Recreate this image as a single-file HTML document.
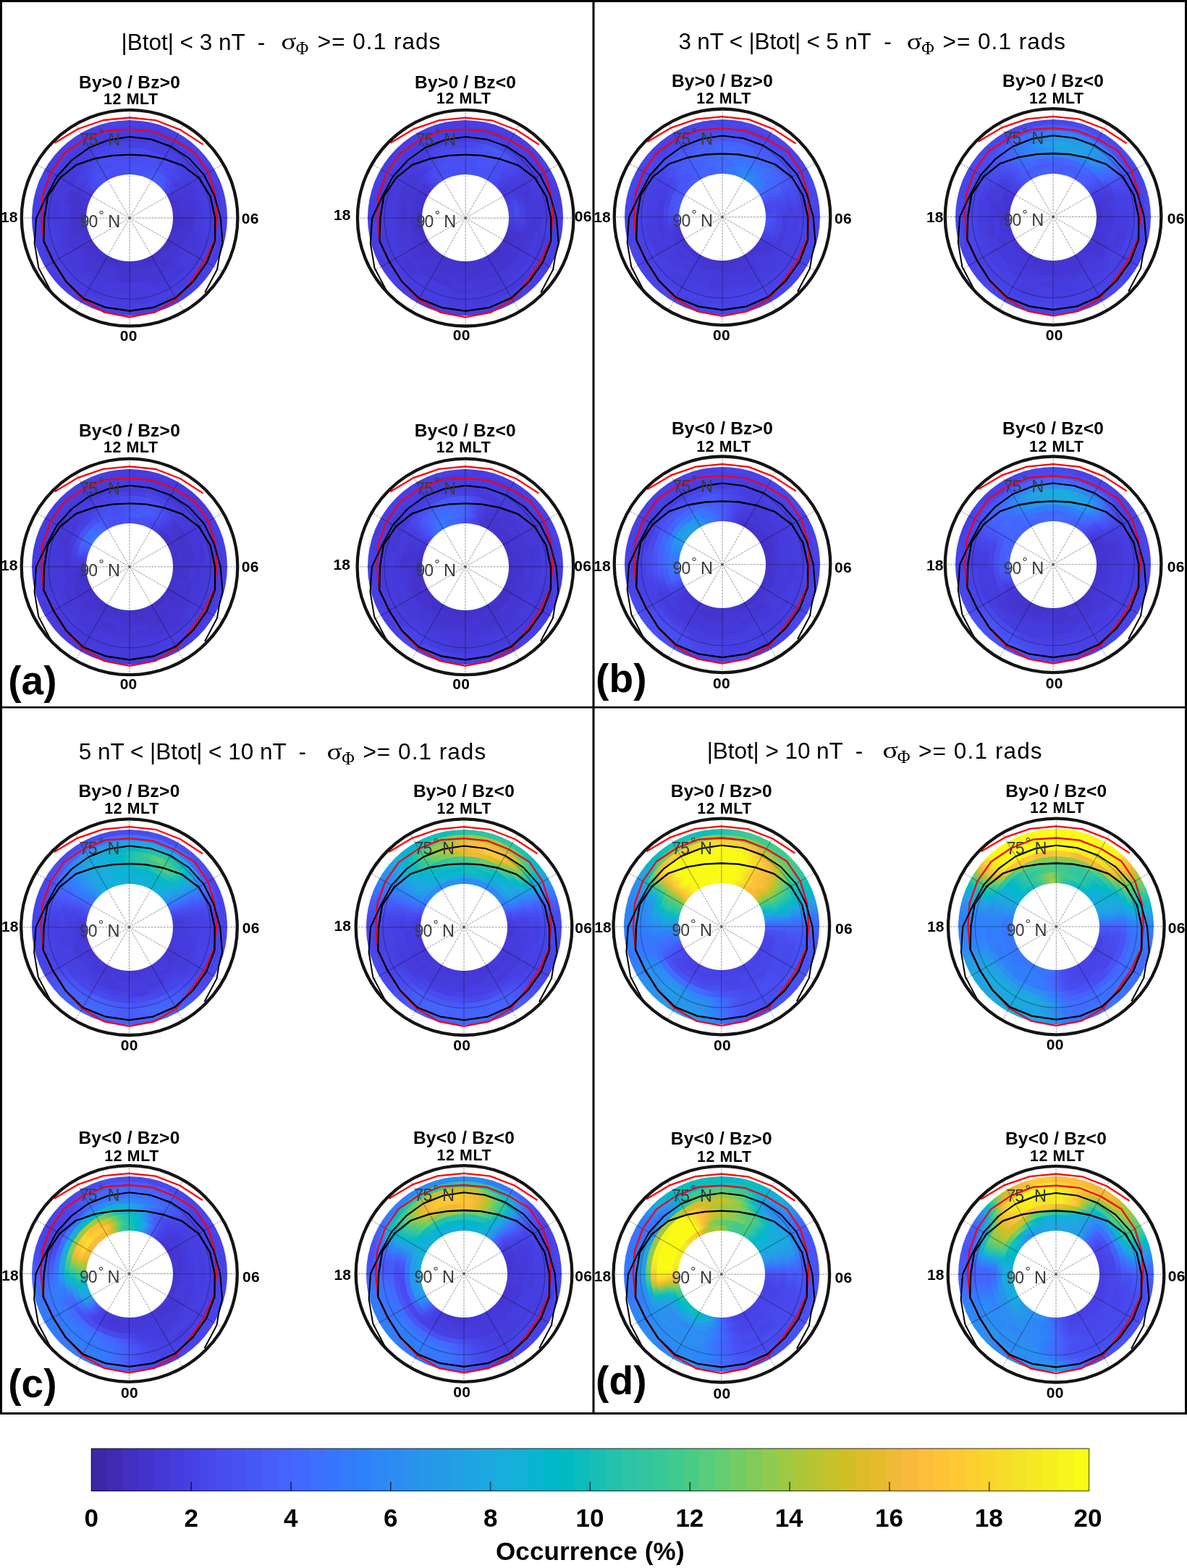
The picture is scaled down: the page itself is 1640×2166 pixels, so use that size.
<!DOCTYPE html><html><head><meta charset="utf-8"><style>html,body{margin:0;padding:0;background:#fff}body{width:1640px;height:2166px;position:relative;overflow:hidden}#wrap{position:absolute;left:0;top:0;width:1640px;height:2166px;filter:blur(0.55px)}#h i{position:absolute;border-radius:50%;display:block}svg{position:absolute;left:0;top:0}</style></head><body><div id="wrap"><div id="h"><i style="left:44.10px;top:166.10px;width:270.00px;height:270.00px;background:conic-gradient(#4740e4,#4740e4,#4740e4,#473fe3,#473fe3,#473fe3,#4742e6,#4742e6,#4742e6,#4743e7,#4743e7,#4743e7,#4740e4,#4740e4,#4740e4,#4740e3,#4740e3,#4740e3,#4741e5,#4741e5,#4741e5,#463de0,#463de0,#463de0,#4740e4,#4740e4,#4740e4,#463ee1,#463ee1,#463ee1,#4741e5,#4741e5,#4741e5,#463ee1,#463ee1,#463ee1,#4740e3,#4740e3,#4740e3,#4740e4,#4740e4,#4740e4,#4740e4,#4740e4,#4740e4,#463ee1,#463ee1,#463ee1,#4740e4,#4740e4,#4740e4,#4741e5,#4741e5,#4741e5,#4740e3,#4740e3,#4740e3,#4743e7,#4743e7,#4743e7,#463ee1,#463ee1,#463ee1,#4743e7,#4743e7,#4743e7,#4741e5,#4741e5,#4741e5,#4743e7,#4743e7,#4743e7,#4740e4)"></i><i style="left:51.60px;top:173.60px;width:255.00px;height:255.00px;background:conic-gradient(#463ee1,#463ee1,#463ee1,#463ee1,#463ee1,#463ee1,#4740e3,#4740e3,#4740e3,#463de0,#463de0,#463de0,#463cdf,#463cdf,#463cdf,#463ee1,#463ee1,#463ee1,#4741e4,#4741e4,#4741e4,#473fe3,#473fe3,#473fe3,#473fe3,#473fe3,#473fe3,#4740e4,#4740e4,#4740e4,#463de0,#463de0,#463de0,#4740e3,#4740e3,#4740e3,#463de0,#463de0,#463de0,#4741e5,#4741e5,#4741e5,#473ee1,#473ee1,#473ee1,#4741e5,#4741e5,#4741e5,#463cde,#463cde,#463cde,#4741e5,#4741e5,#4741e5,#473fe2,#473fe2,#473fe2,#473fe2,#473fe2,#473fe2,#4742e6,#4742e6,#4742e6,#4740e4,#4740e4,#4740e4,#473fe3,#473fe3,#473fe3,#473fe3,#473fe3,#473fe3,#463ee1)"></i><i style="left:59.10px;top:181.10px;width:240.00px;height:240.00px;background:conic-gradient(#463de0,#463de0,#463de0,#463bde,#463bde,#463bde,#463bdd,#463bdd,#463bdd,#463ee1,#463ee0,#463ee0,#463de0,#463de0,#463de0,#463bdc,#463bdc,#463bdc,#463ddf,#463ddf,#463ddf,#463ee1,#463ee1,#463ee1,#473fe3,#473fe3,#473fe3,#463cde,#463cde,#463cde,#473fe3,#473fe3,#473fe3,#463adb,#463adb,#463adb,#463ee1,#463ee1,#463ee1,#463bdc,#463bdc,#463bdc,#463cdf,#463cdf,#463cdf,#473fe2,#473fe2,#473fe2,#463de0,#463de0,#463de0,#463de0,#463de0,#463de0,#463cde,#463cde,#463cde,#473fe3,#473fe3,#473fe3,#463de0,#463de0,#463de0,#463cde,#463cde,#463cde,#463ee0,#463ee0,#463ee0,#463de0,#463de0,#463de0,#463de0)"></i><i style="left:66.60px;top:188.60px;width:225.00px;height:225.00px;background:conic-gradient(#463bde,#463bde,#463bde,#473fe2,#473fe2,#473fe2,#473fe2,#473fe2,#473fe2,#463bdd,#463adc,#463adb,#463cdf,#463cdf,#463cde,#463ee1,#463ee1,#463ee1,#463ee1,#463ee1,#463ee1,#463bdc,#463bdc,#463bdc,#4639da,#4639da,#4639da,#463de0,#463de0,#463de0,#463bdc,#463bdc,#463bdc,#463bdd,#463bdd,#463bdd,#463de0,#463de0,#463de0,#463adc,#463adc,#463adc,#463cdf,#463cdf,#463cdf,#463bdd,#463bdd,#463bdd,#463cdf,#463cdf,#463cdf,#463ee1,#463ee1,#463ee1,#4539d8,#4539d8,#4539d8,#463bdd,#463bde,#463bde,#463adc,#463adc,#463bdc,#463ada,#463adb,#463adb,#463ddf,#463ddf,#463ddf,#463cde,#463cde,#463cde,#463bde)"></i><i style="left:74.10px;top:196.10px;width:210.00px;height:210.00px;background:conic-gradient(#4740e3,#4740e3,#4740e3,#4740e4,#4740e4,#4740e4,#4740e4,#4740e4,#473fe3,#4741e5,#473fe3,#463ee0,#463ddf,#463cde,#463cde,#463bdd,#463bdd,#463bdd,#463bde,#463bde,#463bde,#4639da,#4639da,#4639da,#463bdc,#463bdc,#463bdc,#4537d6,#4537d6,#4537d6,#463adc,#463adc,#463adc,#463cde,#463cde,#463cde,#4538d7,#4538d7,#4538d7,#463adb,#463adb,#463adb,#463ada,#463ada,#463ada,#4539d9,#4539d9,#4539d9,#4539d9,#4539d9,#4539d9,#463bdd,#463bdd,#463bdd,#4537d6,#4537d6,#4537d6,#463ada,#463ada,#463adb,#4639da,#463adb,#463bdd,#463bdc,#463cdf,#463de0,#4743e7,#4743e7,#4743e8,#4745e9,#4745e9,#4745e9,#4740e3)"></i><i style="left:81.60px;top:203.60px;width:195.00px;height:195.00px;background:conic-gradient(#484cf0,#484cf0,#484cf0,#484bef,#484bee,#484bee,#484cef,#484bef,#4849ed,#4742e6,#473ee1,#463bdd,#4539d9,#4537d6,#4537d5,#4538d8,#4538d8,#4538d8,#463adc,#463adc,#463adc,#4537d5,#4537d5,#4537d5,#463adb,#463adb,#463adb,#4538d8,#4538d8,#4538d8,#4536d3,#4536d3,#4536d3,#463adb,#463adb,#463adb,#463ada,#463ada,#463ada,#4538d8,#4538d8,#4538d8,#4538d8,#4538d8,#4538d8,#4639d9,#4639d9,#4639d9,#4538d8,#4538d8,#4538d8,#4639d9,#4639d9,#4639d9,#463adb,#463adb,#463adb,#463adb,#463adb,#463adb,#4537d6,#4538d8,#463bdc,#473fe3,#4743e7,#4745e9,#4746ea,#4747eb,#4747eb,#4848ec,#4848ec,#4848ec,#484cf0)"></i><i style="left:89.10px;top:211.10px;width:180.00px;height:180.00px;background:conic-gradient(#484bef,#484bef,#484cef,#484ff2,#484ff2,#484ff2,#484aee,#4849ed,#4848ec,#4747eb,#4742e6,#463ee1,#463adb,#4538d8,#4537d6,#4536d3,#4536d3,#4536d2,#4435d1,#4435d1,#4435d1,#4537d5,#4537d5,#4537d5,#4538d8,#4538d8,#4538d8,#4535d2,#4535d2,#4535d2,#4435d2,#4435d2,#4435d2,#4435d0,#4435d0,#4435d0,#4435d0,#4435d0,#4435d0,#4538d7,#4538d7,#4538d7,#4435d2,#4435d2,#4435d2,#4539d9,#4539d9,#4539d9,#4536d2,#4536d2,#4536d2,#4537d5,#4537d5,#4537d5,#4539d9,#4539d9,#4639d9,#4435d0,#4435d1,#4435d2,#463bdc,#463de0,#4741e4,#4740e4,#4745e9,#4848ec,#484ff2,#4850f2,#4850f2,#484ef1,#484ef1,#484ef1,#484bef)"></i><i style="left:96.60px;top:218.60px;width:165.00px;height:165.00px;background:conic-gradient(#484df0,#484df0,#484df0,#484ef1,#484ff2,#484ff2,#484ff2,#484ef1,#484cf0,#4745ea,#4740e4,#463bdc,#463bde,#4639d9,#4538d7,#4537d5,#4536d5,#4536d4,#4434cf,#4434cf,#4434cf,#4433cc,#4433cc,#4433cc,#4536d4,#4536d4,#4536d4,#4434ce,#4434ce,#4434ce,#4537d5,#4537d5,#4537d5,#4536d2,#4536d2,#4536d2,#4433cd,#4433cd,#4433cd,#4537d5,#4537d5,#4537d5,#4536d4,#4536d4,#4536d4,#4435d1,#4435d1,#4435d1,#4536d3,#4536d3,#4536d3,#4433cc,#4433cc,#4433cc,#4434cf,#4434cf,#4434cf,#4434ce,#4434cf,#4435d0,#4537d5,#463adb,#473ee2,#4745e9,#484aed,#484cef,#484cf0,#484cf0,#484df0,#484ff2,#484ff2,#484ff2,#484df0)"></i><i style="left:104.10px;top:226.10px;width:150.00px;height:150.00px;background:conic-gradient(#4850f3,#4851f3,#4852f4,#4850f3,#4852f4,#4854f6,#4759f9,#475af9,#4757f7,#4850f3,#4848ec,#4740e4,#463bde,#4538d8,#4536d4,#4536d3,#4536d3,#4536d2,#4332ca,#4332ca,#4332ca,#4434cf,#4434cf,#4434cf,#4435d1,#4435d1,#4435d1,#4536d2,#4536d2,#4536d2,#4433cb,#4433cb,#4433cb,#4536d2,#4536d2,#4536d2,#4433cd,#4433cd,#4433cd,#4435d0,#4435d0,#4435d0,#4433cc,#4433cc,#4433cc,#4433cc,#4433cc,#4433cc,#4536d3,#4536d3,#4536d3,#4434cf,#4434cf,#4434cf,#4433cc,#4433cc,#4433cc,#4434cd,#4434cf,#4435d2,#463bdd,#4740e4,#4848ec,#484aee,#484ff1,#484ff2,#4851f3,#4851f3,#4850f3,#484df0,#484df0,#484df0,#4850f3)"></i><i style="left:111.60px;top:233.60px;width:135.00px;height:135.00px;background:conic-gradient(#4850f2,#4850f3,#4852f4,#4854f5,#4757f7,#475bf9,#475cfa,#465dfa,#475af9,#4759f8,#4850f2,#4745e9,#4538d8,#4434cf,#4432cb,#4434ce,#4433cd,#4433cc,#4332c8,#4332c8,#4332c8,#4434ce,#4434ce,#4434ce,#4331c7,#4331c7,#4331c7,#4434cf,#4434cf,#4434cf,#4331c7,#4331c7,#4331c7,#4332cb,#4332cb,#4332cb,#4434ce,#4434ce,#4434ce,#4331c6,#4331c6,#4331c6,#4434ce,#4434ce,#4434ce,#4331c8,#4331c8,#4331c8,#4434cf,#4434cf,#4434cf,#4434ce,#4434ce,#4434ce,#4434ce,#4434ce,#4434cf,#4434cf,#4435d1,#4536d4,#4539d8,#473fe2,#4747eb,#484aee,#484ef1,#484df1,#484df0,#484cef,#484bef,#484ff2,#484ff2,#484ff2,#4850f2)"></i><i style="left:119.10px;top:241.10px;width:120.00px;height:120.00px;background:#fff"></i><i style="left:508.20px;top:166.20px;width:270.00px;height:270.00px;background:conic-gradient(#4740e4,#4740e4,#4741e4,#473fe2,#473fe2,#473fe2,#473fe3,#473fe3,#473fe3,#4740e4,#4740e4,#4740e4,#4741e5,#4741e5,#4741e5,#463cdf,#463cdf,#463cdf,#4741e5,#4741e5,#4741e5,#473ee1,#473ee1,#473ee1,#463ee1,#463ee1,#463ee1,#473fe3,#473fe3,#473fe3,#4741e5,#4741e5,#4741e5,#463de0,#463de0,#463de0,#473ee1,#473ee1,#473ee1,#463ddf,#463ddf,#463ddf,#463ee1,#463ee1,#463ee1,#4740e4,#4740e4,#4740e4,#463de0,#463de0,#463de0,#473ee2,#473ee2,#473ee2,#463ee1,#463ee1,#463ee1,#473fe3,#473fe3,#473fe3,#463cdf,#463cdf,#463cdf,#473fe2,#473fe2,#473fe2,#4740e3,#4740e3,#4740e3,#463ee1,#463ee1,#463ee1,#4740e4)"></i><i style="left:515.70px;top:173.70px;width:255.00px;height:255.00px;background:conic-gradient(#463cdf,#463cdf,#463ddf,#463bdc,#463bdc,#463bdd,#4740e4,#4740e3,#4740e3,#463cde,#463cde,#463cde,#463cdf,#463cdf,#463cdf,#463cde,#463cde,#463cde,#463ddf,#463ddf,#463ddf,#473fe3,#473fe3,#473fe3,#4740e4,#4740e4,#4740e4,#4740e3,#4740e3,#4740e3,#4740e4,#4740e4,#4740e4,#463cdf,#463cdf,#463cdf,#463ddf,#463ddf,#463ddf,#463cde,#463cde,#463cde,#463cdf,#463cdf,#463cdf,#473fe2,#473fe2,#473fe2,#473fe3,#473fe3,#473fe3,#4740e4,#4740e4,#4740e4,#463cde,#463cde,#463cde,#463bdd,#463bdd,#463bdd,#473fe3,#473fe3,#473fe3,#463ee1,#463ee1,#463ee1,#473fe3,#473fe3,#473fe3,#473fe2,#473fe2,#473fe2,#463cdf)"></i><i style="left:523.20px;top:181.20px;width:240.00px;height:240.00px;background:conic-gradient(#463ddf,#463de0,#463ee1,#4740e3,#4741e4,#4741e5,#4741e5,#4740e4,#473fe3,#463de0,#463de0,#463ddf,#463de0,#463de0,#463de0,#463ee1,#463ee1,#463ee1,#463de0,#463de0,#463de0,#463adb,#463adb,#463adb,#463ddf,#463ddf,#463ddf,#4639da,#4639da,#4639da,#4639d9,#4639d9,#4639d9,#463adb,#463adb,#463adb,#463adc,#463adc,#463adc,#473ee1,#473ee1,#473ee1,#473ee1,#473ee1,#473ee1,#463ee1,#463ee1,#463ee1,#463bdd,#463bdd,#463bdd,#463bdc,#463bdc,#463bdc,#463adb,#463adb,#463adb,#463de0,#463de0,#463de0,#463cde,#463cde,#463cde,#463bdd,#463bdd,#463bdd,#463ee1,#463ee1,#473ee1,#463de0,#463de0,#463de0,#463ddf)"></i><i style="left:530.70px;top:188.70px;width:225.00px;height:225.00px;background:conic-gradient(#463cde,#463de0,#473fe3,#4744e8,#4747eb,#484aed,#4747eb,#4743e7,#473fe3,#463de0,#463bdd,#463adb,#463de0,#463ddf,#463ddf,#4639da,#4639da,#4639da,#463cdf,#463cdf,#463cdf,#4538d7,#4538d7,#4538d7,#463cdf,#463cdf,#463cdf,#463ddf,#463ddf,#463ddf,#463adc,#463adc,#463adc,#463ddf,#463ddf,#463ddf,#463bdc,#463bdc,#463bdc,#463cde,#463cde,#463cde,#463cde,#463cde,#463cde,#4538d8,#4538d8,#4538d8,#463cdf,#463cdf,#463cdf,#463bdd,#463bdd,#463bdd,#463bdd,#463bdd,#463bdd,#4639d9,#4639d9,#4639d9,#463cde,#463cde,#463cdf,#463bdd,#463cde,#463cdf,#463adb,#463adb,#463adb,#463ddf,#463de0,#463de0,#463cde)"></i><i style="left:538.20px;top:196.20px;width:210.00px;height:210.00px;background:conic-gradient(#4745e9,#4747eb,#484bee,#4852f4,#4757f7,#475bf9,#4758f8,#4852f4,#484bef,#4744e8,#473fe3,#463cdf,#463bdd,#463bdc,#463adc,#463adb,#463adb,#463adb,#4537d6,#4537d6,#4537d6,#463bdd,#463bdd,#463bdd,#4639d9,#4639d9,#4639d9,#463adb,#463adb,#463adb,#4537d5,#4537d5,#4537d5,#4538d7,#4538d7,#4538d7,#4536d4,#4536d4,#4536d4,#463bdd,#463bdd,#463bdd,#463adb,#463adb,#463adb,#4536d4,#4536d4,#4536d4,#4539d9,#4539d9,#4539d9,#463adc,#463adc,#463adc,#463ada,#463ada,#463ada,#463adb,#463adb,#463adb,#463adb,#463adb,#463bdc,#4539d9,#463adb,#463cde,#4743e7,#4744e8,#4745e9,#4744e8,#4744e8,#4745e9,#4745e9)"></i><i style="left:545.70px;top:203.70px;width:195.00px;height:195.00px;background:conic-gradient(#484df1,#484ff2,#4851f4,#4852f4,#4756f6,#4758f8,#4755f6,#4850f3,#484aee,#4747eb,#4740e4,#463cdf,#4537d6,#4536d5,#4536d4,#463adb,#463adb,#463adb,#4536d4,#4536d4,#4536d4,#4537d6,#4537d6,#4537d6,#4639da,#4639da,#4639da,#4639d9,#4639d9,#4639d9,#4538d7,#4538d7,#4538d7,#4538d7,#4538d7,#4538d7,#4639da,#4639da,#4639da,#4435d1,#4435d1,#4435d1,#4536d2,#4536d2,#4536d2,#4538d7,#4538d7,#4538d7,#4538d7,#4538d7,#4538d7,#4538d7,#4538d7,#4538d7,#4538d8,#4538d8,#4538d8,#4536d4,#4536d4,#4536d4,#4538d7,#4538d8,#4639d9,#463cdf,#4740e3,#4744e8,#4745ea,#4848ec,#484aee,#484cef,#484cf0,#484df0,#484df1)"></i><i style="left:553.20px;top:211.20px;width:180.00px;height:180.00px;background:conic-gradient(#4852f4,#4853f5,#4854f5,#4853f5,#4755f6,#4755f6,#4852f4,#484ef1,#4849ed,#4746ea,#473fe3,#463bdd,#4539d9,#4538d8,#4538d8,#4639d9,#4639da,#4639da,#4539d9,#4538d7,#4537d6,#4435d0,#4434d0,#4434cf,#4434cf,#4434cf,#4434cf,#4434cf,#4434cf,#4434cf,#4434cf,#4434cf,#4434cf,#4537d5,#4537d5,#4537d5,#4536d4,#4536d4,#4536d4,#4537d6,#4537d6,#4537d6,#4537d6,#4537d6,#4537d6,#4536d4,#4536d4,#4536d4,#4538d7,#4538d7,#4538d7,#4536d2,#4536d2,#4536d2,#4434ce,#4434ce,#4434ce,#4536d3,#4536d4,#4536d4,#4537d6,#4538d7,#4639da,#463adb,#463ee1,#4743e7,#4848ec,#484bef,#484df0,#484ef1,#484ff2,#484ff2,#4852f4)"></i><i style="left:560.70px;top:218.70px;width:165.00px;height:165.00px;background:conic-gradient(#4850f2,#4850f2,#4850f3,#4854f6,#4855f6,#4854f5,#484ef1,#484cef,#4747eb,#4744e8,#463ee1,#463bdc,#4538d7,#4539d9,#463bde,#473fe2,#4741e5,#4741e5,#4742e6,#473fe2,#463bdd,#4536d3,#4435d1,#4434cf,#4535d2,#4435d2,#4435d2,#4433cc,#4433cc,#4433cc,#4536d4,#4536d4,#4536d4,#4433cc,#4433cc,#4433cc,#4536d4,#4536d4,#4536d4,#4434cf,#4434cf,#4434cf,#4536d3,#4536d3,#4536d3,#4434ce,#4434ce,#4434ce,#4536d4,#4536d4,#4536d4,#4536d2,#4536d2,#4536d2,#4537d5,#4537d5,#4537d5,#4536d2,#4536d3,#4536d3,#4538d7,#4539d9,#463bdd,#473fe3,#4746ea,#484cef,#484ef1,#4850f3,#4852f4,#4850f2,#4850f3,#4850f3,#4850f2)"></i><i style="left:568.20px;top:226.20px;width:150.00px;height:150.00px;background:conic-gradient(#484ff2,#484ff2,#484ff2,#4852f4,#4852f4,#4852f4,#4851f4,#484ff2,#484aee,#4742e6,#463ddf,#463ada,#463bdc,#463ee1,#4744e8,#4747eb,#484cef,#484cef,#4746ea,#4740e3,#463adb,#4536d4,#4434cf,#4433cc,#4433cd,#4433cc,#4433cc,#4434ce,#4434ce,#4434ce,#4434cf,#4434cf,#4434cf,#4435d0,#4435d0,#4435d0,#4434cf,#4434cf,#4434cf,#4433cd,#4433cd,#4433cd,#4536d2,#4536d2,#4536d2,#4433cb,#4433cb,#4433cb,#4433cc,#4433cc,#4433cc,#4332c9,#4332c9,#4332c9,#4433cd,#4433cd,#4433cd,#4434ce,#4434cf,#4434cf,#4434cf,#4535d2,#4538d8,#4740e4,#4848ec,#484ef1,#484cf0,#484df0,#484df1,#484ef1,#484ef1,#484ef1,#484ff2)"></i><i style="left:575.70px;top:233.70px;width:135.00px;height:135.00px;background:conic-gradient(#4850f3,#4850f3,#4850f3,#4853f5,#4853f4,#4852f4,#484ef1,#484bef,#4747eb,#4740e4,#463adc,#4537d6,#4538d7,#463adb,#473ee2,#4741e4,#4744e8,#4744e8,#4740e3,#463bdd,#4537d5,#4434cf,#4433cb,#4332c9,#4433cc,#4433cc,#4433cc,#4331c7,#4331c7,#4331c7,#4434cf,#4434cf,#4434cf,#4434ce,#4434ce,#4434ce,#4434cd,#4434cd,#4434cd,#4433cd,#4433cd,#4433cd,#4433cc,#4433cc,#4433cc,#4332ca,#4332ca,#4332ca,#4331c6,#4331c6,#4331c6,#4332c9,#4332c9,#4332c9,#4331c7,#4331c7,#4331c7,#4433cc,#4433cc,#4433cd,#4433cc,#4435d0,#4538d7,#463ee1,#4745ea,#484cef,#4851f4,#4851f4,#4852f4,#484df0,#484ef1,#484ef1,#4850f3)"></i><i style="left:583.20px;top:241.20px;width:120.00px;height:120.00px;background:#fff"></i><i style="left:44.00px;top:647.90px;width:270.00px;height:270.00px;background:conic-gradient(#463bdc,#463bdc,#463bdc,#463de0,#463de0,#463de0,#463adc,#463adc,#463adc,#463adc,#463adc,#463adc,#473fe2,#473fe2,#473fe2,#463ee1,#463ee1,#463ee1,#473fe2,#473fe2,#473fe2,#473ee1,#473ee1,#473ee1,#463de0,#463de0,#463de0,#473ee2,#473ee2,#473ee2,#463de0,#463de0,#463de0,#463cde,#463cde,#463cde,#463cde,#463cde,#463cde,#473fe3,#473fe3,#473fe3,#463cdf,#463cdf,#463cdf,#463bdd,#463bdd,#463bdd,#463de0,#463de0,#463de0,#473fe2,#473fe2,#473fe2,#463cdf,#463cdf,#463cdf,#463de0,#463de0,#463de0,#463de0,#463de0,#463de0,#473fe2,#473fe2,#473fe2,#473fe2,#473fe2,#473fe2,#463ee1,#463ee1,#463ee1,#463bdc)"></i><i style="left:51.50px;top:655.40px;width:255.00px;height:255.00px;background:conic-gradient(#463cdf,#463cdf,#463cdf,#4639da,#4639da,#4639da,#463bdd,#463bdd,#463bdd,#463bdd,#463bdd,#463bdd,#463cdf,#463cdf,#463cdf,#463de0,#463de0,#463de0,#463cde,#463cde,#463cde,#463bde,#463bde,#463bde,#463bdd,#463bdd,#463bdd,#463de0,#463de0,#463de0,#463cde,#463cde,#463cde,#4639da,#4639da,#4639da,#463ada,#463ada,#463ada,#463bdd,#463bdd,#463bdd,#463bde,#463bde,#463bde,#4639da,#4639da,#4639da,#463ee0,#463ee0,#463ee0,#463bdd,#463bdd,#463bdd,#463bdd,#463bdd,#463bdd,#463cdf,#463cdf,#463cdf,#463cde,#463cde,#463cde,#463ee1,#463ee1,#463ee1,#463bdd,#463bdd,#463bdd,#463ddf,#463ddf,#463ddf,#463cdf)"></i><i style="left:59.00px;top:662.90px;width:240.00px;height:240.00px;background:conic-gradient(#463cdf,#463cdf,#463cdf,#463bdc,#463bdc,#463bdc,#463bdc,#463bdc,#463bdc,#4639d9,#4639d9,#4639d9,#463de0,#463de0,#463de0,#4538d8,#4538d8,#4538d8,#463ddf,#463ddf,#463ddf,#463cde,#463cde,#463cde,#463de0,#463de0,#463de0,#463ddf,#463ddf,#463ddf,#463ddf,#463ddf,#463ddf,#463ada,#463ada,#463ada,#463adb,#463adb,#463adb,#463bdd,#463bdd,#463bdd,#4538d8,#4538d8,#4538d8,#463adb,#463adb,#463adb,#463bdd,#463bdd,#463bdd,#4639d9,#4639d9,#4639d9,#463bdc,#463bdc,#463bdc,#463cde,#463cde,#463cde,#463adb,#463adb,#463adb,#463bdc,#463bdc,#463bdc,#463bdd,#463bdd,#463bdd,#463de0,#463de0,#463de0,#463cdf)"></i><i style="left:66.50px;top:670.40px;width:225.00px;height:225.00px;background:conic-gradient(#463bdd,#463bdd,#463bdd,#463bde,#463bdd,#463bdd,#4539d9,#4538d8,#4538d7,#463bde,#463bdd,#463bdd,#4639da,#4639da,#4639da,#463bdc,#463bdc,#463bdc,#4538d7,#4538d7,#4538d7,#463adb,#463adb,#463adb,#463bdc,#463bdc,#463bdc,#4538d7,#4538d7,#4538d7,#463adb,#463adb,#463adb,#463cde,#463cde,#463cde,#463adb,#463adb,#463adb,#463adb,#463adb,#463adb,#4539d9,#4539d9,#4539d9,#463bdd,#463bdd,#463bdd,#463adb,#463adb,#463adb,#4639da,#4639da,#4639da,#4538d7,#4538d7,#4538d7,#4639da,#4639da,#4639da,#4537d6,#4537d6,#4537d6,#463bdc,#463bdc,#463bdd,#4539d8,#4539d9,#4539d9,#4639d9,#4639d9,#4639d9,#463bdd)"></i><i style="left:74.00px;top:677.90px;width:210.00px;height:210.00px;background:conic-gradient(#473ee2,#473fe2,#473fe3,#4745e9,#4744e8,#4743e7,#4740e4,#463ee1,#463cde,#463bdd,#463adc,#463adb,#4538d8,#4538d8,#4538d8,#4536d3,#4536d3,#4536d3,#4539d8,#4539d8,#4539d8,#4538d7,#4538d7,#4538d7,#463adb,#463adb,#463adb,#4536d3,#4536d3,#4536d3,#4537d5,#4537d5,#4537d5,#4538d8,#4538d8,#4538d8,#4538d7,#4538d7,#4538d7,#463adb,#463adb,#463adb,#4537d6,#4537d6,#4537d6,#4639da,#4639da,#4639da,#4538d7,#4538d7,#4538d7,#4539d9,#4539d9,#4539d9,#4538d8,#4538d8,#4538d8,#4536d5,#4537d5,#4537d5,#463adb,#463adb,#463adc,#463adb,#463bdd,#463de0,#4740e3,#4741e5,#4742e6,#4740e4,#4740e4,#4741e5,#473ee2)"></i><i style="left:81.50px;top:685.40px;width:195.00px;height:195.00px;background:conic-gradient(#484bee,#484cf0,#484ef1,#484ff2,#484ef1,#484bef,#484bef,#4746ea,#4740e4,#463cde,#463adb,#4539d9,#4538d8,#4538d7,#4538d7,#4537d6,#4537d6,#4537d6,#4536d2,#4536d2,#4536d2,#4537d5,#4537d5,#4537d5,#4435d1,#4435d1,#4435d1,#4435d1,#4435d1,#4435d1,#4536d3,#4536d3,#4536d3,#4536d4,#4536d4,#4536d4,#4536d4,#4536d4,#4536d4,#4536d2,#4536d2,#4536d2,#4538d7,#4538d7,#4538d7,#4538d7,#4538d7,#4538d7,#4435d1,#4435d1,#4435d1,#4539d9,#4539d9,#4539d9,#4639d9,#4639d9,#4639da,#4536d3,#4536d3,#4536d4,#4538d7,#4538d8,#4639d9,#463cde,#473ee1,#4741e5,#4740e4,#4742e6,#4744e8,#4746ea,#4747eb,#4849ed,#484bee)"></i><i style="left:89.00px;top:692.90px;width:180.00px;height:180.00px;background:conic-gradient(#4756f7,#4759f8,#475cfa,#475af9,#4759f8,#4755f6,#4852f4,#484aee,#4742e6,#4538d8,#4536d3,#4435d0,#4434cf,#4434ce,#4434ce,#4434cd,#4434cd,#4433cd,#4538d7,#4538d7,#4538d7,#4433cd,#4433cd,#4433cd,#4434cf,#4434cf,#4434cf,#4535d2,#4535d2,#4535d2,#4433cd,#4433cd,#4433cd,#4537d5,#4537d5,#4537d5,#4537d5,#4537d5,#4537d5,#4434cf,#4434cf,#4434cf,#4537d5,#4537d5,#4537d5,#4536d4,#4536d4,#4536d4,#4537d7,#4537d7,#4537d7,#4535d2,#4536d2,#4536d3,#4435d1,#4536d3,#4537d5,#4539d9,#463adc,#463cde,#473fe2,#4740e3,#4741e5,#473fe2,#4741e5,#4743e7,#484aee,#484cf0,#484ef1,#484df1,#484ff2,#4851f4,#4756f7)"></i><i style="left:96.50px;top:700.40px;width:165.00px;height:165.00px;background:conic-gradient(#4853f5,#4756f7,#4759f8,#465dfa,#475bfa,#4758f8,#4852f4,#4849ed,#4741e5,#463adb,#4537d5,#4535d2,#4433cc,#4433cb,#4432cb,#4434ce,#4434ce,#4434ce,#4434cf,#4434cf,#4434cf,#4434d0,#4434d0,#4434d0,#4434cf,#4434cf,#4434cf,#4434ce,#4434ce,#4434ce,#4433cd,#4433cd,#4433cd,#4433cd,#4433cd,#4433cd,#4434d0,#4434d0,#4434d0,#4536d5,#4536d5,#4536d5,#4536d3,#4536d3,#4536d3,#4433cc,#4433cc,#4433cc,#4433cb,#4433cb,#4433cb,#4435d1,#4435d1,#4536d3,#4538d8,#463bdc,#473fe2,#4741e4,#4747eb,#484cef,#4852f4,#4755f6,#4756f7,#4852f4,#4851f3,#484ff1,#4853f4,#4851f3,#4850f3,#484bef,#484df0,#484ff2,#4853f5)"></i><i style="left:104.00px;top:707.90px;width:150.00px;height:150.00px;background:conic-gradient(#4757f7,#475af9,#475cfa,#4756f7,#4854f6,#4851f3,#484ef1,#4746ea,#463ee1,#463bdc,#4538d7,#4536d4,#4434ce,#4433cd,#4433cd,#4435d1,#4435d1,#4435d1,#4332c9,#4332c9,#4332c9,#4435d1,#4435d1,#4435d1,#4332ca,#4332ca,#4332ca,#4435d0,#4435d0,#4435d0,#4433cd,#4433cd,#4433cd,#4332ca,#4332ca,#4332ca,#4434ce,#4434ce,#4434ce,#4434cf,#4434cf,#4434cf,#4332ca,#4332ca,#4332ca,#4435d1,#4435d1,#4435d1,#4434ce,#4434ce,#4434ce,#4332ca,#4433cb,#4433cd,#4536d3,#4639da,#4740e4,#484ef1,#4759f8,#4562fc,#4466fd,#416bfe,#3f6eff,#426afe,#4465fd,#465efb,#475bf9,#4755f6,#4852f4,#4850f3,#4851f3,#4852f4,#4757f7)"></i><i style="left:111.50px;top:715.40px;width:135.00px;height:135.00px;background:conic-gradient(#484df0,#484ef1,#484ff2,#4852f4,#4850f3,#484df1,#4746ea,#473fe2,#4539d9,#4435d1,#4433cc,#4332c9,#4434cf,#4434cf,#4434ce,#4433cb,#4433cb,#4433cb,#4332ca,#4332ca,#4332ca,#4433cc,#4433cc,#4433cc,#4332ca,#4332ca,#4332ca,#4331c7,#4331c7,#4331c7,#4434cf,#4434cf,#4434cf,#4331c6,#4331c6,#4331c6,#4434ce,#4434ce,#4434ce,#4332cb,#4332cb,#4332cb,#4332c9,#4332c9,#4332c9,#4432cb,#4432cb,#4432cb,#4332ca,#4332ca,#4332ca,#4332c9,#4332ca,#4433cc,#4535d2,#4639da,#4741e5,#484aee,#4756f7,#4660fc,#406cfe,#3b73fe,#3777fe,#3c71ff,#416bfe,#4563fc,#475af9,#4853f4,#484ef1,#4851f4,#4851f3,#4852f4,#484df0)"></i><i style="left:119.00px;top:722.90px;width:120.00px;height:120.00px;background:#fff"></i><i style="left:507.90px;top:647.90px;width:270.00px;height:270.00px;background:conic-gradient(#463de0,#463de0,#463de0,#4741e5,#4741e5,#4741e5,#4741e5,#4741e5,#4741e5,#4741e5,#4741e5,#4741e5,#4740e3,#4740e3,#4740e3,#4741e5,#4741e5,#4741e5,#463cde,#463cde,#463cde,#4741e5,#4741e5,#4741e5,#463de0,#463de0,#463de0,#473fe2,#473fe2,#473fe2,#473fe2,#473fe2,#473fe2,#4742e6,#4742e6,#4742e6,#473fe2,#473fe3,#4741e4,#4744e8,#4747eb,#4849ed,#4849ed,#4849ed,#4747eb,#4743e7,#4740e4,#473ee2,#4741e5,#4740e4,#4740e4,#4740e4,#4740e4,#4740e4,#4741e5,#4741e5,#4741e5,#463cde,#463cde,#463cde,#4740e3,#4740e3,#4740e3,#473fe2,#473fe2,#473fe2,#473ee1,#473ee1,#473ee1,#4742e6,#4742e6,#4742e6,#463de0)"></i><i style="left:515.40px;top:655.40px;width:255.00px;height:255.00px;background:conic-gradient(#463ee1,#463ee1,#463ee1,#463cde,#463bde,#463bde,#463de0,#463de0,#463de0,#473ee2,#473ee2,#473ee2,#463bde,#463bde,#463bde,#463cde,#463cde,#463cde,#463bdd,#463bdd,#463bdd,#463cde,#463cde,#463cde,#473fe2,#473fe2,#473fe2,#463adc,#463adc,#463adc,#463cde,#463cde,#463cde,#473fe3,#473fe3,#473fe3,#4740e4,#4741e5,#4742e6,#4744e8,#4747eb,#4849ed,#4745e9,#4745e9,#4743e7,#4743e7,#4741e5,#473fe2,#473ee1,#463ee1,#463de0,#463de0,#463ddf,#463ddf,#463de0,#463de0,#463de0,#4740e3,#4740e3,#4740e3,#4740e3,#4740e3,#4740e4,#473fe3,#473fe3,#473fe3,#473fe2,#473fe2,#473fe2,#463adc,#463adc,#463adc,#463ee1)"></i><i style="left:522.90px;top:662.90px;width:240.00px;height:240.00px;background:conic-gradient(#463ee1,#463ee1,#463ee1,#463de0,#463de0,#463de0,#463ddf,#463ddf,#463ddf,#463bdd,#463bdd,#463bdd,#463cde,#463cde,#463cde,#4639da,#4639da,#4639da,#463cdf,#463cdf,#463cdf,#4639da,#4639da,#4639da,#4639da,#4639da,#4639da,#463cde,#463cde,#463cde,#463ada,#463ada,#463ada,#463de0,#463de0,#463de0,#463adb,#463adb,#463bdc,#463cde,#463ee1,#473fe3,#4743e7,#4743e7,#4742e6,#463ee0,#463cde,#463bdc,#463ee0,#463de0,#463de0,#463adb,#463adb,#463adb,#463bde,#463bde,#463bde,#463adc,#463adc,#463adc,#463bdd,#463bdd,#463bde,#463ee1,#473ee1,#473ee1,#463cde,#463cde,#463cde,#473fe2,#473fe2,#473fe2,#463ee1)"></i><i style="left:530.40px;top:670.40px;width:225.00px;height:225.00px;background:conic-gradient(#463adb,#463adb,#4639da,#463de0,#463de0,#463ddf,#463ddf,#463ddf,#463cdf,#4639d9,#4639d9,#4639d9,#4538d8,#4538d8,#4538d8,#463bdd,#463bdd,#463bdd,#463ddf,#463ddf,#463ddf,#4539d9,#4539d9,#4539d9,#463bdc,#463bdc,#463bdc,#4538d8,#4538d8,#4538d8,#463ddf,#463ddf,#463ddf,#4639d9,#4639d9,#4639d9,#4538d8,#4538d8,#4538d8,#463bdd,#463cde,#463cdf,#463ee1,#463ee1,#463de0,#463ddf,#463cde,#463cde,#463bdc,#463adc,#463adc,#463ada,#4639da,#4639da,#4539d9,#4539d9,#4539d9,#4538d8,#4538d8,#4539d8,#4639d9,#4639da,#463adb,#463bde,#463cde,#463cdf,#473fe2,#473fe3,#473fe3,#463de0,#463de0,#463de0,#463adb)"></i><i style="left:537.90px;top:677.90px;width:210.00px;height:210.00px;background:conic-gradient(#4740e4,#473ee1,#463cde,#4639da,#4538d8,#4537d6,#463bde,#463bdd,#463bdd,#463adc,#463adc,#463adc,#4639da,#4639da,#4639da,#4537d6,#4537d6,#4537d6,#4639da,#4639da,#4639da,#463adb,#463adb,#463adb,#463ada,#463ada,#463ada,#4538d7,#4538d7,#4538d7,#4639da,#4639da,#4639da,#4639da,#4639da,#4639da,#4538d7,#4538d7,#4538d7,#463adb,#463adb,#463adc,#463bdd,#463bdd,#463bdd,#463adb,#463adb,#463adb,#4538d7,#4538d7,#4538d7,#463adb,#463adb,#463adb,#463bdd,#463bdd,#463bdd,#4537d5,#4537d5,#4537d6,#4538d8,#4639da,#463bde,#463ee1,#4740e4,#4741e5,#4743e7,#4743e7,#4744e8,#4745e9,#4744e8,#4743e7,#4740e4)"></i><i style="left:545.40px;top:685.40px;width:195.00px;height:195.00px;background:conic-gradient(#4854f5,#484ef1,#4848ec,#4740e3,#463cde,#4639da,#4538d8,#4538d7,#4537d6,#4538d7,#4538d7,#4538d7,#4539d9,#4539d9,#4539d9,#4435d1,#4435d1,#4435d1,#4536d4,#4536d4,#4536d4,#4537d5,#4537d5,#4537d5,#4537d5,#4537d5,#4537d5,#4535d2,#4535d2,#4535d2,#4537d6,#4537d6,#4537d6,#4537d6,#4537d6,#4537d6,#4639da,#4639da,#4639da,#4538d8,#4538d8,#4538d8,#4538d8,#4538d8,#4538d8,#4639d9,#4639d9,#4539d9,#463ada,#463ada,#463ada,#4639da,#4639da,#4639da,#4538d7,#4538d8,#4538d8,#463ada,#463adb,#463bdd,#463cde,#4740e4,#4746ea,#484cf0,#4852f4,#4756f7,#4759f8,#475af9,#475af9,#4759f8,#4758f8,#4756f6,#4854f5)"></i><i style="left:552.90px;top:692.90px;width:180.00px;height:180.00px;background:conic-gradient(#475cfa,#4854f5,#484aee,#4742e6,#463cde,#4539d9,#4539d9,#4538d7,#4538d7,#4536d3,#4536d3,#4536d3,#4536d4,#4536d4,#4536d4,#4535d2,#4535d2,#4535d2,#4538d8,#4538d8,#4538d8,#4536d4,#4536d4,#4536d4,#4435d2,#4435d2,#4435d2,#4536d3,#4536d3,#4536d3,#4434cf,#4434cf,#4434cf,#4535d2,#4535d2,#4535d2,#4537d5,#4537d5,#4537d5,#4434ce,#4434ce,#4434ce,#4537d5,#4537d5,#4537d5,#4538d8,#4538d8,#4538d8,#4538d7,#4538d7,#4538d7,#4538d7,#4538d7,#4538d7,#4434cf,#4434cf,#4434d0,#4538d7,#4538d8,#463adb,#4639da,#473fe3,#4848ec,#4853f5,#475bf9,#4660fc,#4368fd,#4269fe,#426afe,#4368fd,#4466fd,#4562fc,#475cfa)"></i><i style="left:560.40px;top:700.40px;width:165.00px;height:165.00px;background:conic-gradient(#4660fb,#4757f7,#484cf0,#4740e4,#463ada,#4536d4,#4537d6,#4536d4,#4536d3,#4537d5,#4537d5,#4537d5,#4435d1,#4435d1,#4435d1,#4435d0,#4435d0,#4435d0,#4434ce,#4434ce,#4434ce,#4536d4,#4536d4,#4536d4,#4536d4,#4536d4,#4536d4,#4537d6,#4537d6,#4537d6,#4433cd,#4433cd,#4433cd,#4536d5,#4536d5,#4536d5,#4433cc,#4433cc,#4433cc,#4434cf,#4434cf,#4434cf,#4435d0,#4435d0,#4435d0,#4433cd,#4433cd,#4433cd,#4433cc,#4433cc,#4433cc,#4537d5,#4537d5,#4537d5,#4435d1,#4435d1,#4435d1,#4435d1,#4536d3,#4537d7,#463bdd,#4742e6,#484cf0,#4755f6,#465efb,#4465fd,#426afe,#416bfe,#416bfe,#406dfe,#416afe,#4367fd,#4660fb)"></i><i style="left:567.90px;top:707.90px;width:150.00px;height:150.00px;background:conic-gradient(#4562fc,#4759f8,#484ef1,#473fe2,#4538d8,#4435d1,#4435d1,#4434cf,#4434ce,#4433cc,#4433cc,#4433cc,#4535d2,#4535d2,#4535d2,#4434cf,#4434cf,#4434cf,#4434cf,#4434cf,#4434cf,#4433cc,#4433cc,#4433cc,#4332c9,#4332c9,#4332c9,#4332c9,#4332c9,#4332c9,#4435d0,#4435d0,#4435d0,#4433cc,#4433cc,#4433cc,#4433cb,#4433cb,#4433cb,#4435d0,#4435d0,#4435d0,#4332ca,#4332ca,#4332ca,#4435d1,#4435d1,#4435d1,#4332c9,#4332c9,#4332c9,#4433cb,#4433cb,#4433cb,#4435d0,#4435d0,#4435d1,#4535d2,#4536d4,#4538d8,#463cdf,#4744e9,#4850f3,#4757f7,#4562fc,#426afe,#3678fe,#3776fe,#3a74fe,#3e6fff,#416bfe,#4367fd,#4562fc)"></i><i style="left:575.40px;top:715.40px;width:135.00px;height:135.00px;background:conic-gradient(#4757f7,#484ff2,#4745e9,#473fe2,#4538d8,#4435d1,#4535d2,#4435d0,#4434d0,#4434d0,#4434d0,#4434cf,#4332c8,#4332c8,#4332c8,#4332cb,#4332cb,#4332cb,#4332c8,#4332c8,#4332c8,#4332c9,#4332c9,#4332c9,#4331c8,#4331c8,#4331c8,#4433cd,#4433cd,#4433cd,#4332ca,#4332ca,#4332ca,#4434cf,#4434cf,#4434cf,#4331c6,#4331c6,#4331c6,#4332c9,#4332c9,#4332c9,#4332ca,#4332ca,#4332ca,#4331c6,#4331c6,#4331c6,#4433cd,#4433cd,#4433cd,#4332c8,#4332c8,#4332c8,#4332c9,#4332c9,#4332c9,#4433cb,#4433cd,#4435d2,#4539d9,#4741e4,#484df0,#465dfa,#426afe,#3974fe,#3975fe,#3d70ff,#416bfe,#4367fd,#4563fc,#465efb,#4757f7)"></i><i style="left:582.90px;top:722.90px;width:120.00px;height:120.00px;background:#fff"></i><i style="left:863.00px;top:164.80px;width:270.00px;height:270.00px;background:conic-gradient(#4747eb,#4747eb,#4747eb,#4848ec,#4848ec,#4848ec,#4747eb,#4747eb,#4747eb,#4743e7,#4743e7,#4743e7,#4747ec,#4747eb,#4747eb,#4745ea,#4745ea,#4745e9,#4743e7,#4743e7,#4743e7,#4744e8,#4744e8,#4744e8,#4743e7,#4743e7,#4743e7,#4743e7,#4743e7,#4743e7,#4744e8,#4744e8,#4744e8,#4745e9,#4745e9,#4745e9,#4744e8,#4744e8,#4744e8,#4848ec,#4848ec,#4848ec,#4848ec,#4848ec,#4848ec,#4743e7,#4743e7,#4743e7,#4746eb,#4746eb,#4746eb,#4743e7,#4743e7,#4743e7,#4746ea,#4746ea,#4746ea,#4747ec,#4847ec,#4847ec,#4747eb,#4747eb,#4747eb,#4743e7,#4743e7,#4743e7,#4742e7,#4742e7,#4742e7,#4744e8,#4744e8,#4744e8,#4747eb)"></i><i style="left:870.50px;top:172.30px;width:255.00px;height:255.00px;background:conic-gradient(#4747eb,#4747eb,#4747eb,#4742e6,#4742e6,#4742e6,#4745e9,#4745e9,#4745e9,#4848ec,#4848ec,#4848ec,#4746ea,#4746ea,#4745ea,#4746ea,#4746ea,#4746ea,#4743e7,#4743e7,#4743e7,#4744e8,#4744e8,#4744e8,#4744e8,#4744e8,#4744e8,#4741e5,#4741e5,#4741e5,#4745e9,#4745e9,#4745e9,#4741e5,#4741e5,#4741e5,#4744e8,#4744e8,#4744e8,#4741e5,#4741e5,#4741e5,#4745e9,#4745e9,#4745e9,#4743e7,#4743e7,#4743e7,#4743e7,#4743e7,#4743e7,#4744e9,#4744e9,#4744e9,#4741e5,#4741e5,#4741e5,#4746ea,#4746ea,#4746ea,#4747eb,#4747eb,#4747eb,#4743e7,#4743e8,#4744e8,#4848ec,#4848ec,#4848ec,#4848ec,#4848ec,#4848ec,#4747eb)"></i><i style="left:878.00px;top:179.80px;width:240.00px;height:240.00px;background:conic-gradient(#484bef,#484bef,#484bef,#4849ed,#4849ed,#4849ed,#484cef,#484cef,#484cef,#4746ea,#4746ea,#4745ea,#484bee,#4849ed,#4848ec,#4743e8,#4742e6,#4742e6,#4743e7,#4743e7,#4743e7,#4742e6,#4742e6,#4742e6,#4740e4,#4740e4,#4740e4,#4742e6,#4742e6,#4742e6,#4743e7,#4743e7,#4743e7,#4742e6,#4742e6,#4742e6,#4740e4,#4740e4,#4740e4,#4744e8,#4744e8,#4744e8,#4740e4,#4740e4,#4740e4,#4743e7,#4743e7,#4743e7,#473fe3,#473fe3,#473fe3,#4742e7,#4742e7,#4742e7,#4741e4,#4741e4,#4741e5,#4741e4,#4741e4,#4741e5,#4744e8,#4745e9,#4746ea,#4746ea,#4747eb,#4847ec,#484aee,#484aee,#484aee,#484aee,#484aee,#484aee,#484bef)"></i><i style="left:885.50px;top:187.30px;width:225.00px;height:225.00px;background:conic-gradient(#4755f6,#4755f6,#4755f6,#4854f5,#4854f5,#4854f5,#4759f8,#4759f8,#4759f8,#4854f6,#4854f5,#4853f5,#4852f4,#484ff2,#484bef,#4745e9,#4742e6,#4740e4,#4741e5,#4741e5,#4741e5,#473fe2,#473fe2,#473fe2,#473ee2,#473ee2,#473ee2,#473fe3,#473fe3,#473fe3,#4741e4,#4741e4,#4741e4,#4741e5,#4741e5,#4741e5,#4740e4,#4740e4,#4740e4,#463ee0,#463ee0,#463ee0,#463de0,#463de0,#463de0,#473fe3,#473fe3,#473fe3,#4742e6,#4742e6,#4742e6,#473fe2,#473fe2,#473fe2,#4741e5,#4741e5,#4741e5,#4741e4,#4741e5,#4742e6,#4746ea,#4849ed,#484df0,#484ff2,#4852f4,#4853f5,#4852f4,#4852f4,#4853f4,#4757f7,#4757f7,#4757f7,#4755f6)"></i><i style="left:893.00px;top:194.80px;width:210.00px;height:210.00px;background:conic-gradient(#4561fc,#4561fc,#4562fc,#4563fc,#4563fc,#4563fc,#475cfa,#475cfa,#475cfa,#465ffb,#465efb,#475dfa,#4759f8,#4854f5,#484df1,#484bee,#4746ea,#4743e7,#463ee1,#463de0,#463de0,#473fe3,#473fe2,#473fe2,#463ddf,#463ddf,#463ddf,#463de0,#463de0,#463de0,#463bde,#463bde,#463bde,#473fe2,#473fe2,#473fe2,#463de0,#463de0,#463de0,#463ee1,#463ee1,#463ee1,#463cde,#463cde,#463cde,#473fe2,#473fe2,#473fe2,#463cde,#463cde,#463cde,#463bdd,#463bdd,#463bdd,#463ee1,#463ee1,#463ee1,#4740e3,#4740e4,#4742e6,#4740e4,#4744e9,#484aee,#4756f6,#475af9,#475dfa,#4759f9,#475af9,#475bf9,#465efb,#465ffb,#465ffb,#4561fc)"></i><i style="left:900.50px;top:202.30px;width:195.00px;height:195.00px;background:conic-gradient(#4369fe,#426afe,#426afe,#4466fd,#4466fd,#4466fd,#4466fd,#4466fd,#4466fd,#4368fe,#4367fd,#4464fd,#475bf9,#4855f6,#484cf0,#4746ea,#4740e4,#463de0,#4740e4,#473fe3,#473fe2,#473ee1,#463ee1,#463ee1,#463de0,#463de0,#463de0,#463bdc,#463bdc,#463bdc,#463adb,#463adb,#463adb,#463adc,#463adc,#463adc,#4639da,#4639da,#4639da,#463bdd,#463bdd,#463bdd,#463ee1,#463ee1,#463ee1,#463bdc,#463bdc,#463bdc,#463bdc,#463bdc,#463bdc,#463cdf,#463cdf,#463cdf,#463ee1,#463ee1,#473ee1,#463ee1,#473ee1,#4740e3,#4744e8,#4849ed,#484ff2,#4850f3,#4755f6,#4758f8,#4660fc,#4561fc,#4562fc,#465efb,#4660fb,#4562fc,#4369fe)"></i><i style="left:908.00px;top:209.80px;width:180.00px;height:180.00px;background:conic-gradient(#3e70ff,#3c71ff,#3b72fe,#3c72ff,#3b72ff,#3b73fe,#3e70ff,#3e6fff,#3e6fff,#406dfe,#416bfe,#4367fd,#4465fd,#465dfa,#4853f5,#484bef,#4745e9,#4742e6,#463ddf,#463cdf,#463cde,#463adb,#4639da,#4539d9,#463cde,#463bdd,#463bdd,#463ada,#463ada,#463ada,#463adc,#463adc,#463adc,#463adb,#463adb,#463adb,#463adb,#463adb,#463adb,#463ddf,#463ddf,#463ddf,#4639d9,#4639d9,#4639d9,#463bdd,#463bdd,#463bdd,#463adc,#463adc,#463bdc,#4639d9,#4639da,#463adb,#4639da,#463ada,#463adb,#463cdf,#463ddf,#473ee1,#4742e6,#4747eb,#484df1,#4756f7,#475bfa,#465efb,#465ffb,#4661fc,#4562fc,#4563fc,#4466fd,#4269fe,#3e70ff)"></i><i style="left:915.50px;top:217.30px;width:165.00px;height:165.00px;background:conic-gradient(#416bfe,#406dfe,#3e6fff,#3b72ff,#3a74fe,#3875fe,#3677fe,#3777fe,#3975fe,#3c71ff,#3f6efe,#4269fe,#4465fd,#475cfa,#4851f4,#484aee,#4746ea,#4745e9,#4745e9,#4745ea,#4744e8,#4744e8,#4741e5,#473ee1,#4538d8,#4537d6,#4537d5,#463bdd,#463bdc,#463bdc,#4536d5,#4536d5,#4536d4,#4537d6,#4537d6,#4537d6,#463adc,#463adc,#463adc,#463adc,#463adc,#463adc,#463adb,#463adb,#463adb,#4537d6,#4537d6,#4537d6,#463bdd,#463bdd,#463cde,#463bdc,#463cdf,#473ee2,#4742e6,#4744e8,#4745e9,#4742e6,#4742e6,#4743e8,#4848ec,#484bef,#4850f3,#4854f6,#4758f8,#475bf9,#465dfb,#465ffb,#4661fc,#4563fd,#4367fd,#416bfe,#416bfe)"></i><i style="left:923.00px;top:224.80px;width:150.00px;height:150.00px;background:conic-gradient(#416bfe,#3f6efe,#3c71ff,#327cfc,#3080fb,#2f83f9,#2f82fa,#2f80fa,#317dfc,#327dfc,#3777fe,#3d70ff,#4562fc,#4758f8,#484ef1,#484aee,#4848ec,#484aee,#484ef1,#4850f2,#484df1,#484aee,#4745e9,#473fe3,#4538d7,#4536d4,#4535d2,#4539d9,#4539d9,#4539d9,#4537d6,#4537d6,#4537d6,#4537d6,#4537d6,#4537d6,#4435d0,#4435d0,#4435d0,#4536d4,#4536d4,#4536d4,#4539d9,#4539d9,#4539d9,#4539d9,#4539d9,#4539d9,#4538d7,#4538d8,#4639da,#463bdd,#473fe2,#4744e8,#484cef,#4850f2,#4852f4,#4853f5,#4854f5,#4854f6,#4755f6,#4756f7,#4758f8,#4854f5,#4755f6,#4757f7,#4660fb,#4561fc,#4563fd,#4563fd,#4367fd,#416bfe,#416bfe)"></i><i style="left:930.50px;top:232.30px;width:135.00px;height:135.00px;background:conic-gradient(#3f6efe,#3c71ff,#3876fe,#347afd,#307ffb,#2f82f9,#2d8af4,#2d88f6,#2e84f8,#307ffb,#3579fd,#3d71ff,#426afe,#465ffb,#4854f5,#4746eb,#4745ea,#4848ec,#4851f3,#4853f5,#4851f3,#484cf0,#4746ea,#473fe3,#463bdd,#4538d8,#4537d6,#4536d3,#4536d2,#4535d2,#4536d4,#4536d4,#4536d4,#4434ce,#4434ce,#4434ce,#4535d2,#4535d2,#4535d2,#4536d2,#4536d2,#4536d2,#4433cc,#4433cc,#4433cc,#4536d3,#4536d3,#4536d3,#4434ce,#4434d0,#4536d2,#4539d9,#463de0,#4744e9,#4850f2,#4755f6,#4758f8,#4758f8,#4759f8,#4759f8,#4757f7,#4757f7,#4757f7,#475bf9,#475cfa,#465dfa,#465ffb,#4661fc,#4563fc,#4660fb,#4563fd,#4367fd,#3f6efe)"></i><i style="left:938.00px;top:239.80px;width:120.00px;height:120.00px;background:#fff"></i><i style="left:1320.10px;top:164.50px;width:270.00px;height:270.00px;background:conic-gradient(#4848ec,#4849ec,#4849ed,#484cf0,#484cf0,#484cf0,#484bee,#484aee,#484aee,#484aee,#4849ed,#4849ed,#4744e8,#4744e8,#4743e8,#4848ec,#4848ec,#4848ec,#4848ec,#4848ec,#4848ec,#4742e6,#4742e6,#4742e6,#4745e9,#4745e9,#4745e9,#4849ed,#4849ed,#4849ed,#4747eb,#4747eb,#4747eb,#4745e9,#4745e9,#4745e9,#4743e7,#4743e7,#4743e7,#4747eb,#4747eb,#4747eb,#4744e8,#4744e8,#4744e8,#4745e9,#4745e9,#4745e9,#4745e9,#4745e9,#4745e9,#4848ec,#4848ec,#4848ec,#4848ec,#4848ec,#4848ec,#4744e8,#4744e8,#4744e9,#4849ed,#4849ed,#4849ed,#4848ec,#4849ed,#4849ed,#4848ec,#4848ec,#4849ed,#4746eb,#4747eb,#4747eb,#4848ec)"></i><i style="left:1327.60px;top:172.00px;width:255.00px;height:255.00px;background:conic-gradient(#475bf9,#475bfa,#475cfa,#475cfa,#475cfa,#475bf9,#4756f7,#4755f6,#4853f5,#4850f2,#484cf0,#4848ec,#484aed,#4747ec,#4746ea,#4742e6,#4742e6,#4742e6,#4744e8,#4744e8,#4744e8,#4741e4,#4741e4,#4741e4,#4745e9,#4745e9,#4745e9,#4744e8,#4744e8,#4744e8,#4740e4,#4740e4,#4740e4,#4741e5,#4741e5,#4741e5,#4746ea,#4746ea,#4746ea,#4745e9,#4745e9,#4745e9,#4745e9,#4745e9,#4745e9,#4746ea,#4746ea,#4746ea,#4745e9,#4745e9,#4745e9,#4741e5,#4741e5,#4741e5,#4743e7,#4743e7,#4743e7,#4746ea,#4747eb,#4848ec,#4747eb,#4848ec,#484aee,#484df1,#484ff2,#4851f3,#4852f4,#4855f6,#4756f7,#4757f7,#4758f8,#4759f8,#475bf9)"></i><i style="left:1335.10px;top:179.50px;width:240.00px;height:240.00px;background:conic-gradient(#317efb,#3080fb,#2f81fa,#2e85f8,#2e85f8,#2e84f8,#317efb,#337afd,#3a74fe,#3c72ff,#4367fd,#475bf9,#484ef1,#4848ec,#4744e8,#4743e7,#4742e6,#4742e6,#4745e9,#4745e9,#4745e9,#4742e6,#4742e6,#4742e6,#4740e4,#4740e4,#4740e4,#4742e6,#4742e6,#4742e6,#4741e5,#4741e5,#4741e5,#4741e5,#4741e5,#4741e5,#4742e6,#4742e6,#4742e6,#4741e5,#4741e5,#4741e5,#4743e7,#4743e7,#4743e7,#4740e4,#4740e4,#4740e4,#4743e7,#4743e7,#4743e7,#4745e9,#4745e9,#4745e9,#4743e7,#4743e7,#4743e7,#4742e7,#4744e8,#4746ea,#4747eb,#484aee,#484df1,#4852f4,#4854f6,#475cfa,#4368fe,#3e6fff,#3875fe,#3875fe,#3579fd,#317dfc,#317efb)"></i><i style="left:1342.60px;top:187.00px;width:225.00px;height:225.00px;background:conic-gradient(#2896ec,#2699e9,#259be8,#259be8,#269be8,#2699e9,#2699e9,#2994ed,#2d8bf3,#3080fb,#3d70ff,#4660fb,#4852f4,#4849ed,#4744e8,#4742e6,#4741e5,#4740e4,#473fe2,#473ee2,#473ee2,#4742e6,#4742e6,#4742e6,#4740e3,#4740e3,#4740e3,#4740e4,#4740e4,#4740e4,#473fe2,#473fe2,#473fe2,#463ee1,#463ee1,#463ee1,#473fe2,#473fe2,#473fe2,#463de0,#463de0,#463de0,#4742e6,#4742e6,#4742e6,#4742e6,#4742e6,#4742e6,#473fe2,#473fe2,#473fe3,#4742e6,#4742e6,#4742e6,#4740e4,#4741e4,#4741e5,#4744e8,#4745e9,#4848ec,#4747eb,#484bef,#484ef1,#4853f5,#475af9,#4564fd,#406dfe,#3777fe,#307ffb,#2f82fa,#2d87f6,#2d8df2,#2896ec)"></i><i style="left:1350.10px;top:194.50px;width:210.00px;height:210.00px;background:conic-gradient(#22a2e4,#1fa6e1,#1da9e0,#23a0e5,#23a0e5,#249ee6,#259be8,#2895ec,#2d8cf3,#2e87f7,#3776fe,#4564fd,#4854f6,#484aee,#4744e8,#4741e5,#473fe3,#473fe2,#463cdf,#463cde,#463cde,#463bdd,#463bdd,#463bdd,#4741e4,#4741e4,#4741e4,#463ee1,#463ee1,#463ee1,#463ddf,#463ddf,#463ddf,#463cde,#463cde,#463cde,#473ee1,#473ee1,#473ee1,#463ddf,#463ddf,#463ddf,#4741e4,#4741e4,#4741e4,#463cdf,#463cdf,#463cdf,#473fe3,#473fe3,#473fe3,#463cdf,#463cdf,#463cdf,#463cdf,#463ddf,#463de0,#473fe2,#4740e4,#4743e7,#4747ec,#484cef,#4850f3,#4852f4,#475bf9,#4465fd,#3e6fff,#3479fd,#2f81fa,#2c8ef1,#2995ec,#259ce7,#22a2e4)"></i><i style="left:1357.60px;top:202.00px;width:195.00px;height:195.00px;background:conic-gradient(#259ce7,#23a0e5,#21a3e4,#20a4e3,#21a4e3,#22a2e4,#2798ea,#2b92ee,#2d8af5,#327cfc,#406dfe,#475cfa,#4853f5,#4849ed,#4743e7,#4740e4,#473fe2,#473ee1,#463cde,#463cde,#463cde,#4639da,#4639da,#4639da,#463ee1,#463ee1,#463ee1,#463bdd,#463bdd,#463bdd,#463ee1,#463ee1,#463ee1,#463ddf,#463ddf,#463ddf,#463ada,#463ada,#463ada,#463cdf,#463cdf,#463cdf,#463bdd,#463bdd,#463bdd,#463ee0,#463ee0,#463ee0,#463bdc,#463bdc,#463bdc,#463ada,#463ada,#463ada,#463cdf,#463cdf,#463ddf,#463adb,#463bdc,#463cde,#4743e7,#4747eb,#484df0,#4851f3,#475af9,#4465fd,#3a74fe,#317efb,#2e85f8,#2d88f6,#2c8ef1,#2994ed,#259ce7)"></i><i style="left:1365.10px;top:209.50px;width:180.00px;height:180.00px;background:conic-gradient(#2f81fa,#2e84f9,#2e85f8,#2e83f9,#2f82f9,#2f81fa,#2f81fa,#317efb,#3677fe,#3b73fe,#4367fd,#4759f9,#4848ec,#4740e3,#463bdd,#463ee1,#463ddf,#463cdf,#463cde,#463cde,#463cde,#463bdd,#463bdd,#463bdd,#4538d7,#4538d7,#4538d7,#463bdd,#463bdd,#463bdd,#4639d9,#4639d9,#4639d9,#463adb,#463adb,#463adb,#463cdf,#463cdf,#463cdf,#463ada,#463ada,#463ada,#463adc,#463adc,#463adc,#4538d8,#4538d8,#4538d8,#463bde,#463bde,#463bde,#4538d8,#4538d8,#4538d8,#4538d8,#4538d8,#4538d8,#4639da,#463adb,#463adc,#463ddf,#4740e4,#4746ea,#484cf0,#4755f6,#465efb,#4367fd,#406dfe,#3c72ff,#3579fd,#327cfc,#3080fa,#2f81fa)"></i><i style="left:1372.60px;top:217.00px;width:165.00px;height:165.00px;background:conic-gradient(#4564fd,#4464fd,#4465fd,#4367fd,#4367fd,#4367fd,#416bfe,#4269fe,#4466fd,#475bf9,#4854f5,#484bef,#4743e7,#463de0,#463ada,#4639da,#4539d9,#4538d8,#4537d5,#4537d5,#4537d5,#4639d9,#4639d9,#4639d9,#4536d4,#4536d4,#4536d4,#463adb,#463adb,#463adb,#4536d4,#4536d4,#4536d4,#4536d4,#4536d4,#4536d4,#4536d4,#4536d4,#4536d4,#4538d7,#4538d7,#4538d7,#4537d5,#4537d5,#4537d5,#4639da,#4639da,#4639da,#4537d5,#4537d5,#4537d5,#463adc,#463adc,#463adc,#4536d4,#4536d4,#4536d4,#463adb,#463bdc,#463bdd,#463bdc,#463ee1,#4743e7,#4849ed,#4851f3,#4757f7,#4563fc,#4466fd,#4368fe,#4563fd,#4464fd,#4465fd,#4564fd)"></i><i style="left:1380.10px;top:224.50px;width:150.00px;height:150.00px;background:conic-gradient(#475dfa,#475dfa,#475dfa,#475cfa,#475cfa,#475bfa,#4660fb,#465ffb,#465dfa,#475af9,#4854f5,#484cef,#473fe3,#463adb,#4537d6,#4538d7,#4537d5,#4537d5,#4538d7,#4538d7,#4538d7,#4537d7,#4537d6,#4537d6,#4435d1,#4435d1,#4435d1,#4538d8,#4538d8,#4538d8,#4537d7,#4537d7,#4537d7,#4536d5,#4536d5,#4536d5,#4435d0,#4435d0,#4435d0,#4535d2,#4535d2,#4535d2,#4538d8,#4538d8,#4538d8,#4538d8,#4538d8,#4538d8,#4639d9,#4639d9,#4639d9,#4435d1,#4435d1,#4435d1,#4535d2,#4535d2,#4536d2,#4435d1,#4435d2,#4536d3,#463adb,#463de0,#4743e7,#484bef,#4853f5,#4759f8,#4759f8,#475bf9,#475cfa,#475bfa,#475cfa,#475cfa,#475dfa)"></i><i style="left:1387.60px;top:232.00px;width:135.00px;height:135.00px;background:conic-gradient(#475cfa,#475cfa,#475cfa,#4561fc,#4561fc,#4561fc,#465efb,#465dfb,#475cfa,#4757f7,#4851f3,#4849ed,#4741e5,#463bdd,#4538d7,#4434cf,#4434ce,#4433cd,#4433cd,#4433cd,#4433cc,#4535d2,#4535d2,#4535d2,#4537d5,#4537d5,#4537d5,#4537d5,#4537d5,#4537d5,#4536d4,#4536d4,#4536d4,#4535d2,#4535d2,#4535d2,#4435d0,#4435d0,#4435d0,#4434cf,#4434cf,#4434cf,#4434cf,#4434cf,#4434cf,#4435d0,#4435d0,#4435d0,#4536d4,#4536d4,#4536d4,#4434d0,#4434d0,#4434d0,#4434ce,#4434ce,#4434ce,#4435d0,#4435d1,#4535d2,#4639d9,#463cdf,#4742e6,#4849ed,#4851f3,#4757f7,#475bf9,#475dfa,#465efb,#4561fc,#4561fc,#4561fc,#475cfa)"></i><i style="left:1395.10px;top:239.50px;width:120.00px;height:120.00px;background:#fff"></i><i style="left:863.00px;top:644.80px;width:270.00px;height:270.00px;background:conic-gradient(#4745ea,#4745ea,#4745ea,#4744e8,#4744e8,#4744e8,#4746ea,#4746ea,#4746ea,#4747eb,#4747eb,#4747eb,#4741e5,#4741e5,#4741e5,#4743e7,#4743e7,#4743e7,#4741e5,#4741e5,#4741e5,#4743e7,#4743e7,#4743e7,#4746ea,#4746ea,#4746ea,#4742e6,#4742e6,#4742e6,#4742e6,#4742e6,#4742e6,#4746ea,#4746ea,#4746eb,#4744e8,#4745e9,#4746ea,#4746ea,#4849ed,#484cef,#4850f2,#4851f3,#4851f4,#4851f3,#4850f3,#484ef1,#484cf0,#484aed,#4848ec,#4743e7,#4742e6,#4742e6,#4742e6,#4742e6,#4742e6,#4742e6,#4742e6,#4742e6,#4743e7,#4743e7,#4743e7,#4741e5,#4741e5,#4741e5,#4744e8,#4744e8,#4744e8,#4741e5,#4741e5,#4741e5,#4745ea)"></i><i style="left:870.50px;top:652.30px;width:255.00px;height:255.00px;background:conic-gradient(#4741e5,#4741e5,#4741e5,#4741e5,#4741e5,#4741e5,#4745e9,#4745e9,#4745e9,#4744e8,#4744e8,#4744e8,#4743e7,#4743e7,#4743e7,#4740e3,#4740e3,#4740e3,#473fe2,#473fe2,#473fe2,#4745e9,#4745e9,#4745e9,#4743e7,#4743e7,#4743e7,#4744e8,#4744e8,#4744e8,#473fe3,#473fe3,#473fe3,#4740e4,#4740e4,#4740e4,#4744e9,#4745e9,#4746ea,#4747eb,#484aee,#484df0,#484df0,#484ef1,#484ff2,#4850f2,#484ff1,#484cf0,#484cf0,#4849ed,#4747eb,#4741e5,#4741e5,#4740e4,#473fe3,#473fe3,#473fe3,#4740e3,#4740e3,#4740e3,#4740e3,#4740e3,#4740e3,#4743e7,#4743e7,#4743e7,#4741e5,#4741e5,#4741e5,#4745e9,#4745e9,#4745e9,#4741e5)"></i><i style="left:878.00px;top:659.80px;width:240.00px;height:240.00px;background:conic-gradient(#4741e5,#4741e5,#4741e4,#463de0,#463de0,#463de0,#4741e5,#4741e5,#4741e5,#463de0,#463de0,#463de0,#473ee2,#473ee2,#473ee2,#4741e5,#4741e5,#4741e5,#4742e6,#4742e6,#4742e6,#4742e6,#4742e6,#4742e6,#463ee0,#463ee0,#463ee0,#463de0,#463de0,#463de0,#4742e6,#4742e6,#4742e6,#463de0,#463de0,#463de0,#4742e6,#4743e7,#4744e8,#4745e9,#4848ec,#484bee,#484df1,#484ff1,#484ff2,#484df0,#484cef,#484aed,#4745ea,#4743e7,#4741e4,#4740e4,#4740e4,#4740e3,#473fe2,#473fe2,#473fe2,#473ee1,#473ee1,#473ee1,#4740e4,#4740e4,#4740e4,#4740e4,#4740e4,#4740e4,#4741e5,#4741e5,#4741e5,#463ee1,#463ee1,#463ee1,#4741e5)"></i><i style="left:885.50px;top:667.30px;width:225.00px;height:225.00px;background:conic-gradient(#473fe2,#473ee2,#463ee1,#463ee1,#463de0,#463de0,#4740e4,#4740e4,#4740e4,#473fe2,#473fe2,#473fe2,#463cdf,#463cdf,#463cdf,#463cdf,#463cdf,#463cdf,#463de0,#463de0,#463de0,#463cdf,#463cdf,#463cdf,#473fe2,#473fe2,#473fe2,#463bdd,#463bdd,#463bdd,#463cdf,#463cdf,#463cdf,#4740e4,#4740e4,#4740e4,#473fe2,#473fe2,#4740e3,#463de0,#473fe2,#4741e4,#4747ec,#4848ec,#4848ec,#4848ec,#4747eb,#4746ea,#4743e7,#4741e5,#4740e4,#4741e5,#4741e5,#4742e6,#4744e8,#4744e8,#4744e8,#473ee1,#473ee1,#473ee1,#4741e5,#4741e5,#4741e5,#473fe3,#473fe3,#473fe3,#4742e6,#4742e6,#4742e6,#4742e6,#4742e6,#4742e6,#473fe2)"></i><i style="left:893.00px;top:674.80px;width:210.00px;height:210.00px;background:conic-gradient(#4747eb,#4745e9,#4742e6,#463de0,#463bdd,#463adc,#463cde,#463bdd,#463bdd,#463de0,#463de0,#463de0,#463bde,#463bde,#463bde,#463ee1,#463ee1,#463ee1,#463adb,#463adb,#463adb,#463ee1,#463ee1,#463ee1,#463adb,#463adb,#463adb,#463bdd,#463bdd,#463bdd,#463ee0,#463ee0,#463ee0,#463de0,#463de0,#463de0,#463cdf,#463cdf,#463cdf,#463cdf,#463cdf,#463de0,#473fe2,#473fe3,#473fe3,#473fe3,#473fe3,#473fe2,#473fe2,#473fe2,#4740e3,#4743e7,#4746ea,#4849ed,#484aed,#484bef,#484cef,#4849ed,#4849ed,#4849ed,#484ef1,#484ef1,#484ef1,#484ef1,#484ef1,#484ef1,#484bee,#484bee,#484aee,#484df0,#484df0,#484cf0,#4747eb)"></i><i style="left:900.50px;top:682.30px;width:195.00px;height:195.00px;background:conic-gradient(#4850f2,#484bef,#4746ea,#4744e8,#4740e4,#463ee1,#4539d9,#4538d8,#4538d7,#463bdd,#463bdd,#463bdd,#463ada,#463ada,#463ada,#463ddf,#463ddf,#463ddf,#4538d7,#4538d7,#4538d7,#463adb,#463adb,#463adb,#463cdf,#463cdf,#463cdf,#4538d8,#4538d8,#4538d8,#463cdf,#463cdf,#463cdf,#4538d7,#4538d7,#4538d7,#4639d9,#4639d9,#4639d9,#4639da,#463ada,#463ada,#4538d8,#4538d8,#4538d8,#4639d9,#4639da,#4639da,#463cde,#463de0,#4740e4,#4747eb,#484df0,#4853f5,#4851f3,#4854f5,#4755f6,#475cfa,#475cfa,#475cfa,#4757f7,#4757f7,#4757f7,#475af9,#475af9,#475af9,#4757f7,#4756f7,#4756f7,#4759f8,#4758f8,#4756f7,#4850f2)"></i><i style="left:908.00px;top:689.80px;width:180.00px;height:180.00px;background:conic-gradient(#4756f6,#4850f3,#4849ed,#4746ea,#4740e4,#463de0,#463adb,#4639da,#4639d9,#4538d8,#4538d8,#4538d8,#463adc,#463adc,#463adc,#463bdc,#463bdc,#463bdc,#463adb,#463adb,#463adb,#4639da,#4639da,#4639da,#463adb,#463adb,#463adb,#4537d5,#4537d5,#4537d5,#4536d4,#4536d4,#4536d4,#4539d9,#4539d9,#4539d9,#463adc,#463adc,#463adc,#4537d5,#4537d5,#4537d5,#4538d8,#4538d8,#4538d8,#463bdd,#463bdd,#463cde,#463cdf,#473fe3,#4744e8,#484cf0,#4854f5,#475bf9,#465efb,#4660fc,#4562fc,#4366fd,#4368fd,#4269fe,#4561fc,#4562fc,#4562fc,#426afe,#4269fe,#4369fe,#4465fd,#4564fd,#4562fc,#465dfb,#475bfa,#4759f8,#4756f6)"></i><i style="left:915.50px;top:697.30px;width:165.00px;height:165.00px;background:conic-gradient(#4759f8,#4852f4,#484aee,#4743e8,#463ee1,#463adc,#4538d7,#4537d6,#4537d5,#4538d7,#4538d7,#4537d7,#4535d2,#4535d2,#4535d2,#4639d9,#4639d9,#4639d9,#4539d9,#4539d9,#4539d9,#4639d9,#4639d9,#4639d9,#4639da,#4639da,#4639da,#4435d0,#4435d0,#4435d0,#4539d9,#4539d9,#4539d9,#4538d7,#4538d7,#4538d7,#4536d3,#4536d3,#4536d3,#4537d6,#4537d6,#4537d6,#4538d7,#4538d7,#4538d8,#4537d6,#4538d8,#463adb,#4740e4,#4747ec,#4851f4,#4756f6,#465efb,#4464fd,#4367fd,#426afe,#406cfe,#3875fe,#347afd,#317efb,#2e83f9,#2e85f8,#2e86f7,#327cfc,#337bfc,#3479fd,#317efb,#3579fd,#3c72ff,#4367fd,#4562fc,#465dfa,#4759f8)"></i><i style="left:923.00px;top:704.80px;width:150.00px;height:150.00px;background:conic-gradient(#475cfa,#4755f6,#484cef,#4742e6,#463cde,#4539d9,#4538d8,#4537d6,#4537d6,#4435d0,#4435d0,#4435d0,#4434ce,#4434ce,#4434ce,#4434cf,#4434cf,#4434cf,#4536d2,#4536d2,#4536d2,#4434ce,#4434ce,#4434ce,#4537d6,#4537d6,#4537d6,#4537d5,#4537d5,#4537d5,#4537d6,#4537d6,#4537d6,#4537d6,#4537d6,#4537d6,#4433cd,#4433cd,#4433cd,#4434cd,#4434cd,#4434cd,#4537d6,#4537d6,#4538d7,#4536d4,#4537d6,#463adb,#4741e5,#484bef,#4759f8,#4466fd,#3e70ff,#3876fe,#3b72ff,#3975fe,#3578fd,#2e85f8,#2d8cf3,#2a93ee,#2797ea,#269ae8,#259be7,#259ce7,#259be8,#2798ea,#2d8af4,#2f82f9,#3678fe,#3776fe,#406cfe,#4465fd,#475cfa)"></i><i style="left:930.50px;top:712.30px;width:135.00px;height:135.00px;background:conic-gradient(#475af9,#4852f4,#4849ec,#463de0,#4537d6,#4435d0,#4433cd,#4433cc,#4433cb,#4435d1,#4435d1,#4435d1,#4332ca,#4332ca,#4332ca,#4433cb,#4433cb,#4433cb,#4433cb,#4433cb,#4433cb,#4433cc,#4433cc,#4433cc,#4434cf,#4434cf,#4434cf,#4433cb,#4433cb,#4433cb,#4433cc,#4433cc,#4433cc,#4536d3,#4536d3,#4536d3,#4434ce,#4434ce,#4434ce,#4536d3,#4536d3,#4536d3,#4434cf,#4434d0,#4435d0,#4435d1,#4536d4,#4539d9,#4741e5,#484df0,#475cfa,#4563fd,#3f6dfe,#3b73fe,#3876fe,#3579fd,#317dfc,#2e84f8,#2d8cf3,#2994ed,#249de7,#23a0e5,#22a2e4,#23a1e4,#249fe5,#259ce7,#2a93ee,#2d8af5,#317efb,#3678fd,#406dfe,#4464fd,#475af9)"></i><i style="left:938.00px;top:719.80px;width:120.00px;height:120.00px;background:#fff"></i><i style="left:1320.10px;top:644.80px;width:270.00px;height:270.00px;background:conic-gradient(#4848ec,#4848ec,#4848ec,#4744e8,#4744e8,#4744e8,#4744e8,#4744e8,#4743e7,#4744e8,#4744e8,#4743e8,#4743e7,#4743e7,#4743e7,#4746ea,#4746ea,#4746ea,#4743e7,#4743e7,#4743e7,#4746ea,#4746ea,#4746ea,#4745e9,#4745e9,#4745e9,#4745e9,#4745e9,#4745e9,#4743e7,#4743e7,#4743e7,#4744e9,#4745e9,#4745ea,#4849ed,#484bef,#484ff1,#4852f4,#4854f6,#4756f6,#4852f4,#4852f4,#4852f4,#4854f6,#4853f5,#4851f3,#484ef1,#484bee,#4848ec,#4744e8,#4743e7,#4743e7,#4746ea,#4746ea,#4746ea,#4741e5,#4741e5,#4741e5,#4745e9,#4745e9,#4745e9,#4742e6,#4743e7,#4743e7,#4744e8,#4744e8,#4744e8,#4848ec,#4848ec,#4848ec,#4848ec)"></i><i style="left:1327.60px;top:652.30px;width:255.00px;height:255.00px;background:conic-gradient(#484ff2,#484ff2,#484ff2,#484bef,#484bef,#484bee,#484cf0,#484bef,#4849ed,#4743e7,#4742e6,#4740e4,#4745ea,#4745e9,#4745e9,#4743e7,#4743e7,#4743e7,#4742e6,#4742e6,#4742e6,#4744e8,#4744e8,#4744e8,#4745e9,#4745e9,#4745e9,#4740e4,#4740e4,#4740e4,#473fe2,#473fe2,#473fe2,#4743e7,#4743e7,#4744e8,#4744e8,#4747eb,#484aee,#484ff2,#4852f4,#4854f5,#4854f6,#4755f6,#4854f6,#4755f6,#4853f5,#4851f3,#484aee,#4746eb,#4744e8,#4745e9,#4744e8,#4743e8,#4740e3,#4740e3,#4740e4,#4746ea,#4747eb,#4848ec,#4747eb,#4848ec,#4849ec,#4746ea,#4746ea,#4747eb,#484df1,#484ef1,#484ef1,#484bee,#484bef,#484bef,#484ff2)"></i><i style="left:1335.10px;top:659.80px;width:240.00px;height:240.00px;background:conic-gradient(#4368fe,#4368fe,#4368fe,#4564fd,#4563fc,#4561fc,#4564fd,#465ffb,#4759f8,#484ef1,#4848ec,#4743e7,#4740e4,#473fe2,#473ee2,#473fe2,#473fe2,#473fe2,#473ee1,#473ee1,#473ee1,#4741e5,#4741e5,#4741e5,#4740e4,#4740e4,#4740e4,#473ee1,#473ee2,#473ee2,#4741e5,#4741e5,#4741e5,#4740e3,#4740e4,#4741e5,#4742e6,#4744e8,#4848ec,#4849ed,#484bef,#484df0,#484ff2,#4850f2,#484ff2,#4853f4,#4851f3,#484ff2,#4848ec,#4745e9,#4742e6,#4742e7,#4742e6,#4742e6,#4740e4,#4741e4,#4741e5,#4743e7,#4747eb,#484bef,#4850f3,#4854f5,#4756f7,#4755f6,#4757f7,#475af9,#465efb,#4660fb,#4562fc,#4368fd,#4369fe,#4269fe,#4368fe)"></i><i style="left:1342.60px;top:667.30px;width:225.00px;height:225.00px;background:conic-gradient(#2d8df2,#2d8df2,#2d8df2,#2c8ef1,#2d8cf3,#2d88f6,#2d88f6,#307ffb,#3d71ff,#475bf9,#484ef1,#4745ea,#4741e5,#473fe2,#463ee0,#473ee2,#473ee1,#473ee1,#463cde,#463cde,#463cde,#463de0,#463de0,#463de0,#463de0,#463de0,#463de0,#473ee1,#473ee1,#473ee1,#4741e5,#4741e5,#4741e5,#4741e5,#4741e5,#4741e5,#4740e4,#4741e5,#4743e7,#4743e7,#4744e8,#4745e9,#484aee,#484aee,#484aee,#484aee,#4849ed,#4848ec,#4743e7,#4741e5,#4740e4,#4741e5,#4741e4,#4741e4,#463cde,#463cdf,#463ee1,#4742e6,#4848ec,#484ff2,#475af9,#4660fb,#4564fd,#4367fd,#416cfe,#3b72fe,#317efb,#2e85f8,#2d8af4,#2c90f0,#2a93ee,#2994ed,#2d8df2)"></i><i style="left:1350.10px;top:674.80px;width:210.00px;height:210.00px;background:conic-gradient(#18addb,#17aedb,#18addb,#20a4e3,#22a1e4,#259de7,#2699ea,#2d8df2,#327cfc,#416bfe,#4759f8,#484cf0,#4741e5,#463de0,#463cde,#463bdd,#463bdd,#463bdd,#463ee1,#463ee1,#463ee1,#463ee1,#463ee1,#463ee1,#473fe2,#473fe2,#473fe2,#463bdd,#463bdd,#463bdd,#463ddf,#463ddf,#463ddf,#463ee1,#463ee1,#463ee1,#463de0,#463ee1,#473ee1,#463cde,#463cdf,#463cdf,#463cdf,#463ddf,#463cdf,#473fe2,#473fe2,#473ee2,#463cdf,#463cde,#463cde,#463bdd,#463bdd,#463bdd,#463cdf,#463de0,#473fe2,#4743e7,#484aed,#4852f4,#475cfa,#4563fd,#4369fe,#3e6fff,#3677fe,#2f82fa,#2d8cf3,#2895ec,#249ee6,#21a3e3,#1ea7e1,#1caadf,#18addb)"></i><i style="left:1357.60px;top:682.30px;width:195.00px;height:195.00px;background:conic-gradient(#1caadf,#1baade,#1caadf,#19addc,#1caadf,#20a5e2,#249fe5,#2a93ee,#2f82fa,#406cfe,#4759f8,#484bef,#463ee1,#463bdc,#4639da,#4639d9,#4539d9,#4539d9,#463ada,#463ada,#463ada,#463bdd,#463bdd,#463bdd,#4539d9,#4539d9,#4539d9,#463cdf,#463cdf,#463cdf,#463cdf,#463cdf,#463cdf,#4538d8,#4538d8,#4538d8,#463bdd,#463bdd,#463bdd,#463bdc,#463bdc,#463bdc,#463cde,#463cde,#463cde,#4539d9,#4539d9,#4539d9,#463ddf,#463de0,#463de0,#463de0,#463ee1,#463ee1,#463adc,#463bdd,#463de0,#4744e8,#484aee,#4853f5,#4759f9,#4661fc,#4466fd,#416afe,#3b72fe,#317dfc,#2e87f7,#2b91ef,#269ae8,#23a1e4,#1fa5e2,#1da8e0,#1caadf)"></i><i style="left:1365.10px;top:689.80px;width:180.00px;height:180.00px;background:conic-gradient(#259de7,#249de7,#259de7,#269ae8,#2798ea,#2a93ed,#2b92ef,#2e86f7,#3876fe,#4466fd,#4854f6,#4848ec,#463cde,#4639d9,#4538d7,#4537d6,#4537d5,#4537d5,#463bdc,#463bdc,#463bdc,#463ada,#463ada,#463ada,#4538d8,#4538d8,#4538d8,#4538d7,#4538d7,#4538d7,#4537d6,#4537d6,#4537d6,#4538d8,#4538d8,#4538d8,#463bdc,#463bdc,#463bdc,#463adb,#463adb,#463adb,#4537d5,#4537d5,#4537d5,#4536d5,#4537d5,#4537d5,#463bdc,#463cde,#463de0,#463cde,#463ddf,#463de0,#4741e5,#4742e6,#4743e7,#4743e7,#4849ed,#4850f3,#465efb,#4465fd,#426afe,#4367fd,#3f6dfe,#3876fe,#2e85f8,#2c8ef2,#2895ec,#2995ec,#2699ea,#259be8,#259de7)"></i><i style="left:1372.60px;top:697.30px;width:165.00px;height:165.00px;background:conic-gradient(#327cfc,#317dfc,#327cfc,#307efb,#317dfc,#347afd,#3579fd,#3d70ff,#4465fd,#4853f5,#4746eb,#463ee1,#463adb,#4538d7,#4537d5,#4536d4,#4536d3,#4536d3,#4538d8,#4538d8,#4538d8,#4538d7,#4538d7,#4538d7,#4538d8,#4538d8,#4538d8,#4435d1,#4435d1,#4435d1,#4535d2,#4535d2,#4535d2,#4435d1,#4435d1,#4435d1,#4537d5,#4537d5,#4537d5,#4536d3,#4536d3,#4536d3,#4536d3,#4536d3,#4536d3,#4536d3,#4536d4,#4537d6,#463ddf,#4740e4,#4746ea,#4746ea,#4849ed,#484cef,#4851f3,#4852f4,#4853f5,#4852f4,#4854f5,#4758f8,#4660fc,#4464fd,#4368fe,#4464fd,#4367fd,#416bfe,#3875fe,#3479fd,#317dfc,#317efb,#3080fa,#2f81fa,#327cfc)"></i><i style="left:1380.10px;top:704.80px;width:150.00px;height:150.00px;background:conic-gradient(#4368fe,#4368fe,#4368fe,#406dfe,#406cfe,#416afe,#4368fe,#4563fc,#475bf9,#484ff2,#4744e8,#463cdf,#4537d6,#4536d3,#4435d1,#4435d0,#4434cf,#4434cf,#4536d4,#4536d4,#4536d4,#4537d5,#4537d5,#4537d5,#4537d6,#4537d6,#4537d6,#4434ce,#4434ce,#4434ce,#4537d6,#4537d6,#4537d6,#4434cf,#4434cf,#4434cf,#4536d3,#4536d3,#4536d3,#4434cf,#4434cf,#4434cf,#4434cf,#4434d0,#4435d0,#4434cf,#4435d0,#4536d4,#4538d8,#463ee1,#4746ea,#4850f2,#4756f6,#4759f8,#475af9,#475bf9,#475bf9,#4561fc,#4661fc,#4561fc,#4562fc,#4564fd,#4466fd,#4464fd,#4466fd,#4367fd,#426afe,#416bfe,#406cfe,#4367fd,#4368fd,#4368fe,#4368fe)"></i><i style="left:1387.60px;top:712.30px;width:135.00px;height:135.00px;background:conic-gradient(#416cfe,#416cfe,#416cfe,#4465fd,#4464fd,#4563fd,#465ffb,#475bf9,#4853f5,#484aee,#4740e3,#4539d9,#4435d1,#4434cd,#4433cc,#4435d2,#4435d1,#4435d1,#4435d1,#4435d1,#4435d1,#4536d2,#4536d2,#4536d2,#4435d1,#4435d1,#4435d1,#4332ca,#4332ca,#4332ca,#4434cf,#4434cf,#4434cf,#4435d1,#4435d1,#4435d1,#4434cf,#4434cf,#4434cf,#4434ce,#4434ce,#4434ce,#4433cc,#4433cc,#4433cd,#4435d1,#4536d2,#4537d6,#4538d8,#473fe2,#4848ec,#4854f5,#475bf9,#465ffb,#4661fc,#4562fc,#4562fc,#4562fc,#4561fc,#4661fc,#4561fc,#4562fc,#4465fd,#4563fd,#4464fd,#4465fd,#4563fd,#4564fd,#4564fd,#426afe,#426afe,#426afe,#416cfe)"></i><i style="left:1395.10px;top:719.80px;width:120.00px;height:120.00px;background:#fff"></i><i style="left:43.50px;top:1145.70px;width:270.00px;height:270.00px;background:conic-gradient(#484cef,#484cef,#484cf0,#484ef1,#484ef1,#484ef1,#4852f4,#4852f4,#4852f4,#484ff2,#484ef1,#484cf0,#4747eb,#4746ea,#4744e9,#4744e8,#4743e7,#4743e7,#4745e9,#4745e9,#4745e9,#4746ea,#4746ea,#4746ea,#4746ea,#4747eb,#484aee,#4850f3,#4757f7,#465dfa,#4465fd,#4368fe,#4269fe,#4561fc,#465ffb,#475dfa,#4562fc,#4563fd,#4466fd,#4561fc,#4562fc,#4563fc,#4564fd,#4563fc,#4660fb,#475cfa,#4755f6,#484ff2,#4848ec,#4745e9,#4744e8,#4743e7,#4743e7,#4743e7,#4744e8,#4744e8,#4744e8,#4745e9,#4745ea,#4746eb,#484cf0,#484df0,#484ef1,#4849ed,#484aee,#484bee,#484ef1,#484ef1,#484ff1,#484bee,#484bef,#484bef,#484cef)"></i><i style="left:51.00px;top:1153.20px;width:255.00px;height:255.00px;background:conic-gradient(#3d70ff,#3c72ff,#3b73fe,#3c71ff,#3b72ff,#3b73fe,#3777fe,#3876fe,#3b73fe,#4269fe,#4564fd,#465dfb,#475bf9,#4854f5,#484ef1,#484aee,#4848ec,#4747eb,#4744e9,#4744e8,#4744e8,#4741e5,#4741e5,#4741e5,#4746ea,#4747eb,#484aee,#484ef1,#4854f6,#475bf9,#4562fc,#4465fd,#4466fd,#4564fd,#4562fc,#465ffb,#475bf9,#475cfa,#465ffb,#4367fd,#4368fe,#4369fe,#4466fd,#4465fd,#4562fc,#465efb,#4757f7,#4850f3,#4848ec,#4745ea,#4744e8,#4745e9,#4745e9,#4744e9,#4744e9,#4745e9,#4746ea,#4747eb,#484aee,#484ef1,#4852f4,#4756f6,#4759f8,#465efb,#4562fc,#4465fd,#416bfe,#406cfe,#3f6dfe,#406cfe,#406dfe,#3f6eff,#3d70ff)"></i><i style="left:58.50px;top:1160.70px;width:240.00px;height:240.00px;background:conic-gradient(#20a5e3,#1ea8e1,#1baade,#1babde,#19addc,#17aeda,#16afd9,#19acdc,#1ea7e1,#22a2e4,#2797eb,#2d88f6,#3579fd,#4466fd,#4758f8,#4849ed,#4744e8,#4742e6,#4740e4,#4740e4,#4740e3,#4744e8,#4744e8,#4744e8,#4746ea,#4848ec,#484bee,#484df0,#4854f5,#475af9,#465ffb,#4562fc,#4564fd,#4465fd,#4563fc,#4660fc,#475af9,#475cfa,#465efb,#4465fd,#4466fd,#4367fd,#4562fc,#4561fc,#465efb,#465dfb,#4757f7,#4850f2,#4747eb,#4744e8,#4743e7,#4744e8,#4744e8,#4744e8,#4745e9,#4746ea,#4848ec,#484bef,#4852f4,#475bf9,#4562fc,#416bfe,#3a74fe,#2f81fa,#2d8bf4,#2a93ee,#2798ea,#259be8,#259de7,#259ce7,#249ee6,#22a2e4,#20a5e3)"></i><i style="left:66.00px;top:1168.20px;width:225.00px;height:225.00px;background:conic-gradient(#02b7cb,#02bac3,#0ebdbb,#19bfb5,#25c2ad,#2bc3a8,#2cc4a7,#25c2ad,#11beb9,#01b9c7,#19addc,#269be8,#2d89f5,#3d70ff,#475cfa,#484ef1,#4747eb,#4743e8,#4742e6,#4741e5,#4741e5,#4743e7,#4743e7,#4743e7,#4741e5,#4743e7,#4745e9,#4848ec,#484ef1,#4853f5,#4759f8,#475bf9,#475cfa,#4758f8,#4756f7,#4755f6,#475af9,#475bf9,#475dfa,#465efb,#465ffb,#465ffb,#4758f8,#4757f7,#4755f6,#4854f6,#484ff2,#484aed,#4742e6,#4740e4,#473fe3,#4742e6,#4742e6,#4742e6,#4740e4,#4741e5,#4743e7,#484bef,#4854f5,#465ffb,#4466fd,#3c72ff,#317dfc,#2d8af4,#2896ec,#249fe5,#21a3e3,#1ea6e1,#1da9e0,#15afd9,#0eb2d4,#04b6cd,#02b7cb)"></i><i style="left:73.50px;top:1175.70px;width:210.00px;height:210.00px;background:conic-gradient(#1bc0b4,#29c3aa,#32c69e,#42ca8b,#54cc7c,#61cd72,#44ca8a,#3ac993,#2fc5a3,#19bfb5,#07b5cf,#22a2e4,#2d8df2,#3b72fe,#475cfa,#484bee,#4743e7,#4740e3,#4743e7,#4742e6,#4741e5,#4742e6,#4742e6,#4742e6,#473fe2,#473fe3,#4740e4,#4742e6,#4745e9,#4747eb,#4746eb,#4747ec,#4848ec,#484bef,#484bef,#484bef,#4747eb,#4747eb,#4747eb,#484aee,#484aee,#484bee,#4848ec,#4747eb,#4746ea,#4744e8,#4742e6,#4740e3,#4741e4,#4740e3,#473fe3,#473fe2,#473fe2,#473fe3,#473ee1,#473fe3,#4742e6,#484bef,#4854f5,#4660fc,#406cfe,#3479fd,#2e85f8,#2b92ee,#249ee6,#1ea7e1,#1ca9df,#19addc,#15afd9,#0bb3d2,#03b7cc,#02bbc3,#1bc0b4)"></i><i style="left:81.00px;top:1183.20px;width:195.00px;height:195.00px;background:conic-gradient(#1cc0b3,#2ac3a9,#33c69d,#2fc5a3,#37c897,#3eca8f,#54cc7d,#47cb87,#36c899,#18bfb6,#07b5d0,#22a2e4,#2e87f7,#406cfe,#4757f7,#484df0,#4745e9,#4741e5,#4740e4,#473fe3,#473fe2,#463cdf,#463cdf,#463cdf,#463bdd,#463bde,#463cde,#4741e5,#4742e6,#4742e6,#4741e5,#4741e5,#4741e5,#463de0,#463de0,#463de0,#4742e6,#4742e6,#4742e6,#4742e6,#4742e6,#4742e6,#4742e6,#4742e6,#4742e6,#4740e4,#4740e3,#473fe2,#4740e4,#4740e4,#4740e4,#463de0,#463de0,#463ee1,#4742e6,#4743e7,#4745ea,#4746ea,#484ff2,#475cfa,#4368fe,#3975fe,#2f81fa,#2c8ef1,#269ae8,#20a4e3,#1aabdd,#16afd9,#12b1d6,#0eb2d4,#06b6ce,#01b9c6,#1cc0b3)"></i><i style="left:88.50px;top:1190.70px;width:180.00px;height:180.00px;background:conic-gradient(#02bac4,#0abdbe,#17bfb6,#13beb9,#1fc1b1,#26c2ad,#2dc4a6,#26c2ac,#15bfb7,#05bbc1,#12b1d6,#23a0e5,#2e86f7,#406cfe,#4757f7,#484cef,#4744e8,#4740e4,#473fe3,#473ee2,#463ee1,#463ada,#463ada,#463ada,#463de0,#463de0,#463de0,#473fe2,#473fe2,#473fe2,#463adb,#463adb,#463adb,#463cdf,#463cdf,#463cdf,#463cde,#463cde,#463cde,#463adb,#463adb,#463adb,#473ee2,#473ee2,#473ee2,#473fe3,#473fe3,#473fe2,#463ee1,#463ee1,#463ee1,#463de0,#463de0,#463de0,#473ee1,#473fe3,#4742e6,#4745ea,#484ff1,#475bf9,#3e6fff,#317dfc,#2d88f6,#2a93ee,#249fe5,#1da9e0,#1da8e0,#1aacdd,#18aedb,#11b1d6,#0ab4d2,#04b6cd,#02bac4)"></i><i style="left:96.00px;top:1198.20px;width:165.00px;height:165.00px;background:conic-gradient(#07b5d0,#05b6ce,#03b7cb,#06b5cf,#04b6cc,#02b7cb,#02bbc3,#01b9c6,#03b7cc,#0db3d3,#1caadf,#259be8,#2f80fa,#4368fe,#4755f6,#484aed,#4742e6,#473fe2,#463ddf,#463cde,#463cde,#463de0,#463de0,#463de0,#4639da,#4639da,#4639da,#4639d9,#4639d9,#4639d9,#463bdc,#463bdc,#463bdc,#463cdf,#463cdf,#463cdf,#463ddf,#463ddf,#463ddf,#4639da,#4639da,#4639da,#463bdd,#463bdd,#463bdd,#463cde,#463cde,#463cde,#4539d9,#4539d9,#4539d9,#463bdd,#463bdd,#463bde,#463ddf,#463ee1,#4741e4,#4742e7,#484cef,#4759f8,#416bfe,#3578fd,#2e84f8,#2b92ef,#249ee6,#1ea7e1,#1ea7e1,#1caadf,#1aacdd,#14b0d8,#12b1d7,#10b2d5,#07b5d0)"></i><i style="left:103.50px;top:1205.70px;width:150.00px;height:150.00px;background:conic-gradient(#14b0d8,#14b0d8,#14b0d8,#0eb2d4,#0eb2d4,#0eb3d4,#06b5cf,#08b4d1,#0eb2d4,#19addc,#20a5e2,#2797eb,#3080fb,#4368fd,#4854f5,#4746ea,#473ee1,#463bdc,#463bdd,#463adc,#463adb,#463bdc,#463bdc,#463bdc,#4537d6,#4537d6,#4537d6,#463cde,#463cde,#463cde,#463adc,#463adc,#463adc,#463adb,#463adb,#463adb,#4538d7,#4538d7,#4538d7,#463adb,#463adb,#463adb,#4538d8,#4538d8,#4538d8,#4639da,#4639da,#4639da,#463bdc,#463bdc,#463bdc,#4538d7,#4538d8,#4538d8,#4639da,#463adc,#463de0,#4743e7,#484cf0,#475af9,#416bfe,#3479fd,#2e85f8,#2b92ef,#249ee6,#1ea7e1,#19acdc,#15afd9,#13b1d7,#0cb3d3,#0bb4d2,#0ab4d2,#14b0d8)"></i><i style="left:111.00px;top:1213.20px;width:135.00px;height:135.00px;background:conic-gradient(#10b2d5,#10b2d5,#10b2d5,#13b1d7,#13b1d7,#13b0d7,#0ab4d2,#0cb3d3,#11b1d6,#1babde,#22a2e4,#2995ec,#317dfc,#4465fd,#4851f3,#4745e9,#463de0,#463adb,#463adc,#463ada,#4639da,#463adc,#463adc,#463adc,#4639da,#4639da,#4639da,#463ada,#463ada,#463ada,#4639da,#4639da,#4639da,#4537d5,#4537d5,#4537d5,#463adc,#463adc,#463adc,#4539d9,#4539d9,#4539d9,#463adb,#463adb,#463adb,#4537d6,#4537d6,#4537d6,#463adb,#463adb,#463adb,#4536d3,#4536d3,#4536d3,#4539d9,#463adb,#463cdf,#4745e9,#484ff2,#465dfb,#4466fd,#3a74fe,#2f80fa,#2a93ed,#249fe5,#1da9e0,#19acdc,#15afd9,#13b0d7,#18aedb,#18aedb,#17aeda,#10b2d5)"></i><i style="left:118.50px;top:1220.70px;width:120.00px;height:120.00px;background:#fff"></i><i style="left:506.00px;top:1145.70px;width:270.00px;height:270.00px;background:conic-gradient(#26c2ad,#28c3aa,#2ac3a9,#2ec4a4,#2dc4a5,#2bc3a8,#2ec5a4,#29c3a9,#1fc1b1,#04bbc2,#06b5cf,#1babde,#259ce7,#2d88f6,#3c72ff,#475cfa,#4851f3,#484aee,#4849ed,#4747eb,#4747eb,#4746ea,#4746ea,#4746ea,#4745e9,#4746eb,#4849ed,#4852f4,#4759f8,#465ffb,#4661fc,#4563fd,#4465fd,#416bfe,#416bfe,#416bfe,#4368fe,#4368fe,#4368fe,#4466fd,#4465fd,#4563fd,#4660fc,#475cfa,#4755f6,#4850f3,#484bef,#4849ed,#484aee,#4849ed,#4849ed,#4747eb,#4747eb,#4848ec,#4849ed,#484bef,#4851f3,#475cfa,#426afe,#327cfc,#2d88f6,#2797ea,#20a4e3,#1aacdd,#10b2d5,#04b6cd,#03bbc2,#0bbdbd,#14bfb8,#0abdbd,#11beb9,#18bfb6,#26c2ad)"></i><i style="left:513.50px;top:1153.20px;width:255.00px;height:255.00px;background:conic-gradient(#91ca4d,#9dc943,#a5c83d,#b3c534,#adc638,#a3c83e,#8fcb4e,#74cc62,#53cc7d,#44cb8a,#28c3ab,#01b8ca,#249fe5,#2d88f6,#3e6fff,#475cfa,#484ff2,#4849ec,#484aee,#4848ec,#4848ec,#4744e8,#4744e8,#4744e8,#4746ea,#4747eb,#484aee,#484ef1,#4755f6,#475bfa,#465efb,#4661fc,#4562fc,#4367fd,#4367fd,#4368fd,#4562fc,#4562fc,#4562fc,#4464fd,#4564fd,#4562fc,#4562fc,#475dfa,#4756f7,#4852f4,#484df0,#484aed,#4745e9,#4744e8,#4744e8,#4741e5,#4741e6,#4742e6,#4849ed,#484cf0,#4851f4,#4756f6,#4563fd,#3975fe,#2e84f8,#2994ed,#22a2e4,#13b0d7,#01b8c8,#17bfb6,#2fc5a3,#3cc991,#50cc80,#61cd72,#77cc60,#8bcb51,#91ca4d)"></i><i style="left:521.00px;top:1160.70px;width:240.00px;height:240.00px;background:conic-gradient(#f5ba3a,#fcbd3d,#fec03b,#fcbd3d,#fabb3d,#f4ba39,#f8ba3d,#e2bc2b,#bbc42f,#59cc78,#2dc4a5,#01b7ca,#1baade,#2b91ef,#3776fe,#475af9,#484df1,#4746ea,#4747eb,#4745e9,#4744e8,#4743e7,#4743e7,#4743e8,#4744e8,#4745ea,#4848ec,#484df1,#4854f5,#475bf9,#465ffb,#4562fc,#4563fc,#4660fc,#4661fc,#4661fc,#4562fc,#4562fc,#4562fc,#4367fd,#4367fd,#4465fd,#4561fc,#475cfa,#4756f6,#484ff2,#484aee,#4747eb,#4745e9,#4745e9,#4744e9,#4743e7,#4743e7,#4743e7,#4746eb,#4849ed,#484ff2,#4756f7,#4464fd,#3776fe,#2e87f7,#2798ea,#1fa6e2,#13b0d7,#02bac5,#24c1af,#4dcb82,#73cd63,#9ac945,#9bc945,#bbc430,#d2bf27,#f5ba3a)"></i><i style="left:528.50px;top:1168.20px;width:225.00px;height:225.00px;background:conic-gradient(#eaba31,#f3ba39,#f8ba3d,#fdcb33,#fec834,#fec438,#fcbd3d,#eabb30,#c4c22b,#70cd65,#35c79a,#02bbc3,#1ca9e0,#2c8ff0,#3974fe,#465ffb,#4851f3,#4849ed,#4747eb,#4745e9,#4745e9,#4741e5,#4741e5,#4741e5,#4742e6,#4743e7,#4745e9,#4747ec,#484df0,#4852f4,#475bf9,#465dfb,#465ffb,#465efb,#465efb,#465ffb,#4759f8,#4759f8,#4759f8,#4758f8,#4758f8,#4757f7,#475bf9,#4757f7,#4852f4,#484cf0,#4848ec,#4746ea,#4741e4,#4740e4,#4740e4,#4740e4,#4740e4,#4741e5,#4742e6,#4745e9,#484aee,#4755f6,#4564fd,#3776fe,#2e85f8,#2895ec,#21a4e3,#0db3d3,#06bcc0,#2bc3a8,#4dcc82,#75cc61,#9dc943,#b3c534,#d2bf27,#e7bb2e,#eaba31)"></i><i style="left:536.00px;top:1175.70px;width:210.00px;height:210.00px;background:conic-gradient(#e2bc2b,#ecba32,#f2ba38,#e4bb2c,#dfbc2a,#d6be28,#b8c431,#9bc944,#70cd65,#5bcc77,#30c5a1,#02bac5,#22a1e4,#2d89f6,#3f6eff,#4757f8,#484aee,#4743e7,#473fe3,#463ee1,#463de0,#4742e6,#4742e6,#4742e6,#473ee1,#473fe2,#473fe3,#4746ea,#4848ec,#484aee,#484aee,#484bee,#484bef,#4747eb,#4747ec,#4747ec,#484df0,#484df0,#484df0,#484df0,#484cf0,#484cef,#4849ed,#4747ec,#4745e9,#4744e9,#4743e7,#4742e6,#463ee1,#463ee1,#463ee1,#473fe3,#4740e3,#4740e4,#4740e4,#4743e7,#4849ed,#4853f5,#4562fc,#3a74fe,#2e86f7,#2797eb,#20a5e2,#08b5d0,#09bcbe,#2ac3a9,#38c896,#51cc7f,#6ecd67,#80cc5a,#9dc943,#b4c533,#e2bc2b)"></i><i style="left:543.50px;top:1183.20px;width:195.00px;height:195.00px;background:conic-gradient(#49cb86,#4fcc81,#53cc7d,#6ecd67,#69cd6b,#60cd72,#4fcc81,#3eca8f,#32c69f,#12beb9,#02b7cb,#1aacdd,#249ee6,#2d88f6,#3e6fff,#4758f8,#484bef,#4744e8,#4741e5,#4740e3,#473fe2,#473fe2,#473fe2,#473fe2,#4741e4,#4741e4,#4741e5,#4740e4,#4741e4,#4741e5,#4740e3,#4740e3,#4740e4,#4740e3,#4740e3,#4740e3,#4743e7,#4743e7,#4743e7,#473fe2,#473fe2,#473fe2,#4742e6,#4742e6,#4741e5,#463cdf,#463cde,#463cde,#463cde,#463cde,#463cde,#473ee1,#473ee2,#473fe2,#4740e4,#4743e7,#4849ed,#4852f4,#4561fc,#3a74fe,#2d88f6,#2798ea,#1fa5e2,#18addb,#08b4d0,#02bac4,#0cbdbc,#1fc0b2,#29c3a9,#31c6a0,#36c898,#3cc991,#49cb86)"></i><i style="left:551.00px;top:1190.70px;width:180.00px;height:180.00px;background:conic-gradient(#12beb9,#13beb9,#13beb9,#27c2ac,#24c1af,#1cc0b3,#01b9c6,#04b6cd,#0cb3d3,#0ab4d2,#17aeda,#20a5e2,#2b91ef,#317dfc,#4466fd,#4854f5,#4747eb,#4740e4,#473ee1,#463ddf,#463cde,#463cdf,#463cdf,#463cdf,#463adc,#463adc,#463adc,#463adb,#463adb,#463adb,#463ee1,#463ee1,#473ee1,#473fe3,#473fe3,#473fe3,#463cde,#463cde,#463cde,#463de0,#463de0,#463de0,#463bdd,#463bdd,#463bdd,#463adb,#463adb,#463adb,#463ee0,#463ee0,#463ee1,#473ee1,#473fe2,#473fe3,#463cde,#473fe2,#4744e8,#484ff2,#465efb,#3e70ff,#2e87f7,#2797eb,#21a3e3,#1da8e0,#17aeda,#0db3d3,#01bac5,#09bcbe,#12beb9,#14bfb8,#19bfb5,#1bc0b4,#12beb9)"></i><i style="left:558.50px;top:1198.20px;width:165.00px;height:165.00px;background:conic-gradient(#13beb9,#12beb9,#11beb9,#0abdbd,#07bcc0,#02bac4,#09b4d1,#12b1d6,#17aeda,#14b0d8,#1babde,#21a3e4,#2994ed,#2f81fa,#426afe,#4853f5,#4747eb,#473fe3,#4740e3,#463ee1,#463de0,#463cdf,#463cdf,#463cdf,#463adb,#463adb,#463adb,#463de0,#463de0,#463de0,#463ddf,#463ddf,#463ddf,#463adb,#463adb,#463adb,#463ddf,#463ddf,#463ddf,#463bdd,#463bdd,#463bdd,#463ddf,#463ddf,#463ddf,#4538d8,#4538d8,#4538d8,#463adc,#463adc,#463adc,#463adb,#463adb,#463bdc,#4740e3,#4743e7,#4849ed,#4852f4,#4562fc,#3975fe,#2d88f6,#2797ea,#21a3e3,#1ca9e0,#17aeda,#0fb2d4,#0bb3d2,#04b6cd,#01b8c9,#01b9c8,#01b9c6,#01b9c6,#13beb9)"></i><i style="left:566.00px;top:1205.70px;width:150.00px;height:150.00px;background:conic-gradient(#15afd8,#15afd9,#15afd9,#15afd9,#17aeda,#19acdc,#20a4e3,#22a2e4,#249fe5,#22a1e4,#249de6,#2796eb,#2d8df2,#327cfc,#4367fd,#4854f5,#4747eb,#4740e4,#463de0,#463cde,#463bdd,#463bdc,#463bdc,#463adc,#4538d8,#4538d8,#4538d8,#4538d8,#4538d8,#4538d8,#4639d9,#4639d9,#4639d9,#4539d9,#4539d9,#4539d9,#463cde,#463cde,#463cde,#463bdd,#463bdd,#463bdd,#463bdd,#463bdd,#463bdd,#463adb,#463adb,#463adb,#463cde,#463cde,#463cde,#463bdc,#463bdd,#463bde,#463cde,#473fe2,#4745e9,#484ef1,#475cfa,#3f6dfe,#2f82f9,#2c8ff0,#2699e9,#249ee6,#21a3e4,#1fa6e2,#1baade,#19addc,#16aeda,#12b1d7,#11b1d6,#11b1d6,#15afd8)"></i><i style="left:573.50px;top:1213.20px;width:135.00px;height:135.00px;background:conic-gradient(#2c8ef1,#2c8ef1,#2c8ef1,#2c8ef1,#2d8df2,#2d8df2,#2d89f5,#2d88f6,#2e87f7,#2d8cf3,#2d8af5,#2e85f8,#327cfc,#3f6eff,#465efb,#484bee,#4740e4,#463bdc,#4538d8,#4537d5,#4536d4,#463adb,#463adb,#463adb,#4639da,#4639da,#4639da,#463adb,#463adb,#463adb,#4538d7,#4538d7,#4538d7,#4539d9,#4539d9,#4539d9,#4539d9,#4539d9,#4539d9,#4539d9,#4539d9,#4539d9,#4639da,#4639da,#4639da,#4537d5,#4537d5,#4537d5,#4536d4,#4536d4,#4536d4,#4639d9,#4639da,#463adb,#4537d7,#463adb,#473fe2,#484aee,#4758f8,#4466fd,#3975fe,#317efb,#2e84f9,#2d8cf3,#2c8ef2,#2c8ff0,#2c8ef1,#2c8ff1,#2c90f0,#2b92ef,#2b92ee,#2b92ee,#2c8ef1)"></i><i style="left:581.00px;top:1220.70px;width:120.00px;height:120.00px;background:#fff"></i><i style="left:43.50px;top:1624.50px;width:270.00px;height:270.00px;background:conic-gradient(#484cf0,#484cf0,#484cf0,#4848ec,#4848ec,#4747eb,#4747eb,#4745e9,#4744e8,#4848ec,#4747eb,#4747eb,#4744e8,#4744e8,#4744e8,#4741e5,#4741e5,#4741e5,#4745e9,#4745e9,#4745e9,#4744e9,#4744e9,#4744e9,#4746ea,#4746ea,#4746ea,#4745e9,#4745e9,#4745e9,#4741e5,#4742e6,#4743e7,#4747eb,#484bef,#4853f4,#465ffb,#426afe,#3b72ff,#3c72ff,#3a74fe,#3875fe,#307efb,#307ffb,#307ffb,#3579fd,#3579fd,#3579fd,#337afd,#347afd,#3579fd,#3677fe,#3b72fe,#426afe,#4562fc,#4757f7,#484ff2,#4848ec,#4746ea,#4745e9,#4746ea,#4746ea,#4746ea,#4747eb,#4848ec,#4849ed,#484bee,#484cef,#484cf0,#484ef1,#484ff2,#484ff2,#484cf0)"></i><i style="left:51.00px;top:1632.00px;width:255.00px;height:255.00px;background:conic-gradient(#465ffb,#465ffb,#465efb,#475dfa,#475cfa,#4759f9,#4854f6,#484ff2,#484aee,#4744e8,#4742e6,#4740e4,#4741e5,#4741e5,#4741e4,#4744e8,#4744e8,#4744e8,#4741e5,#4741e5,#4741e5,#4744e8,#4744e8,#4744e8,#4745e9,#4745e9,#4745e9,#4742e6,#4742e6,#4742e6,#4740e4,#4741e5,#4742e6,#4848ec,#484df0,#4755f6,#475af9,#4465fd,#406dfe,#3579fd,#327cfc,#317dfc,#327cfc,#327cfc,#327cfc,#347afd,#347afd,#347afd,#317efb,#317dfc,#327cfc,#3677fe,#3b72ff,#426afe,#465dfb,#4853f5,#484bef,#4744e8,#4742e6,#4741e5,#4741e5,#4742e6,#4743e7,#4747eb,#484bee,#4850f2,#4757f7,#475af9,#475dfa,#475dfa,#465dfa,#465dfa,#465ffb)"></i><i style="left:58.50px;top:1639.50px;width:240.00px;height:240.00px;background:conic-gradient(#4368fe,#4367fd,#4367fd,#4367fd,#4465fd,#4562fc,#475bf9,#4853f5,#484bef,#4745e9,#4741e5,#4740e3,#4741e5,#4740e4,#4740e4,#4740e3,#4740e3,#4740e3,#473fe2,#473fe2,#473fe2,#473fe2,#473fe2,#473fe2,#4742e6,#4742e6,#4742e6,#473ee1,#473ee2,#473ee2,#4742e6,#4742e6,#4743e7,#4745e9,#4849ed,#4851f4,#4759f8,#4564fd,#406cfe,#3678fe,#337afd,#327cfc,#327cfc,#327dfc,#317dfc,#347afd,#347afd,#347afd,#3776fe,#3876fe,#3975fe,#3b73fe,#3f6eff,#4466fd,#4561fc,#4756f7,#484ef1,#4747eb,#4745e9,#4744e8,#4744e8,#4744e9,#4746ea,#4747eb,#484df0,#4755f6,#4562fc,#4368fe,#416cfe,#406dfe,#3f6dfe,#3f6efe,#4368fe)"></i><i style="left:66.00px;top:1647.00px;width:225.00px;height:225.00px;background:conic-gradient(#3777fe,#3875fe,#3a74fe,#3e6fff,#406cfe,#4367fd,#4563fc,#4759f8,#484ff2,#4745e9,#4741e5,#473fe3,#4741e5,#4740e4,#4740e4,#4740e3,#4740e3,#4740e3,#4740e4,#4740e4,#4740e4,#4740e4,#4740e4,#4740e4,#463ee1,#463ee1,#463ee1,#463cdf,#463cdf,#463ddf,#4741e4,#4741e5,#4742e6,#4746ea,#484aee,#4853f5,#4759f8,#4464fd,#406cfe,#3a73fe,#3876fe,#3677fe,#3974fe,#3975fe,#3975fe,#317efb,#317efb,#317efb,#347afd,#347afd,#3579fd,#3579fd,#3975fe,#3f6dfe,#4466fd,#475cfa,#4755f6,#484bee,#4849ed,#4848ec,#484cef,#484cf0,#484ef1,#484ef1,#4854f5,#475cfa,#4367fd,#3f6eff,#3b72ff,#3c71ff,#3c72ff,#3c72ff,#3777fe)"></i><i style="left:73.50px;top:1654.50px;width:210.00px;height:210.00px;background:conic-gradient(#2d8af4,#2e85f8,#3080fb,#337afd,#3a73fe,#406cfe,#4561fc,#4757f7,#484df0,#4745e9,#4741e4,#473fe2,#473fe2,#473ee1,#473ee1,#463de0,#463de0,#463de0,#463ddf,#463ddf,#463ddf,#473fe2,#473fe2,#473fe2,#473fe2,#473fe2,#473fe2,#4740e3,#4740e3,#4740e3,#463de0,#463ee1,#473fe2,#4743e7,#4848ec,#4850f3,#4757f7,#4561fc,#4269fe,#406dfe,#3e6fff,#3d70ff,#3677fe,#3678fe,#3678fe,#3875fe,#3875fe,#3876fe,#3678fd,#3578fd,#3479fd,#347afd,#337bfc,#337afd,#3579fd,#3875fe,#3a73fe,#3f6dfe,#3f6dfe,#3f6efe,#3d71ff,#3c72ff,#3b73fe,#3579fd,#317dfc,#2f83f9,#2e86f8,#2d8af4,#2d8df2,#2d89f5,#2d89f6,#2e87f7,#2d8af4)"></i><i style="left:81.00px;top:1662.00px;width:195.00px;height:195.00px;background:conic-gradient(#1da8e0,#239fe5,#2994ed,#2e84f9,#3a73fe,#4465fd,#4759f8,#484ff2,#4746ea,#4744e8,#4741e4,#473fe2,#473fe2,#473ee1,#463ee1,#473fe2,#473fe2,#473fe2,#473fe2,#473fe2,#473fe2,#463bdd,#463bdd,#463bdd,#473ee1,#473ee1,#473ee1,#463bdc,#463bdd,#463bdd,#463adc,#463bdc,#463bde,#463ee1,#4741e5,#4747ec,#4850f2,#4758f8,#465efb,#4367fd,#4269fe,#426afe,#4269fe,#426afe,#426afe,#426afe,#426afe,#416bfe,#4269fe,#406cfe,#3c71ff,#347afd,#2e85f8,#2c90f0,#269ae9,#23a0e5,#1fa5e2,#1caadf,#19addc,#16afd9,#19addc,#18addb,#18aedb,#05b6ce,#04b6cd,#03b7cc,#03b7cc,#03b7cc,#03b7cc,#0ab4d2,#10b2d5,#16afd9,#1da8e0)"></i><i style="left:88.50px;top:1669.50px;width:180.00px;height:180.00px;background:conic-gradient(#06bcc0,#07b5cf,#1da8e0,#2d8df2,#3a73fe,#465dfa,#4850f2,#4746ea,#4740e3,#463de0,#463bdd,#463adc,#463cdf,#463cde,#463cde,#463cde,#463cde,#463cde,#463adb,#463adb,#463adb,#4639da,#4639da,#4639da,#463adb,#463adb,#463adb,#4539d9,#4539d9,#4539d9,#463cde,#463cdf,#463cdf,#463bde,#463de0,#473fe3,#4743e7,#4746eb,#4849ed,#4848ec,#4849ed,#4849ed,#484df0,#484df1,#484ff2,#484ef1,#4852f4,#4756f7,#4561fc,#4369fe,#3876fe,#2d8cf3,#22a1e4,#0cb3d3,#0cbdbc,#2dc4a5,#40ca8d,#59cc78,#76cc60,#8ecb4f,#99c946,#a0c841,#a3c83e,#afc637,#acc738,#a6c83d,#8ccb50,#74cc62,#56cc7b,#2fc5a2,#1dc0b3,#08bcbf,#06bcc0)"></i><i style="left:96.00px;top:1677.00px;width:165.00px;height:165.00px;background:conic-gradient(#1cc0b3,#02bbc3,#11b1d6,#269ae9,#317efb,#4661fc,#4854f5,#4848ec,#4741e5,#4639da,#4538d8,#4538d7,#4538d8,#4538d8,#4538d8,#4538d8,#4538d8,#4538d8,#463bdd,#463bdd,#463bdd,#463bdd,#463bdd,#463bdd,#4537d6,#4537d6,#4537d6,#4639d9,#4639d9,#4639d9,#463adb,#463adb,#463adb,#463adb,#463adc,#463bdc,#4639d9,#463ada,#463adb,#463adb,#463adc,#463bdd,#463de0,#4740e4,#4746ea,#4852f4,#465ffb,#3f6eff,#307efb,#2d89f5,#2995ec,#259ce7,#16afda,#08bcbf,#2fc5a3,#4fcc81,#82cc58,#cdc028,#efba35,#febf3b,#fdcb33,#fcd030,#fbd22f,#fec636,#fec437,#fec03b,#f3ba38,#dabd28,#acc738,#70cd65,#3dc991,#2ac3a9,#1cc0b3)"></i><i style="left:103.50px;top:1684.50px;width:150.00px;height:150.00px;background:conic-gradient(#1fc0b2,#07bcbf,#06b5cf,#1aacdd,#2b92ef,#3e70ff,#4854f5,#4745e9,#463ee1,#463bdd,#4639da,#4539d9,#4536d3,#4536d3,#4536d3,#4536d3,#4536d3,#4536d3,#4538d8,#4538d8,#4538d8,#463adb,#463adb,#463adb,#4536d3,#4536d3,#4536d3,#4536d2,#4536d2,#4536d2,#463adb,#463adb,#463adb,#463adb,#463adb,#463adb,#463adb,#463adc,#463adc,#4536d5,#4537d5,#4538d7,#463bdd,#473fe3,#4848ec,#475cfa,#3b73fe,#2d8af5,#2798ea,#22a2e4,#1baade,#09b4d1,#0cbdbc,#30c5a2,#3bc992,#68cd6c,#9fc942,#e8bb2f,#fec13a,#fcd12f,#f8da2b,#f6df29,#f5e227,#fccf31,#fdcd32,#fec835,#fdcd31,#febd3c,#dbbd28,#95ca49,#54cc7d,#33c79c,#1fc0b2)"></i><i style="left:111.00px;top:1692.00px;width:135.00px;height:135.00px;background:conic-gradient(#25c2ad,#11beba,#01b8c9,#1caadf,#2c8ff0,#406dfe,#4756f7,#4747eb,#473fe2,#4537d6,#4536d4,#4536d2,#4435d1,#4435d1,#4435d1,#4538d7,#4538d7,#4538d7,#4435d1,#4435d1,#4435d1,#4435d1,#4435d1,#4435d1,#4539d9,#4539d9,#4539d9,#4536d4,#4536d4,#4536d4,#4538d7,#4538d7,#4538d7,#4538d8,#4538d8,#4538d8,#4539d8,#4539d9,#4539d9,#4539d8,#4639d9,#463adb,#463bde,#4740e4,#484bee,#475cfa,#3975fe,#2d8df2,#249fe6,#1ca9e0,#13b1d7,#0fb2d4,#02bac3,#24c2ae,#4bcb84,#7acc5e,#abc739,#d0bf27,#ebba32,#fabc3d,#f2ba38,#f7ba3c,#f9bb3d,#f9bb3d,#f8ba3d,#f3ba38,#febe3c,#eeba34,#cac129,#7acc5d,#45cb89,#2ec5a3,#25c2ad)"></i><i style="left:118.50px;top:1699.50px;width:120.00px;height:120.00px;background:#fff"></i><i style="left:506.00px;top:1624.50px;width:270.00px;height:270.00px;background:conic-gradient(#2d8bf4,#2d8bf4,#2d89f5,#2f81fa,#317dfc,#3776fe,#3b73fe,#4368fd,#475cfa,#484ff2,#4849ed,#4745e9,#4744e8,#4743e7,#4743e7,#4745e9,#4745e9,#4745e9,#4747eb,#4747eb,#4747eb,#4746eb,#4746eb,#4746eb,#4742e6,#4742e6,#4742e6,#4745e9,#4745e9,#4745e9,#4746ea,#4746ea,#4747eb,#4746ea,#484aee,#4852f4,#4561fc,#406cfe,#3974fe,#3b73fe,#3975fe,#3776fe,#3975fe,#3975fe,#3975fe,#307ffb,#307ffb,#307ffb,#327cfc,#337bfc,#347afd,#3479fd,#3975fe,#406cfe,#475cfa,#4854f5,#484ff2,#4851f3,#4757f7,#465ffb,#406cfe,#3975fe,#327cfc,#317efb,#2f81fa,#2e84f8,#2d8af5,#2d8bf4,#2d8bf4,#2d8af5,#2d8af5,#2d8af5,#2d8bf4)"></i><i style="left:513.50px;top:1632.00px;width:255.00px;height:255.00px;background:conic-gradient(#31c6a0,#2fc5a3,#2ac3a8,#29c3aa,#17bfb6,#01b9c8,#19addc,#2699e9,#3080fa,#4367fd,#4756f7,#484df0,#4744e9,#4742e6,#4741e5,#4742e6,#4742e6,#4742e6,#4742e7,#4742e7,#4742e7,#473fe3,#473fe3,#473fe3,#4741e5,#4741e5,#4741e5,#4743e7,#4743e7,#4743e7,#4741e5,#4742e6,#4743e7,#4848ec,#484df0,#4755f6,#475cfa,#4466fd,#3f6eff,#3b73fe,#3875fe,#3776fe,#307ffb,#307ffb,#307ffb,#317efb,#317efb,#317dfb,#3776fe,#3876fe,#3975fe,#3a74fe,#3e6fff,#4368fd,#4661fc,#475af9,#475af9,#4562fc,#3975fe,#2d8bf4,#21a3e3,#12b1d7,#01b9c6,#0fbebb,#23c1af,#2dc4a6,#25c2ad,#2ac3a9,#2cc4a7,#30c5a1,#30c5a1,#30c5a2,#31c6a0)"></i><i style="left:521.00px;top:1639.50px;width:240.00px;height:240.00px;background:conic-gradient(#cac129,#c0c32d,#adc638,#72cd64,#4dcc82,#30c5a1,#10beba,#19acdc,#2c8ff1,#3d70ff,#4759f8,#484df0,#4743e7,#4740e4,#473fe2,#4741e5,#4741e5,#4741e5,#4742e6,#4742e6,#4742e6,#473fe2,#473fe2,#473fe2,#4742e6,#4742e6,#4742e6,#4743e7,#4743e7,#4743e7,#4740e4,#4741e4,#4742e6,#4747eb,#484cef,#4854f5,#4660fb,#416bfe,#3974fe,#3a74fe,#3876fe,#3677fe,#327cfc,#327cfc,#327cfc,#317dfc,#317dfc,#317dfc,#3777fe,#3776fe,#3875fe,#3777fe,#3b72fe,#416bfe,#4562fc,#475cfa,#465efb,#4369fe,#2f82f9,#259ce7,#09b4d1,#18bfb6,#34c79b,#3ac994,#56cc7b,#76cc61,#b2c635,#c3c22b,#cdc028,#cac129,#ccc028,#cac129,#cac129)"></i><i style="left:528.50px;top:1647.00px;width:225.00px;height:225.00px;background:conic-gradient(#fec13a,#fabb3d,#e8bb2f,#ccc028,#9ac945,#5acc77,#2fc5a3,#06b5cf,#2798ea,#3b72fe,#4759f8,#484cef,#4848ec,#4745e9,#4743e7,#4740e3,#4740e3,#473fe3,#473fe2,#473fe2,#473fe2,#463ddf,#463ddf,#463ddf,#4741e5,#4741e5,#4741e5,#4741e4,#4741e4,#4741e5,#473ee2,#473fe2,#4740e4,#4745ea,#484aee,#4852f4,#475bf9,#4466fd,#3f6fff,#3876fe,#3578fd,#347afd,#347afd,#337afd,#337afd,#337bfc,#337bfd,#337bfd,#3974fe,#3a74fe,#3b73fe,#3d70ff,#406cfe,#4465fd,#475bf9,#4756f6,#4759f8,#4368fe,#2e83f9,#249ee6,#04b6cd,#23c1af,#3eca8f,#71cd64,#a5c83d,#d2bf27,#f1ba36,#febf3b,#fec736,#fcd030,#fbd22f,#fcd030,#fec13a)"></i><i style="left:536.00px;top:1654.50px;width:210.00px;height:210.00px;background:conic-gradient(#fec735,#febe3c,#eeba34,#d1bf27,#9dc943,#5acc77,#31c6a0,#05b6ce,#2798ea,#3f6eff,#4756f6,#4848ec,#4742e6,#473fe2,#463de0,#4740e4,#4740e4,#4740e4,#473fe2,#473fe2,#473fe2,#463ee0,#463ee0,#463ee0,#463bdc,#463bdc,#463bdc,#463bdc,#463bdd,#463bdd,#463ddf,#463de0,#463ee1,#4742e6,#4746ea,#484df0,#4757f7,#4660fc,#4368fd,#4269fe,#416bfe,#406cfe,#406cfe,#406dfe,#406dfe,#3f6eff,#3f6eff,#3f6eff,#3e6fff,#3e6fff,#3f6eff,#416bfe,#4367fd,#4561fc,#465dfa,#4759f8,#465dfa,#406dfe,#2d89f5,#20a4e3,#01b8ca,#28c2ab,#45cb89,#78cc5f,#b0c636,#ddbd29,#f5ba3b,#fec438,#fdcc32,#fec537,#fec835,#fec537,#fec735)"></i><i style="left:543.50px;top:1662.00px;width:195.00px;height:195.00px;background:conic-gradient(#fec03a,#f9bb3d,#e7bb2e,#c5c22a,#94ca4a,#57cc7a,#17bfb7,#19addc,#2c8ef2,#3b73fe,#4759f8,#484bee,#4740e4,#463de0,#463cde,#463ee1,#463de0,#463de0,#463adb,#463adb,#463adb,#463ee1,#463ee1,#463ee1,#463ee1,#463ee1,#463ee1,#463cde,#463cde,#463cde,#463de0,#463ee1,#473ee1,#4740e4,#4742e6,#4746ea,#484cef,#4851f3,#4854f6,#4851f3,#4852f4,#4852f4,#4755f6,#4755f6,#4756f6,#4854f5,#4854f5,#4854f6,#4756f6,#4756f6,#4755f6,#4853f4,#4851f3,#484ff1,#484ff2,#484ff2,#4757f7,#416afe,#2d88f6,#21a3e3,#05b6ce,#20c1b1,#3ac993,#5bcc76,#8acb51,#b7c532,#cfc028,#e5bb2c,#f0ba36,#f0ba36,#f3ba39,#f0ba36,#fec03a)"></i><i style="left:551.00px;top:1669.50px;width:180.00px;height:180.00px;background:conic-gradient(#82cc58,#78cc5f,#67cd6c,#72cd63,#53cc7d,#35c79a,#01b9c7,#1fa6e2,#2d88f6,#416bfe,#4854f5,#4746ea,#463ee1,#463bdd,#463adb,#4539d9,#4539d8,#4538d8,#463de0,#463de0,#463de0,#463de0,#463de0,#463de0,#463cdf,#463cdf,#463cdf,#463bdc,#463bdc,#463bdc,#4539d9,#4539d9,#4539d9,#463bdd,#463bde,#463cdf,#473ee1,#4740e3,#4740e4,#4740e4,#4741e4,#4741e5,#473fe2,#473fe2,#4740e4,#4744e8,#4746ea,#4848ec,#484aee,#484bef,#484cef,#484aed,#484aed,#484aee,#484ef1,#4852f4,#475bf9,#3f6eff,#2d89f5,#22a1e4,#10b2d5,#08bcbf,#28c3aa,#46cb88,#61cd72,#7bcc5d,#74cc62,#85cb56,#8ecb4e,#9ec942,#a1c840,#9ec942,#82cc58)"></i><i style="left:558.50px;top:1677.00px;width:165.00px;height:165.00px;background:conic-gradient(#29c3aa,#27c2ac,#24c1af,#27c2ac,#1cc0b4,#06bcc0,#12b1d6,#249fe5,#2e84f9,#4465fd,#4850f3,#4744e8,#4740e4,#463de0,#463cdf,#4639da,#4639d9,#4639d9,#4538d7,#4538d7,#4538d7,#4538d7,#4538d7,#4538d7,#4538d8,#4538d8,#4538d8,#4639d9,#4639d9,#4639d9,#463adb,#463adb,#463adb,#463bdd,#463bdd,#463bde,#463cdf,#463cdf,#463ddf,#463cdf,#463ddf,#463de0,#463cdf,#473ee1,#4743e7,#484cf0,#4757f7,#4561fc,#4368fe,#406dfe,#3e6fff,#426afe,#416bfe,#416bfe,#3a73fe,#3777fe,#317efb,#2d88f6,#2896eb,#20a4e3,#16afd9,#05b6ce,#02bac4,#0abdbe,#15bfb8,#1dc0b3,#1bc0b4,#1ec0b2,#21c1b0,#2cc4a7,#2cc4a6,#2cc4a7,#29c3aa)"></i><i style="left:566.00px;top:1684.50px;width:150.00px;height:150.00px;background:conic-gradient(#01b8c8,#01b8c9,#01b8ca,#01b8ca,#05b6ce,#0fb2d5,#1ea7e1,#2896eb,#317dfc,#475cfa,#4849ed,#473fe2,#463bdd,#4539d9,#4538d7,#4538d8,#4538d8,#4538d8,#463adb,#463ada,#463ada,#4537d6,#4537d6,#4537d6,#4537d5,#4537d5,#4537d5,#4639d9,#4639d9,#4639d9,#463ada,#463ada,#463ada,#4639da,#4639da,#4639da,#4639da,#4639da,#463ada,#463bdc,#463bdd,#463cde,#463bdd,#473fe2,#4747eb,#4757f7,#416bfe,#2f80fa,#2d8df2,#2994ed,#2798ea,#2798ea,#2698ea,#2699e9,#2699e9,#269ae8,#259ce7,#21a3e4,#1ea7e1,#1aacdd,#17aeda,#13b0d7,#0fb2d5,#13b1d7,#11b1d6,#0fb2d5,#01b8c9,#01b8c9,#01b8c8,#01b8c9,#01b8c9,#01b8c9,#01b8c8)"></i><i style="left:573.50px;top:1692.00px;width:135.00px;height:135.00px;background:conic-gradient(#0db3d4,#0eb2d4,#0fb2d4,#0db3d3,#12b1d6,#18addb,#1fa6e2,#2896eb,#317dfc,#4660fb,#484df0,#4742e6,#4639da,#4537d6,#4536d4,#4435d1,#4435d0,#4435d0,#4539d9,#4539d9,#4539d9,#4537d6,#4537d6,#4537d6,#4435d0,#4435d0,#4435d0,#4538d8,#4538d8,#4538d8,#4538d8,#4538d8,#4538d8,#4538d7,#4538d7,#4538d7,#4536d3,#4536d3,#4536d3,#4536d4,#4536d4,#4537d6,#463adb,#473ee2,#4848ec,#4759f8,#3d71ff,#2d89f6,#2994ed,#259ce7,#23a0e5,#22a2e4,#21a3e3,#21a3e3,#20a4e3,#20a4e3,#1fa5e2,#17aeda,#14b0d8,#11b1d6,#19addc,#18addb,#17aedb,#0db3d3,#0cb3d3,#0cb3d3,#16aeda,#16aeda,#16afda,#15afd9,#15afd9,#16afd9,#0db3d4)"></i><i style="left:581.00px;top:1699.50px;width:120.00px;height:120.00px;background:#fff"></i><i style="left:861.80px;top:1145.00px;width:270.00px;height:270.00px;background:conic-gradient(#21c1b0,#2ac3a8,#33c79d,#37c898,#3eca8f,#43ca8b,#3fca8e,#3fca8e,#3cc991,#4bcb84,#40ca8d,#34c79b,#29c3aa,#0bbdbc,#07b5d0,#249fe6,#2d8af5,#3b72fe,#4561fc,#4758f8,#4853f5,#4755f6,#4854f5,#4854f5,#4851f3,#4851f3,#4851f3,#4854f5,#4854f5,#4854f5,#4854f5,#4854f5,#4756f6,#4759f8,#465ffb,#4269fe,#3677fe,#2e86f7,#2c8ff0,#2699ea,#259be8,#259ce7,#2699e9,#2699e9,#2699e9,#2a93ee,#2b92ef,#2c8ff1,#2d8af5,#2f80fa,#3578fd,#3479fd,#327cfc,#317efb,#2f82f9,#2e84f9,#2e84f8,#2e84f8,#2e87f7,#2d8df2,#269be8,#1da9e0,#0bb4d2,#04bbc2,#0fbebb,#16bfb7,#1abfb5,#1bc0b4,#1cc0b3,#0bbdbd,#0dbdbc,#11beb9,#21c1b0)"></i><i style="left:869.30px;top:1152.50px;width:255.00px;height:255.00px;background:conic-gradient(#73cd63,#79cc5f,#7fcc5a,#8fcb4e,#8ccb50,#82cc58,#7bcc5d,#6fcd66,#62cd71,#5fcd73,#49cb85,#36c799,#21c1b0,#03bbc2,#0fb2d5,#249fe5,#2d8af5,#3c72ff,#4466fd,#475cfa,#4757f7,#4755f6,#4854f5,#4853f5,#4851f3,#4851f3,#4851f3,#484ef1,#484ef1,#484ff1,#484ef1,#484ef1,#4850f2,#4755f6,#475bf9,#4466fd,#3876fe,#2e85f8,#2c8ff1,#2896ec,#2698ea,#269ae9,#2995ec,#2895ec,#2995ec,#2994ed,#2a93ed,#2b91ef,#2d89f5,#3080fb,#3678fe,#307ffb,#2f81fa,#2e84f8,#317efb,#3080fa,#2f81fa,#2d8bf4,#2c90f0,#259be8,#1da8e0,#01b9c6,#2dc4a5,#59cc78,#76cc60,#87cb54,#84cc56,#87cb54,#89cb52,#94ca4a,#96ca49,#97ca47,#73cd63)"></i><i style="left:876.80px;top:1160.00px;width:240.00px;height:240.00px;background:conic-gradient(#f9d72c,#f9d62d,#fbd32e,#fdce31,#fec338,#f4ba3a,#d6be28,#bbc42f,#9ec942,#90ca4d,#62cd71,#3ac993,#23c1af,#04bbc2,#0eb3d4,#21a3e3,#2c8ef2,#3875fe,#4561fc,#4757f7,#4852f4,#4854f5,#4853f4,#4852f4,#4852f4,#4852f4,#4852f4,#484cf0,#484cf0,#484cf0,#484ef1,#484ff2,#4850f3,#4854f5,#475af9,#4465fd,#3c72ff,#2f81fa,#2d8bf4,#2a92ee,#2895ec,#2796eb,#259be8,#259ce7,#259be8,#2796eb,#2895ec,#2a92ee,#2b91ef,#2d87f7,#3080fa,#3876fe,#3579fd,#327cfc,#2e87f7,#2d89f5,#2d8bf4,#2d88f6,#2b91ef,#22a2e4,#0abdbe,#55cc7c,#bcc42f,#ecba32,#fec338,#fdce31,#fdcc32,#fdce31,#fccf30,#f6e028,#f6e028,#f6e028,#f9d72c)"></i><i style="left:884.30px;top:1167.50px;width:225.00px;height:225.00px;background:conic-gradient(#f9fb15,#f9fb15,#f9fb15,#f8f818,#f5ea23,#f9d62d,#fdcb33,#fbbc3d,#e6bb2d,#bfc32d,#90ca4d,#5bcc77,#2dc4a5,#0fbebb,#06b5cf,#1da9e0,#2b91ef,#3777fe,#4563fc,#4757f7,#4852f4,#4850f3,#484ff2,#484ff2,#484aed,#484aed,#484aed,#484ef1,#484ef1,#484ef1,#484ef1,#484ff2,#4850f3,#4850f2,#4756f6,#4660fc,#3d70ff,#3080fb,#2d8af5,#2d8df2,#2b90f0,#2b91ef,#2798ea,#2698ea,#2798ea,#2a92ee,#2b91ef,#2c8ef1,#2d8df2,#2e83f9,#327cfc,#3975fe,#3678fd,#327cfc,#2e83f9,#2e86f7,#2d89f5,#2d8bf4,#2896ec,#1ca9df,#2dc4a5,#98c947,#fabb3d,#f6e128,#f8f817,#f9fb15,#f8f61a,#f8f917,#f9fa15,#f9fb15,#f9fb15,#f9fb15,#f9fb15)"></i><i style="left:891.80px;top:1175.00px;width:210.00px;height:210.00px;background:conic-gradient(#f9fb15,#f9fb15,#f9fb15,#f9fb15,#f7f31d,#f6e028,#fad52e,#fec636,#fcbd3d,#cec028,#adc638,#7ccc5c,#4bcb84,#2ec4a4,#09bcbe,#18addb,#2994ed,#3777fe,#4465fd,#4758f8,#4852f4,#484aee,#4849ed,#4849ec,#4849ed,#4849ed,#4849ed,#484ff1,#484ff1,#484ff2,#484cef,#484cf0,#484df1,#4851f4,#4757f7,#4660fc,#406cfe,#337afd,#2e84f9,#2e85f8,#2d88f6,#2d89f6,#2d8cf3,#2d8df2,#2d8cf3,#2d8df2,#2d8cf3,#2d89f5,#2e83f9,#327cfc,#3678fe,#3975fe,#3479fd,#317efb,#2e87f7,#2d8cf3,#2b91ef,#2a93ed,#249fe6,#13b0d7,#2fc5a2,#98ca47,#f9ba3d,#fcd030,#f5e924,#f7f51b,#f9fb15,#f9fb15,#f9fb15,#f9fb15,#f9fb15,#f9fb15,#f9fb15)"></i><i style="left:899.30px;top:1182.50px;width:195.00px;height:195.00px;background:conic-gradient(#f9fb15,#f9fb15,#f9fb15,#f9fb15,#f9f916,#f5e825,#fdcd32,#fec13a,#f9bb3d,#e4bb2c,#cac129,#9bc944,#5acc77,#33c69d,#11beba,#03b7cc,#249fe6,#2f80fa,#4464fd,#4757f7,#4850f2,#484aee,#4849ed,#4848ec,#484aee,#484aee,#484aee,#484bee,#484bee,#484bee,#4849ed,#4849ed,#484aed,#484cf0,#484ff2,#4854f5,#4757f7,#465dfb,#4562fc,#406cfe,#3f6efe,#3f6fff,#3f6fff,#3e6fff,#3f6fff,#3f6fff,#3f6eff,#3f6eff,#406dfe,#3f6efe,#3c71ff,#3975fe,#327cfc,#2e83f9,#2d8df2,#2796eb,#22a1e4,#1baade,#06b5cf,#12beb9,#3ac993,#99c946,#f3ba39,#f7dc2a,#f7f41c,#f9fb15,#f9fb15,#f9fb15,#f9fb15,#f9fb15,#f9fb15,#f9fb15,#f9fb15)"></i><i style="left:906.80px;top:1190.00px;width:180.00px;height:180.00px;background:conic-gradient(#f9fb15,#f9fb15,#f9fb15,#f9fb15,#f8f719,#f5e526,#fdcc32,#fec03a,#f9bb3d,#f2ba37,#dbbd29,#afc637,#68cd6c,#39c895,#1bc0b4,#03b7cc,#249ee6,#307ffb,#4660fc,#4853f4,#484cef,#484df0,#484bef,#484bee,#4849ed,#4849ed,#4849ed,#4745e9,#4745e9,#4745e9,#4745e9,#4745e9,#4745ea,#4745e9,#4746ea,#4747eb,#484ff2,#4851f3,#4852f4,#484df0,#484df1,#484ef1,#4853f5,#4853f5,#4853f5,#484ff2,#4850f2,#4852f4,#4758f8,#465ffb,#4269fe,#3e70ff,#347afd,#2e83f9,#2d8bf4,#2798ea,#1ea7e1,#01b9c7,#22c1b0,#34c79c,#65cd6e,#bdc32e,#fec239,#f7db2b,#f6f21d,#f9fb15,#f9fb15,#f9fb15,#f9fb15,#f9fb15,#f9fb15,#f9fb15,#f9fb15)"></i><i style="left:914.30px;top:1197.50px;width:165.00px;height:165.00px;background:conic-gradient(#f9fb15,#f9fb15,#f9fb15,#f9fb15,#f6f21d,#f5e128,#fdce31,#fec239,#fbbc3d,#fdbd3d,#eaba30,#c1c32c,#78cc5f,#41ca8c,#25c2ae,#0cb3d3,#2699e9,#3479fd,#4564fd,#4755f6,#484ef1,#484bef,#484aee,#4849ed,#4744e8,#4744e8,#4744e8,#4746ea,#4746ea,#4746ea,#4747eb,#4747eb,#4747eb,#4743e7,#4743e8,#4744e8,#4849ed,#4849ed,#4849ed,#4746eb,#4747eb,#4747eb,#4848ec,#4848ec,#4848ec,#4746ea,#4747eb,#4849ed,#4852f4,#475bf9,#4367fd,#3f6eff,#347afd,#2e83f9,#2895ec,#21a3e3,#0eb2d4,#0dbdbc,#30c5a2,#42ca8c,#5fcd73,#b2c535,#fcbd3d,#f5e924,#f9fb15,#f9fb15,#f9fb15,#f9fb15,#f9fb15,#f9fb15,#f9fb15,#f9fb15,#f9fb15)"></i><i style="left:921.80px;top:1205.00px;width:150.00px;height:150.00px;background:conic-gradient(#f9fb15,#f9fb15,#f9f916,#f9fb15,#f7f61a,#f5e526,#fad42e,#fec835,#fec03b,#eeba34,#d6be28,#a8c73b,#5ccc75,#33c69d,#0ebebb,#16afd9,#2994ed,#3a74fe,#4660fb,#4852f4,#484bee,#4744e8,#4743e7,#4742e6,#4747eb,#4746eb,#4746eb,#4742e6,#4742e6,#4742e6,#4743e7,#4743e7,#4743e7,#4745e9,#4745e9,#4745e9,#4744e8,#4744e8,#4744e8,#4742e6,#4742e6,#4742e6,#4741e5,#4741e6,#4742e6,#4745e9,#4746ea,#4849ed,#484ff2,#4758f8,#4465fd,#406dfe,#3579fd,#2f82f9,#2896ec,#20a4e3,#0bb3d2,#0cbdbc,#2fc5a2,#40ca8d,#64cd6f,#b7c532,#febe3c,#fad52e,#f5ec22,#f8f917,#f9fb15,#f9fb15,#f9fb15,#f9fb15,#f9fb15,#f9fb15,#f9fb15)"></i><i style="left:929.30px;top:1212.50px;width:135.00px;height:135.00px;background:conic-gradient(#f9fb15,#f9fb15,#f9fb15,#f7f51b,#f5e825,#f9d62d,#fec934,#febe3c,#f6ba3c,#f9bb3d,#e2bc2b,#b1c635,#55cc7b,#2ec4a4,#03bbc2,#19acdc,#2b91ef,#3b72ff,#465efb,#4851f3,#484aee,#4744e8,#4742e6,#4742e6,#4742e6,#4742e6,#4742e6,#4745e9,#4745e9,#4745e9,#4741e4,#4741e4,#4741e4,#4740e4,#4740e4,#4740e4,#4742e6,#4742e6,#4742e6,#4743e7,#4743e7,#4743e7,#4742e6,#4742e6,#4742e6,#4743e7,#4744e8,#4746eb,#484bef,#4854f5,#4561fc,#3a73fe,#307ffb,#2d89f5,#2c90f0,#249ee6,#17aeda,#11beba,#32c69f,#45cb89,#6dcd67,#c0c32d,#fec339,#fbd42e,#f5eb23,#f8f818,#f9fb15,#f9fb15,#f9fb15,#f9fb15,#f9fb15,#f9fb15,#f9fb15)"></i><i style="left:936.80px;top:1220.00px;width:120.00px;height:120.00px;background:#fff"></i><i style="left:1324.30px;top:1145.00px;width:270.00px;height:270.00px;background:conic-gradient(#f9fb15,#f9fb15,#f9fb15,#f9fb15,#f9fb15,#f9fb15,#f9fb15,#f9fb15,#f9fa15,#f8d82c,#fbbc3d,#ccc028,#98c946,#62cd71,#39c895,#10beba,#18addb,#2896eb,#2f82fa,#3777fe,#3b72ff,#3f6eff,#406dfe,#406dfe,#3f6eff,#3f6eff,#3f6eff,#3974fe,#3974fe,#3974fe,#3f6efe,#3f6efe,#3f6fff,#3b72ff,#3776fe,#307ffb,#2c8ef1,#259be8,#21a3e3,#1aabdd,#18addb,#17aeda,#1aacdd,#19acdc,#1aacdd,#20a5e3,#20a4e3,#22a2e4,#1da8e0,#22a2e4,#2699e9,#2d8df2,#2e86f8,#2f82fa,#307ffb,#2f81fa,#2d88f6,#2a93ed,#1fa6e2,#02bac4,#40ca8d,#b3c534,#fec03a,#f5eb23,#f9fb15,#f9fb15,#f9fb15,#f9fb15,#f9fb15,#f9fb15,#f9fb15,#f9fb15,#f9fb15)"></i><i style="left:1331.80px;top:1152.50px;width:255.00px;height:255.00px;background:conic-gradient(#f9fb15,#f9fb15,#f9fb15,#f9fb15,#f9fb15,#f9fb15,#f9fb15,#f8f818,#f5e924,#f7dc2a,#febd3c,#d1bf27,#76cc60,#46cb87,#2dc4a6,#03bbc2,#1da9e0,#2b91ef,#2e86f7,#327cfc,#3677fe,#406dfe,#406cfe,#416cfe,#3c72ff,#3c72ff,#3c72ff,#3c71ff,#3c71ff,#3c71ff,#3a74fe,#3a74fe,#3975fe,#3e70ff,#3a74fe,#317dfc,#2c8ef1,#259be8,#21a4e3,#22a2e4,#20a4e3,#20a5e2,#1ca9df,#1ca9df,#1ca9df,#1aacdd,#1babde,#1ca9df,#1ea7e1,#23a0e5,#2797ea,#2d8df2,#2e86f7,#2f83f9,#307ffb,#2f82fa,#2d89f5,#269ae8,#19addc,#15bfb8,#3cc991,#acc738,#fdbd3d,#f7f51b,#f9fb15,#f9fb15,#f9fb15,#f9fb15,#f9fb15,#f9fb15,#f9fb15,#f9fb15,#f9fb15)"></i><i style="left:1339.30px;top:1160.00px;width:240.00px;height:240.00px;background:conic-gradient(#f9fb15,#f9fb15,#f9fb15,#f9fb15,#f9fb15,#f9fb15,#f9fb15,#f9fa15,#f5eb23,#feca33,#eaba31,#b3c534,#73cd62,#44cb8a,#2bc3a7,#05bbc1,#1caadf,#2a93ee,#2e86f7,#327cfc,#3677fe,#3a74fe,#3b73fe,#3b72ff,#3a73fe,#3a73fe,#3a73fe,#3f6eff,#3f6eff,#3f6eff,#416bfe,#416cfe,#406cfe,#3f6eff,#3b72ff,#337bfc,#2d8af4,#2797ea,#23a0e5,#1da8e0,#1caadf,#1babde,#1ea7e1,#1ea7e1,#1ea7e1,#19addc,#19acdc,#1babde,#20a4e3,#249ee6,#2995ec,#2d88f6,#2f81fa,#317dfb,#2e83f9,#2e86f8,#2d8df2,#2994ed,#1ea7e1,#02bbc3,#48cb86,#bdc32f,#fec537,#f5e327,#f7f61a,#f9fb15,#f9fb15,#f9fb15,#f9fb15,#f9fb15,#f9fb15,#f9fb15,#f9fb15)"></i><i style="left:1346.80px;top:1167.50px;width:225.00px;height:225.00px;background:conic-gradient(#f9fb15,#f9fb15,#f9fb15,#f5ed22,#f5ec22,#f5ea23,#f5e924,#f5e128,#fbd32f,#fec239,#debd29,#a1c840,#72cd64,#40ca8d,#29c3aa,#02b7cb,#20a5e3,#2c8ef1,#317efb,#3974fe,#3e6fff,#3b73fe,#3c72ff,#3c71ff,#4269fe,#4269fe,#4269fe,#3d71ff,#3d71ff,#3d71ff,#3f6dfe,#3f6efe,#3f6fff,#406cfe,#3d71ff,#337afd,#2c8ef1,#259ce7,#20a4e3,#1ea7e1,#1da9e0,#1caadf,#1aacdd,#1aacdd,#1aacdd,#1da9e0,#1da8e0,#1fa6e1,#1ea7e1,#23a0e5,#2798ea,#2e86f7,#307ffb,#327cfc,#317dfc,#3080fa,#2e87f7,#2797eb,#1ca9e0,#05bbc1,#3ac994,#a0c841,#f4ba39,#f8da2b,#f5ed22,#f7f61a,#f8f917,#f9fb15,#f9fb15,#f8f818,#f8f817,#f8f817,#f9fb15)"></i><i style="left:1354.30px;top:1175.00px;width:210.00px;height:210.00px;background:conic-gradient(#fdcb33,#fdcb33,#fdca33,#f5ba3b,#f5ba3a,#f3ba39,#f7ba3c,#efba35,#dfbc2a,#c7c129,#95ca49,#58cc79,#30c5a1,#12beb9,#03b7cc,#15afd8,#249de7,#2d88f6,#3875fe,#416bfe,#4466fd,#4465fd,#4564fd,#4564fd,#4464fd,#4564fd,#4564fd,#4563fc,#4563fc,#4563fd,#465ffb,#465ffb,#4660fc,#4561fc,#4367fd,#3c72ff,#2f81fa,#2c8ef1,#2796eb,#21a3e3,#1fa5e2,#1fa6e2,#22a2e4,#22a2e4,#22a2e4,#22a1e4,#23a1e4,#249fe5,#249ee6,#2699e9,#2b91ef,#2d8af4,#2e84f8,#2f82fa,#3080fb,#2f82f9,#2d88f6,#2797eb,#1ea7e1,#01b7ca,#22c1af,#53cc7d,#a0c841,#e5bb2d,#fabb3d,#fec239,#fec735,#fec934,#feca33,#febe3c,#febe3c,#febe3c,#fdcb33)"></i><i style="left:1361.80px;top:1182.50px;width:195.00px;height:195.00px;background:conic-gradient(#91ca4c,#91ca4c,#90ca4d,#80cc59,#7ecc5b,#7acc5e,#6acd6a,#5dcc75,#49cb85,#3cc992,#2ec4a5,#19bfb5,#01b9c6,#09b4d1,#18addb,#23a0e5,#2c8ef1,#3677fe,#4564fd,#4759f8,#4853f5,#4854f5,#4853f4,#4852f4,#4853f5,#4853f5,#4853f5,#484df1,#484df1,#484ef1,#4852f4,#4852f4,#4854f5,#4757f7,#465dfa,#4367fd,#3875fe,#2f82f9,#2d8af4,#2c90f0,#2b92ee,#2a93ee,#2c8ff0,#2c8ff0,#2c8ff0,#2a93ee,#2a93ee,#2b92ee,#2d8bf4,#2d88f6,#2e83f9,#317dfc,#337afd,#3579fd,#307ffb,#2f81fa,#2e87f7,#2d8bf3,#2699ea,#1ea6e1,#01b9c7,#1ec0b2,#34c79c,#3bc993,#50cc80,#63cd70,#85cb56,#8ccb50,#90ca4d,#85cb55,#86cb55,#86cb54,#91ca4c)"></i><i style="left:1369.30px;top:1190.00px;width:180.00px;height:180.00px;background:conic-gradient(#3eca8f,#3eca90,#3dc991,#38c896,#37c898,#35c79b,#36c899,#2fc5a3,#21c1b0,#1bc0b4,#07bcbf,#01b9c7,#12b1d6,#18aedb,#1da8e0,#259de7,#2d8bf4,#3b73fe,#4660fb,#4854f5,#484df1,#484bee,#4849ed,#4849ed,#4746ea,#4746ea,#4746ea,#484bef,#484bef,#484cef,#484aee,#484bee,#484cef,#484aee,#484ef1,#4756f7,#4466fd,#3d71ff,#3579fd,#3579fd,#337bfc,#327cfc,#317efb,#317efb,#317efb,#2f82fa,#2f82fa,#2f82fa,#347afd,#3579fd,#3678fd,#3080fb,#307ffb,#307ffb,#2f81fa,#2e84f9,#2d89f5,#2b92ee,#249de6,#1da9e0,#19addc,#0cb3d3,#01b8c9,#02bbc3,#18bfb6,#2ac3a9,#3cc991,#44ca8a,#48cb86,#4fcc81,#50cc7f,#52cc7e,#3eca8f)"></i><i style="left:1376.80px;top:1197.50px;width:165.00px;height:165.00px;background:conic-gradient(#4acb84,#45cb89,#40ca8d,#34c79c,#32c69f,#2fc5a2,#2dc4a5,#23c1af,#0dbdbc,#01b9c7,#07b5cf,#0fb2d5,#0eb2d4,#14b0d8,#1babde,#23a0e5,#2c8ef1,#3875fe,#465ffb,#4852f4,#484cef,#484aed,#4848ec,#4848ec,#4746ea,#4746ea,#4746ea,#4744e8,#4744e8,#4744e8,#4745e9,#4746ea,#4747eb,#4747eb,#484bef,#4853f4,#4563fc,#3f6efe,#3876fe,#327cfc,#317efb,#307ffb,#317efb,#317efb,#317efb,#327cfc,#327cfc,#327cfc,#307ffb,#307ffb,#307efb,#317efb,#317efb,#307efb,#3080fb,#2f82f9,#2d88f6,#2d8af4,#2896ec,#23a1e5,#1baade,#14b0d8,#09b4d1,#02bac4,#17bfb7,#2ac3a9,#2cc4a7,#31c6a0,#35c79a,#42ca8b,#48cb86,#4ccb83,#4acb84)"></i><i style="left:1384.30px;top:1205.00px;width:150.00px;height:150.00px;background:conic-gradient(#63cd70,#4ecc82,#3cc992,#41ca8c,#39c995,#35c79b,#2dc4a6,#23c1af,#0fbeba,#03b7cc,#0db3d3,#13b0d7,#16afda,#1aacdd,#1ea7e1,#249ee6,#2d8cf3,#3b73fe,#465dfa,#4850f3,#4849ed,#4849ed,#4747eb,#4747eb,#4743e7,#4743e7,#4743e7,#4745e9,#4745e9,#4745ea,#4744e8,#4745e9,#4746ea,#4747ec,#484cef,#4853f5,#475cfa,#4466fd,#3f6efe,#3975fe,#3677fe,#3579fd,#317dfb,#317efb,#317efb,#3776fe,#3776fe,#3776fe,#3975fe,#3975fe,#3975fe,#3876fe,#3776fe,#3777fe,#3579fd,#327bfc,#2f81fa,#2c90f0,#259be8,#1fa6e2,#18aedb,#0eb2d4,#04b6cd,#02bbc3,#15bfb7,#28c3aa,#2fc5a3,#36c898,#44cb8a,#65cd6e,#7fcc5a,#92ca4c,#63cd70)"></i><i style="left:1391.80px;top:1212.50px;width:135.00px;height:135.00px;background:conic-gradient(#75cc61,#49cb85,#2fc5a3,#26c2ac,#15bfb7,#0abdbd,#0bbdbc,#04bbc1,#01b9c7,#0eb2d4,#13b0d8,#16aeda,#19addc,#1babde,#1fa6e2,#2699e9,#2e87f7,#406dfe,#465ffb,#4852f4,#484bee,#4742e6,#4741e5,#4740e4,#473fe3,#473fe3,#473fe3,#4745e9,#4745e9,#4745e9,#4746ea,#4746ea,#4747eb,#4747eb,#484bef,#4853f5,#4661fc,#406cfe,#3975fe,#3a74fe,#3776fe,#3677fe,#3975fe,#3875fe,#3875fe,#3578fd,#3578fd,#3578fd,#3479fd,#3479fd,#3479fd,#337bfc,#327bfc,#327cfc,#3677fe,#337afd,#3080fb,#2d88f6,#2a93ed,#249ee6,#18addb,#10b2d5,#08b4d0,#05b6ce,#01b9c7,#08bcbf,#1abfb5,#2bc3a8,#3cc991,#52cc7e,#81cc58,#a5c83e,#75cc61)"></i><i style="left:1399.30px;top:1220.00px;width:120.00px;height:120.00px;background:#fff"></i><i style="left:861.80px;top:1625.20px;width:270.00px;height:270.00px;background:conic-gradient(#01b9c7,#01b9c7,#01b9c8,#0bbdbc,#08bcbe,#04bbc2,#07b5d0,#11b1d6,#1baade,#249ee6,#2d8bf4,#3974fe,#4561fc,#4758f8,#4854f5,#4755f6,#4854f5,#4853f5,#4854f5,#4854f5,#4854f5,#4853f5,#4853f5,#4853f5,#4851f3,#4851f3,#4851f3,#484ef1,#484ef1,#484ef1,#4850f3,#4851f3,#4852f4,#4756f7,#475bf9,#4563fd,#3c71ff,#317efb,#2e86f7,#2d8cf3,#2c8ff1,#2c90f0,#2d88f6,#2d89f6,#2d89f5,#2d8cf3,#2d8cf3,#2d8cf3,#2e87f7,#2e84f8,#3080fb,#3776fe,#3876fe,#3876fe,#3479fd,#3579fd,#3578fd,#3876fe,#3a74fe,#3c72ff,#3777fe,#307ffb,#2c90f0,#21a3e3,#14b0d8,#04b6cd,#02bac5,#06bcc0,#09bcbe,#0bbdbd,#0cbdbc,#0dbdbc,#01b9c7)"></i><i style="left:869.30px;top:1632.70px;width:255.00px;height:255.00px;background:conic-gradient(#17bfb6,#15bfb8,#10beba,#19bfb5,#09bcbe,#01b8ca,#1caadf,#22a2e4,#2699e9,#2895ec,#2e86f8,#3975fe,#4561fc,#475af9,#4756f6,#4757f7,#4854f5,#4852f4,#484ff2,#484ef1,#484df1,#484cf0,#484cef,#484cef,#4852f4,#4852f4,#4852f4,#484ff2,#484ff2,#484ff2,#4852f4,#4852f4,#4854f5,#4755f6,#475af9,#4563fc,#4368fe,#3975fe,#317efb,#2d87f7,#2d8af5,#2d8bf4,#2e87f7,#2e87f7,#2e87f7,#2d8bf4,#2d8bf4,#2d8af4,#2d8bf4,#2d88f6,#2e84f9,#3678fe,#3678fd,#3578fd,#3578fd,#3678fd,#3677fe,#3677fe,#3975fe,#3c72ff,#3d71ff,#3876fe,#2e83f9,#2b90ef,#249ee6,#1da9e0,#09b4d1,#02bac5,#0cbdbc,#08bcbf,#0cbdbc,#0ebdbb,#17bfb6)"></i><i style="left:876.80px;top:1640.20px;width:240.00px;height:240.00px;background:conic-gradient(#51cc7f,#4bcb84,#3fca8e,#3eca8f,#26c2ad,#06b5ce,#269ae8,#2d8bf4,#2e83f9,#307ffb,#327cfc,#3578fd,#307ffb,#337bfd,#3876fe,#4466fd,#465dfb,#4756f6,#4853f5,#484ff2,#484ef1,#484df0,#484df0,#484cf0,#484bee,#484bee,#484bee,#4849ed,#4849ed,#484aed,#484aee,#484bee,#484cef,#4852f4,#4757f7,#4660fc,#3e70ff,#317dfc,#2e86f7,#2e84f9,#2e86f7,#2e87f7,#2d8cf3,#2d8df2,#2d8df2,#2d8cf3,#2d8cf3,#2d8bf3,#2d87f7,#2e85f8,#2f81fa,#2f81fa,#2e83f9,#2e84f8,#2e85f8,#2e85f8,#2e85f8,#317efb,#327bfc,#3876fe,#3a73fe,#3d71ff,#3975fe,#3579fd,#2e87f7,#269ae8,#04b6cd,#27c2ac,#3eca8f,#41ca8c,#4ccb83,#51cc7f,#51cc7f)"></i><i style="left:884.30px;top:1647.70px;width:225.00px;height:225.00px;background:conic-gradient(#a5c83d,#9bc944,#87cb54,#62cd71,#33c69e,#01b8c9,#22a1e4,#2b92ee,#2c8ff0,#2c8ff0,#2994ed,#2797eb,#2797eb,#2993ed,#2d8df2,#2f82fa,#3d71ff,#4660fc,#475af9,#4854f5,#4850f3,#4849ed,#4849ed,#4848ec,#484bef,#484bef,#484bef,#484ef1,#484ef1,#484ef1,#484ef1,#484ff1,#4850f2,#484df1,#4853f4,#475bfa,#416bfe,#3578fd,#2f82fa,#2e87f7,#2d8af5,#2d8bf4,#2c90f0,#2c90f0,#2c90f0,#2d8bf4,#2d8bf4,#2d8bf4,#2c8ef1,#2c8ef1,#2c8ef1,#2d8bf3,#2a93ee,#2699e9,#259de7,#239fe5,#23a1e5,#1ea7e1,#20a5e2,#22a1e4,#2994ed,#2c90f0,#2c8ff1,#2896ec,#23a0e5,#13b0d7,#1bc0b4,#43ca8b,#71cd64,#7ccc5c,#89cb52,#8fcb4e,#a5c83d)"></i><i style="left:891.80px;top:1655.20px;width:210.00px;height:210.00px;background:conic-gradient(#c1c32d,#b6c533,#a4c83e,#80cc59,#4ecc81,#29c3a9,#06b5ce,#1baade,#20a5e2,#23a1e5,#22a1e4,#22a2e4,#1aacdd,#1ea8e1,#23a0e5,#2c90f0,#317dfc,#4368fe,#4756f7,#484ef1,#484aee,#4848ec,#4747eb,#4747eb,#484bee,#484aee,#484aee,#4747eb,#4747eb,#4747ec,#4747eb,#4747eb,#4848ec,#484ff2,#4854f5,#465efb,#4466fd,#3a74fe,#317efb,#2d8bf3,#2c8ef1,#2c8ff0,#2d8bf4,#2d8bf4,#2d8bf3,#2b91ef,#2b92ee,#2a93ed,#2895ec,#259ce7,#1ea7e1,#0fb2d5,#1cc0b3,#3eca8f,#59cc78,#76cc60,#86cb55,#8ecb4f,#8fcb4e,#8ccb50,#acc739,#a7c73c,#a5c83e,#9fc942,#a6c83d,#b3c534,#ccc028,#d5be28,#d6be28,#d2bf27,#cdc028,#c9c129,#c1c32d)"></i><i style="left:899.30px;top:1662.70px;width:195.00px;height:195.00px;background:conic-gradient(#a7c73c,#9ac945,#8bcb51,#99c946,#7dcc5c,#5dcc75,#3ac994,#26c2ad,#07bcc0,#0cb3d3,#17aeda,#1aabdd,#1aabdd,#1fa6e2,#249ee6,#2a93ed,#3080fb,#4269fe,#475af9,#4852f4,#484df1,#4848ec,#4747eb,#4747eb,#484aee,#484aee,#484aee,#4745e9,#4745ea,#4745ea,#484bee,#484bef,#484cf0,#484ef1,#4853f5,#465dfa,#4466fd,#3a74fe,#317efb,#2d8cf3,#2c8ff1,#2c90f0,#2c90f0,#2c90f0,#2b90ef,#2d8df2,#2c8ef1,#2b91ef,#2797ea,#21a3e3,#05b6ce,#33c79c,#9ac945,#f1ba37,#fdcb33,#f6df29,#f5ea24,#f6f020,#f6f21e,#f6f21d,#f7f51b,#f7f41c,#f7f41c,#f9fb15,#f9fb15,#f9fb15,#f6dd29,#fdcc32,#f8ba3d,#e1bc2b,#c9c129,#bac430,#a7c73c)"></i><i style="left:906.80px;top:1670.20px;width:180.00px;height:180.00px;background:conic-gradient(#afc636,#a2c83f,#96ca48,#79cc5e,#68cd6b,#57cc7a,#5dcc75,#3ac994,#24c2ae,#05b6ce,#15afd9,#1babde,#1ca9df,#21a4e3,#259be7,#2c8ff0,#337bfc,#4465fd,#4853f5,#484aee,#4746ea,#4746eb,#4746ea,#4745e9,#4848ec,#4848ec,#4848ec,#4747eb,#4747eb,#4747eb,#4745e9,#4745e9,#4747eb,#484ef1,#4854f5,#465efb,#406cfe,#327bfc,#2e86f7,#2d88f6,#2d8bf3,#2d8df2,#2d8af4,#2d8af4,#2d8bf4,#2d8bf4,#2d8cf3,#2c90f0,#259ce7,#1ca9df,#05bbc1,#5dcc74,#dcbd29,#f8d92c,#f6f11e,#f9fb15,#f9fb15,#f9fb15,#f9fb15,#f9fb15,#f9fb15,#f9fb15,#f9fb15,#f9fb15,#f9fb15,#f9fb15,#f7f31d,#f6dd29,#fec13a,#f7ba3c,#dabd28,#c6c22a,#afc636)"></i><i style="left:914.30px;top:1677.70px;width:165.00px;height:165.00px;background:conic-gradient(#a2c83f,#98c947,#93ca4b,#82cc58,#79cc5e,#6ccd68,#4ccb83,#33c69e,#18bfb6,#04bbc2,#06b5cf,#10b2d5,#16afda,#1ca9e0,#23a1e4,#2a93ee,#317efb,#4367fd,#4756f7,#484df1,#4849ed,#4743e7,#4742e6,#4742e6,#4747eb,#4746eb,#4746eb,#4745e9,#4745e9,#4745e9,#4743e7,#4743e7,#4745e9,#4848ec,#484ef1,#4758f8,#426afe,#347afd,#2e86f7,#2b91ef,#2896eb,#2699e9,#259be8,#259ce7,#259ce7,#2699e9,#269ae8,#249de6,#21a3e3,#15afd9,#13beb9,#57cc7a,#d1bf27,#fccf30,#f5ed22,#f9fb15,#f9fb15,#f9fb15,#f9fb15,#f9fb15,#f9fb15,#f9fb15,#f9fb15,#f9fb15,#f9fb15,#f9fb15,#f8f818,#f6e128,#fec03a,#efba35,#c7c129,#abc739,#a2c83f)"></i><i style="left:921.80px;top:1685.20px;width:150.00px;height:150.00px;background:conic-gradient(#65cd6e,#57cc7a,#51cc7f,#42ca8b,#44ca8a,#43ca8b,#4ccb83,#34c79b,#1dc0b3,#01b9c7,#0cb3d3,#15afd9,#1da8e0,#22a2e4,#269ae9,#2d8df2,#3677fe,#4561fc,#4852f4,#4849ed,#4744e9,#4743e7,#4742e6,#4742e6,#4745e9,#4745e9,#4745e9,#4744e8,#4744e8,#4744e9,#4742e7,#4743e7,#4745e9,#484bef,#4852f4,#465efb,#416bfe,#307ffb,#2c8ff0,#2699e9,#22a2e4,#1da8e0,#1aacdd,#18aedb,#17aeda,#09b4d1,#06b5cf,#03b7cc,#07b5d0,#05bbc1,#2ec5a4,#70cd65,#d2bf27,#fec834,#f5ea24,#f9fb15,#f9fb15,#f9fb15,#f9fb15,#f9fb15,#f9fb15,#f9fb15,#f9fb15,#f9fb15,#f9fb15,#f9fb15,#f9fb15,#f5e128,#f9bb3d,#b6c532,#88cb53,#70cd65,#65cd6e)"></i><i style="left:929.30px;top:1692.70px;width:135.00px;height:135.00px;background:conic-gradient(#a2c83f,#79cc5e,#53cc7d,#40ca8d,#3fca8e,#42ca8c,#3cc991,#2dc4a5,#10beba,#01b8ca,#10b2d5,#17aeda,#1aacdd,#1fa6e1,#249ee6,#2d8cf3,#3777fe,#4660fb,#4853f4,#4849ed,#4745e9,#4742e6,#4741e5,#4740e4,#4742e6,#4742e6,#4742e6,#473fe3,#473fe3,#4740e3,#473fe2,#4740e3,#4741e5,#4745e9,#484cef,#4758f8,#416bfe,#2f81fa,#2995ec,#1fa6e2,#11b1d6,#01b7ca,#02bbc3,#07bcbf,#0abdbd,#09bdbe,#0cbdbc,#11beba,#2dc4a5,#37c897,#56cc7b,#7ecc5a,#c3c22b,#f4ba39,#fbd22f,#f5e128,#f5e924,#f5ee21,#f6f020,#f6f01f,#f5eb23,#f5eb23,#f5ea23,#f7db2b,#f9d82c,#fbd22f,#fec934,#efba35,#c7c12a,#a3c83f,#a1c840,#adc738,#a2c83f)"></i><i style="left:936.80px;top:1700.20px;width:120.00px;height:120.00px;background:#fff"></i><i style="left:1324.00px;top:1625.20px;width:270.00px;height:270.00px;background:conic-gradient(#febf3b,#febf3c,#febd3c,#fbbc3d,#f5ba3a,#ebba31,#f8ba3d,#eeba34,#e4bb2c,#b4c534,#99c946,#75cc61,#5dcc75,#31c6a0,#01bac5,#22a2e4,#2d89f5,#3d70ff,#4562fc,#4758f8,#4854f5,#4851f3,#4850f3,#4850f2,#4851f3,#4851f3,#4851f3,#4854f5,#4854f5,#4854f6,#4850f2,#4852f4,#4757f7,#4369fe,#317dfc,#2895ec,#23a0e5,#21a4e3,#259ce7,#2896eb,#2c90f0,#2d8cf3,#2d8af4,#2d8af5,#2d89f5,#2c8ef1,#2c8ef1,#2c8ef2,#2d8bf4,#2d88f6,#2e84f9,#3479fd,#406dfe,#4561fc,#465dfa,#4758f8,#4756f7,#4756f6,#4758f8,#475cfa,#4466fd,#337bfc,#259be8,#04bbc2,#5bcc77,#bfc32e,#d8be28,#eeba35,#f8ba3d,#fec934,#feca33,#fdcb33,#febf3b)"></i><i style="left:1331.50px;top:1632.70px;width:255.00px;height:255.00px;background:conic-gradient(#fbd22f,#fcd030,#fdcc32,#f8da2b,#fdcc32,#fdbd3d,#efba35,#e3bc2c,#d9be28,#b5c533,#9bc944,#7acc5e,#55cc7b,#2ec5a4,#01b9c8,#1ea6e1,#2d8df2,#3974fe,#465efb,#4854f6,#4850f2,#484ef1,#484df0,#484df0,#484cf0,#484cef,#484cef,#484df0,#484df0,#484ef1,#4853f5,#4855f6,#4758f8,#475bf9,#4367fd,#3479fd,#2e87f7,#2c8ff1,#2c8ef1,#2d8df2,#2d8bf4,#2d89f5,#2b91ef,#2b91ef,#2b91ef,#2c90f0,#2c90f0,#2c8ff0,#2d88f6,#2e86f7,#2f81fa,#347afd,#406dfe,#4561fc,#475af9,#4757f7,#4756f7,#4756f6,#475af9,#4561fc,#3a73fe,#2c8ef1,#0eb2d4,#38c896,#b2c635,#f5ba3a,#fec537,#fdcd31,#fcd12f,#f5e427,#f5e426,#f5e427,#fbd22f)"></i><i style="left:1339.00px;top:1640.20px;width:240.00px;height:240.00px;background:conic-gradient(#f5ed22,#f5e825,#f6de29,#fec934,#edba33,#c0c32d,#a0c841,#97ca48,#95ca49,#87cb54,#73cd63,#5acc77,#42ca8c,#25c2ad,#05b6ce,#20a5e2,#2d8cf3,#3b72fe,#4561fc,#4758f8,#4853f5,#484ef1,#484df0,#484cf0,#484aed,#484aed,#4849ed,#484df0,#484df0,#484df0,#484cf0,#484df0,#484ff1,#4852f4,#4758f8,#4563fd,#3678fd,#2e84f8,#2d8af4,#2c8ef1,#2c90f0,#2b90f0,#2d88f6,#2d88f6,#2d88f6,#2c90f0,#2c90f0,#2c8ff0,#2e86f7,#2e84f8,#307ffb,#3578fd,#406cfe,#4660fc,#4759f8,#4759f8,#465ffb,#406cfe,#347afd,#2e87f7,#2798ea,#1aacdd,#20c1b1,#78cc5f,#e8bb2f,#fcd12f,#f5eb23,#f7f41c,#f8f917,#f9fb15,#f9fb15,#f9fb15,#f5ed22)"></i><i style="left:1346.50px;top:1647.70px;width:225.00px;height:225.00px;background:conic-gradient(#f6f01f,#f5eb23,#f6de29,#fec03b,#cec028,#7dcc5c,#43ca8a,#37c897,#37c897,#44cb8a,#3eca8f,#36c898,#2ec5a4,#0cbdbc,#11b1d6,#22a1e4,#2d89f5,#3d70ff,#465dfb,#4854f5,#4850f2,#484bef,#484aee,#484aed,#4848ec,#4848ec,#4848ec,#484bee,#484bee,#484bee,#484cf0,#484df0,#484ef1,#484df0,#4852f4,#475cfa,#4368fe,#3975fe,#317efb,#2d8bf4,#2d8df2,#2c8ff1,#2c90f0,#2c90f0,#2c90f0,#2d8cf3,#2d8cf3,#2d8bf4,#2c8ff1,#2d8cf3,#2d87f7,#327bfc,#3e6fff,#4465fd,#4563fd,#416bfe,#2f80fa,#259ce7,#0ab4d2,#1bc0b4,#29c3aa,#3fca8e,#7bcc5d,#e4bb2c,#fdcc32,#f5e625,#f5ea24,#f6f21e,#f7f51b,#f6f020,#f6f11f,#f6ef20,#f6f01f)"></i><i style="left:1354.00px;top:1655.20px;width:210.00px;height:210.00px;background:conic-gradient(#f5ef20,#f5e924,#f7db2b,#fec934,#d1bf27,#5bcc76,#18bfb6,#07b5cf,#0db3d3,#13b1d7,#0cb3d3,#0ab4d2,#07b5d0,#16aeda,#21a4e3,#2994ed,#307ffb,#4269fe,#4755f6,#484df1,#4849ed,#484aee,#4849ed,#4849ed,#484aee,#484aee,#484aee,#4747eb,#4747eb,#4747eb,#484cf0,#484df0,#484ef1,#484df0,#4852f4,#475cfa,#4369fe,#3776fe,#2f80fa,#2d87f6,#2d8af4,#2d8bf4,#2d8df2,#2d8df2,#2d8df2,#2d8bf4,#2d8af4,#2d8af4,#2d8af5,#2e87f7,#2f82f9,#337bfd,#3f6eff,#4465fd,#4563fc,#3e6fff,#2d8bf4,#14b0d8,#2cc4a7,#60cd72,#86cb55,#b1c635,#dbbd28,#edba34,#fec537,#fad42e,#f5e526,#f5ea24,#f5ec22,#f5e526,#f5e526,#f5e427,#f5ef20)"></i><i style="left:1361.50px;top:1662.70px;width:195.00px;height:195.00px;background:conic-gradient(#efba35,#e8bb2e,#d6be28,#b2c534,#60cd72,#19bfb5,#1baadf,#2995ec,#2d8df2,#2d8af5,#2d8df2,#2c90f0,#2b92ee,#2c8ef2,#2e86f7,#327bfc,#416bfe,#475cfa,#4853f5,#484df0,#484aed,#4746ea,#4745e9,#4745e9,#4747eb,#4747eb,#4747eb,#4848ec,#4848ec,#4848ec,#484bef,#484cef,#484df0,#484ff2,#4854f5,#465efb,#4367fd,#3975fe,#307ffb,#2d88f6,#2d8af4,#2d8cf3,#2e87f7,#2e87f7,#2e87f7,#2c8ff1,#2c8ff1,#2c8ff1,#2e87f7,#2e85f8,#3080fb,#3677fe,#416bfe,#4562fc,#4562fc,#3e6fff,#2d8cf3,#14b0d8,#2dc4a5,#63cd6f,#86cb55,#acc738,#cec028,#eeba34,#febe3c,#fec736,#fec536,#fec239,#febe3c,#fdcd32,#feca33,#fec835,#efba35)"></i><i style="left:1369.00px;top:1670.20px;width:180.00px;height:180.00px;background:conic-gradient(#30c5a2,#2dc4a5,#27c2ab,#11beba,#02b7cb,#1caadf,#22a1e4,#2c8ff1,#3080fb,#3a73fe,#406dfe,#426afe,#4465fd,#4563fc,#465ffb,#475cfa,#4756f7,#4850f3,#4849ed,#4747eb,#4746ea,#4743e8,#4743e7,#4743e7,#4848ec,#4848ec,#4848ec,#4746ea,#4746ea,#4746ea,#4848ec,#4849ed,#484aee,#484cf0,#4852f4,#475cfa,#416cfe,#337bfd,#2e85f8,#2e85f8,#2d88f6,#2d89f5,#2c8ff1,#2c8ff1,#2c90f0,#2d8bf4,#2d8cf3,#2d8cf3,#2c8ff1,#2d8df2,#2d89f6,#2f81fa,#3876fe,#406dfe,#4369fe,#3875fe,#2c90f0,#14b0d8,#29c3aa,#55cc7b,#9ac945,#b7c532,#cdc028,#cfc028,#d5be28,#cec028,#b6c533,#8ecb4e,#66cd6d,#53cc7d,#45cb88,#3eca8f,#30c5a2)"></i><i style="left:1376.50px;top:1677.70px;width:165.00px;height:165.00px;background:conic-gradient(#0db3d4,#0fb2d5,#12b1d6,#1aacdd,#1da9e0,#22a2e4,#2698ea,#2d8af5,#3776fe,#4366fd,#4759f8,#4852f4,#484ef1,#484cef,#484aee,#4746eb,#4745e9,#4744e8,#4745e9,#4745e9,#4745e9,#4746ea,#4746ea,#4746ea,#4746ea,#4746ea,#4746ea,#4746eb,#4747eb,#4747eb,#4848ec,#4848ec,#484aed,#4747eb,#484df0,#4757f7,#4367fd,#3776fe,#2f81fa,#2f82f9,#2e85f8,#2e86f7,#2c8ff1,#2c90f0,#2b91ef,#2994ed,#2797ea,#269be8,#2895ec,#2895ec,#2994ed,#2895ec,#2c90f0,#2d8bf4,#2d8af4,#2a92ee,#21a3e4,#02b7ca,#2bc3a8,#46cb88,#4dcc82,#5ccc76,#65cd6e,#86cb55,#7acc5d,#62cd70,#2fc5a3,#14bfb8,#01b8c8,#05b6ce,#0cb3d3,#11b1d6,#0db3d4)"></i><i style="left:1384.00px;top:1685.20px;width:150.00px;height:150.00px;background:conic-gradient(#1da8e0,#1ea8e0,#1ea7e1,#1caadf,#1ea8e1,#21a4e3,#259ce7,#2c8ef1,#3479fd,#4561fc,#4852f4,#4849ed,#4848ec,#4746ea,#4745e9,#4745e9,#4745e9,#4744e8,#4743e7,#4743e7,#4743e7,#4740e4,#4740e4,#4740e4,#4742e6,#4742e6,#4742e6,#4743e7,#4743e7,#4743e7,#4743e7,#4744e8,#4745e9,#4747eb,#484df1,#4758f8,#4464fd,#3a73fe,#317efb,#2f82f9,#2e85f8,#2e87f7,#2b91ef,#2a92ee,#2895ec,#269ae8,#23a0e5,#1fa6e1,#21a3e3,#20a5e2,#1fa6e2,#1baade,#1ca9df,#1da9e0,#1da9e0,#1aacdd,#12b1d6,#0bb3d2,#01b9c7,#09bdbe,#15bfb8,#16bfb7,#10beba,#01b9c6,#09b4d1,#16afd9,#11b1d6,#15afd8,#16aeda,#1baade,#1caadf,#1caadf,#1da8e0)"></i><i style="left:1391.50px;top:1692.70px;width:135.00px;height:135.00px;background:conic-gradient(#1ea7e1,#1ea7e1,#1fa6e1,#20a5e3,#21a3e3,#249fe5,#249de6,#2c8ff0,#347afd,#4563fd,#4854f5,#484aee,#4743e7,#4741e5,#4740e3,#473fe2,#473ee2,#473ee1,#473fe2,#473fe2,#473fe2,#4740e4,#4740e4,#4740e4,#4741e5,#4741e5,#4741e5,#4741e5,#4741e5,#4741e5,#473fe3,#4740e3,#4741e5,#4746ea,#484cef,#4756f7,#4561fc,#3d70ff,#327cfc,#2d8af4,#2d8df2,#2c8ff1,#2c8ff1,#2b91ef,#2994ed,#2797eb,#249ee6,#1fa5e2,#17aeda,#13b1d7,#10b2d5,#10b2d5,#10b2d5,#0fb2d5,#1aacdd,#19addc,#18aedb,#0db3d3,#09b4d1,#07b5d0,#03b7cc,#07b5d0,#14b0d8,#259de7,#2c90f0,#2d88f6,#2b91ef,#269ae9,#22a2e4,#1fa6e2,#1da8e0,#1caadf,#1ea7e1)"></i><i style="left:1399.00px;top:1700.20px;width:120.00px;height:120.00px;background:#fff"></i></div><div style="position:absolute;left:126.3px;top:2001.0px;width:1378.3px;height:58.5px;background:linear-gradient(90deg,#3e26a8 0.0000%,#3e26a8 1.5625%,#402ab4 1.5625%,#402ab4 3.1250%,#422ec0 3.1250%,#422ec0 4.6875%,#4332cb 4.6875%,#4332cb 6.2500%,#4537d5 6.2500%,#4537d5 7.8125%,#463cde 7.8125%,#463cde 9.3750%,#4741e5 9.3750%,#4741e5 10.9375%,#4747eb 10.9375%,#4747eb 12.5000%,#484df0 12.5000%,#484df0 14.0625%,#4852f4 14.0625%,#4852f4 15.6250%,#4758f8 15.6250%,#4758f8 17.1875%,#465efb 17.1875%,#465efb 18.7500%,#4563fd 18.7500%,#4563fd 20.3125%,#4269fe 20.3125%,#4269fe 21.8750%,#3e6fff 21.8750%,#3e6fff 23.4375%,#3875fe 23.4375%,#3875fe 25.0000%,#327cfc 25.0000%,#327cfc 26.5625%,#2f81fa 26.5625%,#2f81fa 28.1250%,#2e87f7 28.1250%,#2e87f7 29.6875%,#2d8cf3 29.6875%,#2d8cf3 31.2500%,#2b91ef 31.2500%,#2b91ef 32.8125%,#2797eb 32.8125%,#2797eb 34.3750%,#259be8 34.3750%,#259be8 35.9375%,#23a0e5 35.9375%,#23a0e5 37.5000%,#20a5e3 37.5000%,#20a5e3 39.0625%,#1ca9df 39.0625%,#1ca9df 40.6250%,#18addb 40.6250%,#18addb 42.1875%,#12b1d6 42.1875%,#12b1d6 43.7500%,#08b5d0 43.7500%,#08b5d0 45.3125%,#01b8ca 45.3125%,#01b8ca 46.8750%,#02bac3 46.8750%,#02bac3 48.4375%,#0bbdbd 48.4375%,#0bbdbd 50.0000%,#19bfb6 50.0000%,#19bfb6 51.5625%,#24c1ae 51.5625%,#24c1ae 53.1250%,#2cc4a7 53.1250%,#2cc4a7 54.6875%,#31c69f 54.6875%,#31c69f 56.2500%,#37c897 56.2500%,#37c897 57.8125%,#3fca8e 57.8125%,#3fca8e 59.3750%,#4acb84 59.3750%,#4acb84 60.9375%,#57cc7a 60.9375%,#57cc7a 62.5000%,#64cd6f 62.5000%,#64cd6f 64.0625%,#72cd64 64.0625%,#72cd64 65.6250%,#81cc59 65.6250%,#81cc59 67.1875%,#8fcb4e 67.1875%,#8fcb4e 68.7500%,#9dc943 68.7500%,#9dc943 70.3125%,#abc739 70.3125%,#abc739 71.8750%,#b9c431 71.8750%,#b9c431 73.4375%,#c5c22a 73.4375%,#c5c22a 75.0000%,#d1bf27 75.0000%,#d1bf27 76.5625%,#dcbd29 76.5625%,#dcbd29 78.1250%,#e6bb2d 78.1250%,#e6bb2d 79.6875%,#f0ba36 79.6875%,#f0ba36 81.2500%,#f8ba3d 81.2500%,#f8ba3d 82.8125%,#febe3c 82.8125%,#febe3c 84.3750%,#fec338 84.3750%,#fec338 85.9375%,#fec934 85.9375%,#fec934 87.5000%,#fccf30 87.5000%,#fccf30 89.0625%,#fad62d 89.0625%,#fad62d 90.6250%,#f7dc2a 90.6250%,#f7dc2a 92.1875%,#f5e327 92.1875%,#f5e327 93.7500%,#f5e924 93.7500%,#f5e924 95.3125%,#f6ef20 95.3125%,#f6ef20 96.8750%,#f7f51b 96.8750%,#f7f51b 98.4375%,#f9fb15 98.4375%,#f9fb15 100.0000%)"></div><svg width="1640" height="2166" viewBox="0 0 1640 2166" font-family="Liberation Sans, Arial, sans-serif"><defs><g id="ov"><path d="M0,0L0.0,-60.0M0.0,-135.0L0.0,-149.5M0,0L30.0,-52.0M67.5,-116.9L74.7,-129.5M0,0L52.0,-30.0M116.9,-67.5L129.5,-74.8M0,0L60.0,-0.0M135.0,-0.0L149.5,-0.0M0,0L52.0,30.0M116.9,67.5L129.5,74.7M0,0L30.0,52.0M67.5,116.9L74.7,129.5M0,0L0.0,60.0M0.0,135.0L0.0,149.5M0,0L-30.0,52.0M-67.5,116.9L-74.8,129.5M0,0L-52.0,30.0M-116.9,67.5L-129.5,74.8M0,0L-60.0,0.0M-135.0,0.0L-149.5,0.0M0,0L-52.0,-30.0M-116.9,-67.5L-129.5,-74.8M0,0L-30.0,-52.0M-67.5,-116.9L-74.8,-129.5" stroke="#000" stroke-opacity=".4" stroke-width="1" stroke-dasharray="3 1.3" fill="none"/><path d="M0.0,-60.0L0.0,-135.0M30.0,-52.0L67.5,-116.9M52.0,-30.0L116.9,-67.5M60.0,-0.0L135.0,-0.0M52.0,30.0L116.9,67.5M30.0,52.0L67.5,116.9M0.0,60.0L0.0,135.0M-30.0,52.0L-67.5,116.9M-52.0,30.0L-116.9,67.5M-60.0,0.0L-135.0,0.0M-52.0,-30.0L-116.9,-67.5M-30.0,-52.0L-67.5,-116.9" stroke="#000" stroke-opacity=".33" stroke-width="1.1" fill="none"/><circle r="112" stroke="#000" stroke-opacity=".3" stroke-width="1.1" fill="none"/><polyline points="-103.7,-103.7 -71.1,-123.1 -36.2,-135.1 0.0,-138.6 36.2,-134.9 70.2,-121.7 101.5,-101.5" stroke="#f00" stroke-width="2.3" fill="none" stroke-linejoin="round"/><polygon points="0.0,-122.5 32.0,-119.4 62.0,-107.5 90.2,-90.2 108.9,-62.9 118.4,-31.7 120.5,-0.0 116.9,31.3 103.6,59.8 86.0,86.0 64.9,112.5 34.9,130.3 0.0,136.9 -34.9,130.3 -64.9,112.5 -88.0,88.0 -105.2,60.7 -118.8,31.8 -121.9,-0.0 -119.8,-32.1 -108.8,-62.8 -89.8,-89.8 -62.5,-108.3 -32.2,-120.3" stroke="#f2001c" stroke-width="2.3" fill="none" stroke-linejoin="round"/><polygon points="0.0,-87.5 23.1,-86.3 47.1,-81.7 72.8,-72.8 95.8,-55.3 111.5,-29.9 118.1,-0.0 118.0,31.6 106.6,61.5 87.8,87.8 63.6,110.2 33.1,123.6 0.0,128.4 -33.1,123.6 -64.1,111.0 -87.8,87.8 -105.1,60.7 -118.8,31.8 -117.9,-0.0 -112.9,-30.3 -96.0,-55.4 -73.5,-73.5 -47.5,-82.3 -23.1,-86.3" stroke="#000" stroke-width="2.3" fill="none" stroke-linejoin="round"/><polyline points="-106.8,104.9 -125.7,69.0 -131.4,34.8 -129.0,-0.0 -114.5,-30.7 -100.0,-57.8 -79.9,-79.9 -56.0,-97.0 -28.9,-107.7 0.0,-112.2 29.1,-108.8 57.0,-98.8 82.3,-82.3 102.9,-59.4 116.9,-31.3 125.7,-0.0 128.5,34.8 123.8,53.7 121.0,70.9 104.0,103.0" stroke="#000" stroke-width="2.0" fill="none" stroke-linejoin="round"/><circle r="149.3" stroke="#141414" stroke-width="4.3" fill="none"/></g></defs><use href="#ov" transform="translate(179.1,301.1)"/><use href="#ov" transform="translate(643.2,301.2)"/><use href="#ov" transform="translate(179.0,782.9)"/><use href="#ov" transform="translate(642.9,782.9)"/><use href="#ov" transform="translate(998.0,299.8)"/><use href="#ov" transform="translate(1455.1,299.5)"/><use href="#ov" transform="translate(998.0,779.8)"/><use href="#ov" transform="translate(1455.1,779.8)"/><use href="#ov" transform="translate(178.5,1280.7)"/><use href="#ov" transform="translate(641.0,1280.7)"/><use href="#ov" transform="translate(178.5,1759.5)"/><use href="#ov" transform="translate(641.0,1759.5)"/><use href="#ov" transform="translate(996.8,1280.0)"/><use href="#ov" transform="translate(1459.3,1280.0)"/><use href="#ov" transform="translate(996.8,1760.2)"/><use href="#ov" transform="translate(1459.0,1760.2)"/><text x="109.01" y="121.60" font-size="24.50" font-weight="bold" textLength="139.86" lengthAdjust="spacing">By&gt;0 / Bz&gt;0</text><text x="143.12" y="144.00" font-size="21.30" font-weight="bold" textLength="75.01" lengthAdjust="spacing">12 MLT</text><text x="165.76" y="471.00" font-size="21.00" font-weight="bold" textLength="23.63" lengthAdjust="spacing">00</text><text x="1.04" y="307.00" font-size="21.00" font-weight="bold" textLength="23.44" lengthAdjust="spacing">18</text><text x="333.76" y="309.10" font-size="21.00" font-weight="bold" textLength="23.72" lengthAdjust="spacing">06</text><text x="110.66" y="200.80" font-size="23.00" fill="#3a3a3a" textLength="24.61" lengthAdjust="spacing">75</text><text x="136.36" y="191.20" font-size="19.00" fill="#3a3a3a">&#176;</text><text x="149.22" y="200.80" font-size="23.50" fill="#3a3a3a" textLength="17.21" lengthAdjust="spacing">N</text><text x="110.66" y="313.90" font-size="23.00" fill="#3a3a3a" textLength="24.61" lengthAdjust="spacing">90</text><text x="136.36" y="304.30" font-size="19.00" fill="#3a3a3a">&#176;</text><text x="149.22" y="313.90" font-size="23.50" fill="#3a3a3a" textLength="17.21" lengthAdjust="spacing">N</text><text x="573.11" y="121.70" font-size="24.50" font-weight="bold" textLength="139.86" lengthAdjust="spacing">By&gt;0 / Bz&lt;0</text><text x="603.07" y="142.55" font-size="21.30" font-weight="bold" textLength="75.01" lengthAdjust="spacing">12 MLT</text><text x="625.71" y="469.55" font-size="21.00" font-weight="bold" textLength="23.63" lengthAdjust="spacing">00</text><text x="460.99" y="304.00" font-size="21.00" font-weight="bold" textLength="23.44" lengthAdjust="spacing">18</text><text x="793.71" y="306.10" font-size="21.00" font-weight="bold" textLength="23.72" lengthAdjust="spacing">06</text><text x="574.77" y="200.90" font-size="23.00" fill="#3a3a3a" textLength="24.61" lengthAdjust="spacing">75</text><text x="600.46" y="191.30" font-size="19.00" fill="#3a3a3a">&#176;</text><text x="613.32" y="200.90" font-size="23.50" fill="#3a3a3a" textLength="17.21" lengthAdjust="spacing">N</text><text x="574.77" y="314.00" font-size="23.00" fill="#3a3a3a" textLength="24.61" lengthAdjust="spacing">90</text><text x="600.46" y="304.40" font-size="19.00" fill="#3a3a3a">&#176;</text><text x="613.32" y="314.00" font-size="23.50" fill="#3a3a3a" textLength="17.21" lengthAdjust="spacing">N</text><text x="108.91" y="603.40" font-size="24.50" font-weight="bold" textLength="139.86" lengthAdjust="spacing">By&lt;0 / Bz&gt;0</text><text x="143.02" y="625.27" font-size="21.30" font-weight="bold" textLength="75.01" lengthAdjust="spacing">12 MLT</text><text x="165.66" y="952.27" font-size="21.00" font-weight="bold" textLength="23.63" lengthAdjust="spacing">00</text><text x="0.94" y="787.75" font-size="21.00" font-weight="bold" textLength="23.44" lengthAdjust="spacing">18</text><text x="333.66" y="789.85" font-size="21.00" font-weight="bold" textLength="23.72" lengthAdjust="spacing">06</text><text x="110.56" y="682.60" font-size="23.00" fill="#3a3a3a" textLength="24.61" lengthAdjust="spacing">75</text><text x="136.26" y="673.00" font-size="19.00" fill="#3a3a3a">&#176;</text><text x="149.12" y="682.60" font-size="23.50" fill="#3a3a3a" textLength="17.21" lengthAdjust="spacing">N</text><text x="110.56" y="795.70" font-size="23.00" fill="#3a3a3a" textLength="24.61" lengthAdjust="spacing">90</text><text x="136.26" y="786.10" font-size="19.00" fill="#3a3a3a">&#176;</text><text x="149.12" y="795.70" font-size="23.50" fill="#3a3a3a" textLength="17.21" lengthAdjust="spacing">N</text><text x="572.81" y="603.40" font-size="24.50" font-weight="bold" textLength="139.86" lengthAdjust="spacing">By&lt;0 / Bz&lt;0</text><text x="602.67" y="624.80" font-size="21.30" font-weight="bold" textLength="75.01" lengthAdjust="spacing">12 MLT</text><text x="625.31" y="951.80" font-size="21.00" font-weight="bold" textLength="23.63" lengthAdjust="spacing">00</text><text x="460.58" y="786.80" font-size="21.00" font-weight="bold" textLength="23.44" lengthAdjust="spacing">18</text><text x="793.31" y="788.90" font-size="21.00" font-weight="bold" textLength="23.72" lengthAdjust="spacing">06</text><text x="574.47" y="682.60" font-size="23.00" fill="#3a3a3a" textLength="24.61" lengthAdjust="spacing">75</text><text x="600.16" y="673.00" font-size="19.00" fill="#3a3a3a">&#176;</text><text x="613.02" y="682.60" font-size="23.50" fill="#3a3a3a" textLength="17.21" lengthAdjust="spacing">N</text><text x="574.47" y="795.70" font-size="23.00" fill="#3a3a3a" textLength="24.61" lengthAdjust="spacing">90</text><text x="600.16" y="786.10" font-size="19.00" fill="#3a3a3a">&#176;</text><text x="613.02" y="795.70" font-size="23.50" fill="#3a3a3a" textLength="17.21" lengthAdjust="spacing">N</text><text x="927.91" y="120.30" font-size="24.50" font-weight="bold" textLength="139.86" lengthAdjust="spacing">By&gt;0 / Bz&gt;0</text><text x="962.32" y="143.35" font-size="21.30" font-weight="bold" textLength="75.01" lengthAdjust="spacing">12 MLT</text><text x="984.96" y="470.35" font-size="21.00" font-weight="bold" textLength="23.63" lengthAdjust="spacing">00</text><text x="820.23" y="307.00" font-size="21.00" font-weight="bold" textLength="23.44" lengthAdjust="spacing">18</text><text x="1152.96" y="309.10" font-size="21.00" font-weight="bold" textLength="23.72" lengthAdjust="spacing">06</text><text x="929.57" y="199.50" font-size="23.00" fill="#3a3a3a" textLength="24.61" lengthAdjust="spacing">75</text><text x="955.26" y="189.90" font-size="19.00" fill="#3a3a3a">&#176;</text><text x="968.12" y="199.50" font-size="23.50" fill="#3a3a3a" textLength="17.21" lengthAdjust="spacing">N</text><text x="929.57" y="312.60" font-size="23.00" fill="#3a3a3a" textLength="24.61" lengthAdjust="spacing">90</text><text x="955.26" y="303.00" font-size="19.00" fill="#3a3a3a">&#176;</text><text x="968.12" y="312.60" font-size="23.50" fill="#3a3a3a" textLength="17.21" lengthAdjust="spacing">N</text><text x="1385.01" y="120.00" font-size="24.50" font-weight="bold" textLength="139.86" lengthAdjust="spacing">By&gt;0 / Bz&lt;0</text><text x="1422.07" y="143.20" font-size="21.30" font-weight="bold" textLength="75.01" lengthAdjust="spacing">12 MLT</text><text x="1444.71" y="470.20" font-size="21.00" font-weight="bold" textLength="23.63" lengthAdjust="spacing">00</text><text x="1279.98" y="307.00" font-size="21.00" font-weight="bold" textLength="23.44" lengthAdjust="spacing">18</text><text x="1612.71" y="309.10" font-size="21.00" font-weight="bold" textLength="23.72" lengthAdjust="spacing">06</text><text x="1386.66" y="199.20" font-size="23.00" fill="#3a3a3a" textLength="24.61" lengthAdjust="spacing">75</text><text x="1412.36" y="189.60" font-size="19.00" fill="#3a3a3a">&#176;</text><text x="1425.22" y="199.20" font-size="23.50" fill="#3a3a3a" textLength="17.21" lengthAdjust="spacing">N</text><text x="1386.66" y="312.30" font-size="23.00" fill="#3a3a3a" textLength="24.61" lengthAdjust="spacing">90</text><text x="1412.36" y="302.70" font-size="19.00" fill="#3a3a3a">&#176;</text><text x="1425.22" y="312.30" font-size="23.50" fill="#3a3a3a" textLength="17.21" lengthAdjust="spacing">N</text><text x="927.91" y="600.30" font-size="24.50" font-weight="bold" textLength="139.86" lengthAdjust="spacing">By&lt;0 / Bz&gt;0</text><text x="962.32" y="624.10" font-size="21.30" font-weight="bold" textLength="75.01" lengthAdjust="spacing">12 MLT</text><text x="984.96" y="951.10" font-size="21.00" font-weight="bold" textLength="23.63" lengthAdjust="spacing">00</text><text x="820.23" y="788.50" font-size="21.00" font-weight="bold" textLength="23.44" lengthAdjust="spacing">18</text><text x="1152.96" y="790.60" font-size="21.00" font-weight="bold" textLength="23.72" lengthAdjust="spacing">06</text><text x="929.57" y="679.50" font-size="23.00" fill="#3a3a3a" textLength="24.61" lengthAdjust="spacing">75</text><text x="955.26" y="669.90" font-size="19.00" fill="#3a3a3a">&#176;</text><text x="968.12" y="679.50" font-size="23.50" fill="#3a3a3a" textLength="17.21" lengthAdjust="spacing">N</text><text x="929.57" y="792.60" font-size="23.00" fill="#3a3a3a" textLength="24.61" lengthAdjust="spacing">90</text><text x="955.26" y="783.00" font-size="19.00" fill="#3a3a3a">&#176;</text><text x="968.12" y="792.60" font-size="23.50" fill="#3a3a3a" textLength="17.21" lengthAdjust="spacing">N</text><text x="1385.01" y="600.30" font-size="24.50" font-weight="bold" textLength="139.86" lengthAdjust="spacing">By&lt;0 / Bz&lt;0</text><text x="1422.07" y="623.72" font-size="21.30" font-weight="bold" textLength="75.01" lengthAdjust="spacing">12 MLT</text><text x="1444.71" y="950.72" font-size="21.00" font-weight="bold" textLength="23.63" lengthAdjust="spacing">00</text><text x="1279.98" y="787.75" font-size="21.00" font-weight="bold" textLength="23.44" lengthAdjust="spacing">18</text><text x="1612.71" y="789.85" font-size="21.00" font-weight="bold" textLength="23.72" lengthAdjust="spacing">06</text><text x="1386.66" y="679.50" font-size="23.00" fill="#3a3a3a" textLength="24.61" lengthAdjust="spacing">75</text><text x="1412.36" y="669.90" font-size="19.00" fill="#3a3a3a">&#176;</text><text x="1425.22" y="679.50" font-size="23.50" fill="#3a3a3a" textLength="17.21" lengthAdjust="spacing">N</text><text x="1386.66" y="792.60" font-size="23.00" fill="#3a3a3a" textLength="24.61" lengthAdjust="spacing">90</text><text x="1412.36" y="783.00" font-size="19.00" fill="#3a3a3a">&#176;</text><text x="1425.22" y="792.60" font-size="23.50" fill="#3a3a3a" textLength="17.21" lengthAdjust="spacing">N</text><text x="108.41" y="1101.20" font-size="24.50" font-weight="bold" textLength="139.86" lengthAdjust="spacing">By&gt;0 / Bz&gt;0</text><text x="144.17" y="1123.98" font-size="21.30" font-weight="bold" textLength="75.01" lengthAdjust="spacing">12 MLT</text><text x="166.81" y="1450.98" font-size="21.00" font-weight="bold" textLength="23.63" lengthAdjust="spacing">00</text><text x="2.09" y="1287.35" font-size="21.00" font-weight="bold" textLength="23.44" lengthAdjust="spacing">18</text><text x="334.81" y="1289.45" font-size="21.00" font-weight="bold" textLength="23.72" lengthAdjust="spacing">06</text><text x="110.06" y="1180.40" font-size="23.00" fill="#3a3a3a" textLength="24.61" lengthAdjust="spacing">75</text><text x="135.76" y="1170.80" font-size="19.00" fill="#3a3a3a">&#176;</text><text x="148.62" y="1180.40" font-size="23.50" fill="#3a3a3a" textLength="17.21" lengthAdjust="spacing">N</text><text x="110.06" y="1293.50" font-size="23.00" fill="#3a3a3a" textLength="24.61" lengthAdjust="spacing">90</text><text x="135.76" y="1283.90" font-size="19.00" fill="#3a3a3a">&#176;</text><text x="148.62" y="1293.50" font-size="23.50" fill="#3a3a3a" textLength="17.21" lengthAdjust="spacing">N</text><text x="570.91" y="1101.20" font-size="24.50" font-weight="bold" textLength="139.86" lengthAdjust="spacing">By&gt;0 / Bz&lt;0</text><text x="603.57" y="1123.50" font-size="21.30" font-weight="bold" textLength="75.01" lengthAdjust="spacing">12 MLT</text><text x="626.21" y="1450.50" font-size="21.00" font-weight="bold" textLength="23.63" lengthAdjust="spacing">00</text><text x="461.49" y="1286.40" font-size="21.00" font-weight="bold" textLength="23.44" lengthAdjust="spacing">18</text><text x="794.21" y="1288.50" font-size="21.00" font-weight="bold" textLength="23.72" lengthAdjust="spacing">06</text><text x="572.57" y="1180.40" font-size="23.00" fill="#3a3a3a" textLength="24.61" lengthAdjust="spacing">75</text><text x="598.26" y="1170.80" font-size="19.00" fill="#3a3a3a">&#176;</text><text x="611.12" y="1180.40" font-size="23.50" fill="#3a3a3a" textLength="17.21" lengthAdjust="spacing">N</text><text x="572.57" y="1293.50" font-size="23.00" fill="#3a3a3a" textLength="24.61" lengthAdjust="spacing">90</text><text x="598.26" y="1283.90" font-size="19.00" fill="#3a3a3a">&#176;</text><text x="611.12" y="1293.50" font-size="23.50" fill="#3a3a3a" textLength="17.21" lengthAdjust="spacing">N</text><text x="108.41" y="1580.00" font-size="24.50" font-weight="bold" textLength="139.86" lengthAdjust="spacing">By&lt;0 / Bz&gt;0</text><text x="144.32" y="1604.33" font-size="21.30" font-weight="bold" textLength="75.01" lengthAdjust="spacing">12 MLT</text><text x="166.96" y="1931.33" font-size="21.00" font-weight="bold" textLength="23.63" lengthAdjust="spacing">00</text><text x="2.24" y="1769.25" font-size="21.00" font-weight="bold" textLength="23.44" lengthAdjust="spacing">18</text><text x="334.96" y="1771.35" font-size="21.00" font-weight="bold" textLength="23.72" lengthAdjust="spacing">06</text><text x="110.06" y="1659.20" font-size="23.00" fill="#3a3a3a" textLength="24.61" lengthAdjust="spacing">75</text><text x="135.76" y="1649.60" font-size="19.00" fill="#3a3a3a">&#176;</text><text x="148.62" y="1659.20" font-size="23.50" fill="#3a3a3a" textLength="17.21" lengthAdjust="spacing">N</text><text x="110.06" y="1772.30" font-size="23.00" fill="#3a3a3a" textLength="24.61" lengthAdjust="spacing">90</text><text x="135.76" y="1762.70" font-size="19.00" fill="#3a3a3a">&#176;</text><text x="148.62" y="1772.30" font-size="23.50" fill="#3a3a3a" textLength="17.21" lengthAdjust="spacing">N</text><text x="570.91" y="1580.00" font-size="24.50" font-weight="bold" textLength="139.86" lengthAdjust="spacing">By&lt;0 / Bz&lt;0</text><text x="603.57" y="1603.45" font-size="21.30" font-weight="bold" textLength="75.01" lengthAdjust="spacing">12 MLT</text><text x="626.21" y="1930.45" font-size="21.00" font-weight="bold" textLength="23.63" lengthAdjust="spacing">00</text><text x="461.49" y="1767.50" font-size="21.00" font-weight="bold" textLength="23.44" lengthAdjust="spacing">18</text><text x="794.21" y="1769.60" font-size="21.00" font-weight="bold" textLength="23.72" lengthAdjust="spacing">06</text><text x="572.57" y="1659.20" font-size="23.00" fill="#3a3a3a" textLength="24.61" lengthAdjust="spacing">75</text><text x="598.26" y="1649.60" font-size="19.00" fill="#3a3a3a">&#176;</text><text x="611.12" y="1659.20" font-size="23.50" fill="#3a3a3a" textLength="17.21" lengthAdjust="spacing">N</text><text x="572.57" y="1772.30" font-size="23.00" fill="#3a3a3a" textLength="24.61" lengthAdjust="spacing">90</text><text x="598.26" y="1762.70" font-size="19.00" fill="#3a3a3a">&#176;</text><text x="611.12" y="1772.30" font-size="23.50" fill="#3a3a3a" textLength="17.21" lengthAdjust="spacing">N</text><text x="926.71" y="1100.50" font-size="24.50" font-weight="bold" textLength="139.86" lengthAdjust="spacing">By&gt;0 / Bz&gt;0</text><text x="963.32" y="1123.95" font-size="21.30" font-weight="bold" textLength="75.01" lengthAdjust="spacing">12 MLT</text><text x="985.96" y="1450.95" font-size="21.00" font-weight="bold" textLength="23.63" lengthAdjust="spacing">00</text><text x="821.23" y="1288.00" font-size="21.00" font-weight="bold" textLength="23.44" lengthAdjust="spacing">18</text><text x="1153.96" y="1290.10" font-size="21.00" font-weight="bold" textLength="23.72" lengthAdjust="spacing">06</text><text x="928.37" y="1179.70" font-size="23.00" fill="#3a3a3a" textLength="24.61" lengthAdjust="spacing">75</text><text x="954.06" y="1170.10" font-size="19.00" fill="#3a3a3a">&#176;</text><text x="966.92" y="1179.70" font-size="23.50" fill="#3a3a3a" textLength="17.21" lengthAdjust="spacing">N</text><text x="928.37" y="1292.80" font-size="23.00" fill="#3a3a3a" textLength="24.61" lengthAdjust="spacing">90</text><text x="954.06" y="1283.20" font-size="19.00" fill="#3a3a3a">&#176;</text><text x="966.92" y="1292.80" font-size="23.50" fill="#3a3a3a" textLength="17.21" lengthAdjust="spacing">N</text><text x="1389.21" y="1100.50" font-size="24.50" font-weight="bold" textLength="139.86" lengthAdjust="spacing">By&gt;0 / Bz&lt;0</text><text x="1423.07" y="1123.28" font-size="21.30" font-weight="bold" textLength="75.01" lengthAdjust="spacing">12 MLT</text><text x="1445.71" y="1450.28" font-size="21.00" font-weight="bold" textLength="23.63" lengthAdjust="spacing">00</text><text x="1280.98" y="1286.65" font-size="21.00" font-weight="bold" textLength="23.44" lengthAdjust="spacing">18</text><text x="1613.71" y="1288.75" font-size="21.00" font-weight="bold" textLength="23.72" lengthAdjust="spacing">06</text><text x="1390.86" y="1179.70" font-size="23.00" fill="#3a3a3a" textLength="24.61" lengthAdjust="spacing">75</text><text x="1416.56" y="1170.10" font-size="19.00" fill="#3a3a3a">&#176;</text><text x="1429.42" y="1179.70" font-size="23.50" fill="#3a3a3a" textLength="17.21" lengthAdjust="spacing">N</text><text x="1390.86" y="1292.80" font-size="23.00" fill="#3a3a3a" textLength="24.61" lengthAdjust="spacing">90</text><text x="1416.56" y="1283.20" font-size="19.00" fill="#3a3a3a">&#176;</text><text x="1429.42" y="1292.80" font-size="23.50" fill="#3a3a3a" textLength="17.21" lengthAdjust="spacing">N</text><text x="926.71" y="1580.70" font-size="24.50" font-weight="bold" textLength="139.86" lengthAdjust="spacing">By&lt;0 / Bz&gt;0</text><text x="962.92" y="1604.85" font-size="21.30" font-weight="bold" textLength="75.01" lengthAdjust="spacing">12 MLT</text><text x="985.56" y="1931.85" font-size="21.00" font-weight="bold" textLength="23.63" lengthAdjust="spacing">00</text><text x="820.83" y="1769.60" font-size="21.00" font-weight="bold" textLength="23.44" lengthAdjust="spacing">18</text><text x="1153.56" y="1771.70" font-size="21.00" font-weight="bold" textLength="23.72" lengthAdjust="spacing">06</text><text x="928.37" y="1659.90" font-size="23.00" fill="#3a3a3a" textLength="24.61" lengthAdjust="spacing">75</text><text x="954.06" y="1650.30" font-size="19.00" fill="#3a3a3a">&#176;</text><text x="966.92" y="1659.90" font-size="23.50" fill="#3a3a3a" textLength="17.21" lengthAdjust="spacing">N</text><text x="928.37" y="1773.00" font-size="23.00" fill="#3a3a3a" textLength="24.61" lengthAdjust="spacing">90</text><text x="954.06" y="1763.40" font-size="19.00" fill="#3a3a3a">&#176;</text><text x="966.92" y="1773.00" font-size="23.50" fill="#3a3a3a" textLength="17.21" lengthAdjust="spacing">N</text><text x="1388.91" y="1580.70" font-size="24.50" font-weight="bold" textLength="139.86" lengthAdjust="spacing">By&lt;0 / Bz&lt;0</text><text x="1423.07" y="1604.15" font-size="21.30" font-weight="bold" textLength="75.01" lengthAdjust="spacing">12 MLT</text><text x="1445.71" y="1931.15" font-size="21.00" font-weight="bold" textLength="23.63" lengthAdjust="spacing">00</text><text x="1280.98" y="1768.20" font-size="21.00" font-weight="bold" textLength="23.44" lengthAdjust="spacing">18</text><text x="1613.71" y="1770.30" font-size="21.00" font-weight="bold" textLength="23.72" lengthAdjust="spacing">06</text><text x="1390.56" y="1659.90" font-size="23.00" fill="#3a3a3a" textLength="24.61" lengthAdjust="spacing">75</text><text x="1416.26" y="1650.30" font-size="19.00" fill="#3a3a3a">&#176;</text><text x="1429.12" y="1659.90" font-size="23.50" fill="#3a3a3a" textLength="17.21" lengthAdjust="spacing">N</text><text x="1390.56" y="1773.00" font-size="23.00" fill="#3a3a3a" textLength="24.61" lengthAdjust="spacing">90</text><text x="1416.26" y="1763.40" font-size="19.00" fill="#3a3a3a">&#176;</text><text x="1429.12" y="1773.00" font-size="23.50" fill="#3a3a3a" textLength="17.21" lengthAdjust="spacing">N</text><text x="167.47" y="68.80" font-size="31.50" textLength="171.33" lengthAdjust="spacing">|Btot| &lt; 3 nT</text><text x="355.68" y="68.80" font-size="31.50" textLength="12.67" lengthAdjust="spacing">-</text><text x="388.23" y="68.20" font-size="32.00" font-family="Liberation Serif, Times New Roman, serif" textLength="21.12" lengthAdjust="spacingAndGlyphs">&#963;</text><text x="408.78" y="75.20" font-size="24.50" font-family="Liberation Serif, Times New Roman, serif" textLength="17.56" lengthAdjust="spacingAndGlyphs">&#934;</text><text x="438.73" y="68.40" font-size="31.50" textLength="169.55" lengthAdjust="spacing">&gt;= 0.1 rads</text><text x="937.44" y="68.20" font-size="31.50" textLength="266.34" lengthAdjust="spacing">3 nT &lt; |Btot| &lt; 5 nT</text><text x="1221.28" y="68.20" font-size="31.50" textLength="11.27" lengthAdjust="spacing">-</text><text x="1252.74" y="67.80" font-size="32.00" font-family="Liberation Serif, Times New Roman, serif" textLength="21.01" lengthAdjust="spacingAndGlyphs">&#963;</text><text x="1273.28" y="74.80" font-size="24.50" font-family="Liberation Serif, Times New Roman, serif" textLength="17.46" lengthAdjust="spacingAndGlyphs">&#934;</text><text x="1302.52" y="68.00" font-size="31.50" textLength="169.45" lengthAdjust="spacing">&gt;= 0.1 rads</text><text x="108.84" y="1049.40" font-size="31.50" textLength="286.88" lengthAdjust="spacing">5 nT &lt; |Btot| &lt; 10 nT</text><text x="412.58" y="1049.40" font-size="31.50" textLength="11.87" lengthAdjust="spacing">-</text><text x="451.63" y="1048.90" font-size="32.00" font-family="Liberation Serif, Times New Roman, serif" textLength="21.12" lengthAdjust="spacingAndGlyphs">&#963;</text><text x="472.18" y="1055.90" font-size="24.50" font-family="Liberation Serif, Times New Roman, serif" textLength="17.56" lengthAdjust="spacingAndGlyphs">&#934;</text><text x="501.43" y="1049.20" font-size="31.50" textLength="169.75" lengthAdjust="spacing">&gt;= 0.1 rads</text><text x="976.66" y="1048.20" font-size="31.50" textLength="188.17" lengthAdjust="spacing">|Btot| &gt; 10 nT</text><text x="1181.78" y="1048.20" font-size="31.50" textLength="11.17" lengthAdjust="spacing">-</text><text x="1219.39" y="1047.40" font-size="32.00" font-family="Liberation Serif, Times New Roman, serif" textLength="21.67" lengthAdjust="spacingAndGlyphs">&#963;</text><text x="1239.77" y="1054.40" font-size="24.50" font-family="Liberation Serif, Times New Roman, serif" textLength="17.89" lengthAdjust="spacingAndGlyphs">&#934;</text><text x="1268.92" y="1047.60" font-size="31.50" textLength="170.65" lengthAdjust="spacing">&gt;= 0.1 rads</text><text x="11.25" y="959.00" font-size="55.00" font-weight="bold" textLength="67.25" lengthAdjust="spacing">(a)</text><text x="822.95" y="955.50" font-size="55.00" font-weight="bold" textLength="70.53" lengthAdjust="spacing">(b)</text><text x="11.25" y="1929.50" font-size="55.00" font-weight="bold" textLength="67.25" lengthAdjust="spacing">(c)</text><text x="822.95" y="1925.80" font-size="55.00" font-weight="bold" textLength="70.53" lengthAdjust="spacing">(d)</text><rect x="126.3" y="2001.0" width="1378.3" height="58.5" fill="none" stroke="#000" stroke-opacity=".55" stroke-width="1.5"/><text x="116.59" y="2108.80" font-size="35.00" font-weight="bold">0</text><text x="254.50" y="2108.80" font-size="35.00" font-weight="bold">2</text><text x="392.07" y="2108.80" font-size="35.00" font-weight="bold">4</text><text x="530.08" y="2108.80" font-size="35.00" font-weight="bold">6</text><text x="667.91" y="2108.80" font-size="35.00" font-weight="bold">8</text><text x="795.59" y="2108.80" font-size="35.00" font-weight="bold">10</text><text x="933.42" y="2108.80" font-size="35.00" font-weight="bold">12</text><text x="1070.63" y="2108.80" font-size="35.00" font-weight="bold">14</text><text x="1208.99" y="2108.80" font-size="35.00" font-weight="bold">16</text><text x="1346.73" y="2108.80" font-size="35.00" font-weight="bold">18</text><text x="1483.46" y="2108.80" font-size="35.00" font-weight="bold">20</text><path d="M264.1,2059.5V2047.0M402.0,2059.5V2047.0M539.8,2059.5V2047.0M677.6,2059.5V2047.0M815.4,2059.5V2047.0M953.3,2059.5V2047.0M1091.1,2059.5V2047.0M1228.9,2059.5V2047.0M1366.8,2059.5V2047.0" stroke="#000" stroke-opacity=".7" stroke-width="1.5"/><text x="684.90" y="2155.40" font-size="35.00" font-weight="bold" textLength="260.64" lengthAdjust="spacing">Occurrence (%)</text><g fill="#000"><rect x="0" y="0" width="1640" height="3"/><rect x="0" y="0" width="3" height="1954"/><rect x="1637" y="0" width="3" height="1954"/><rect x="0" y="1951" width="1640" height="3"/><rect x="818.5" y="0" width="3" height="1954"/><rect x="0" y="975.8" width="1640" height="2.6"/></g></svg></div></body></html>
